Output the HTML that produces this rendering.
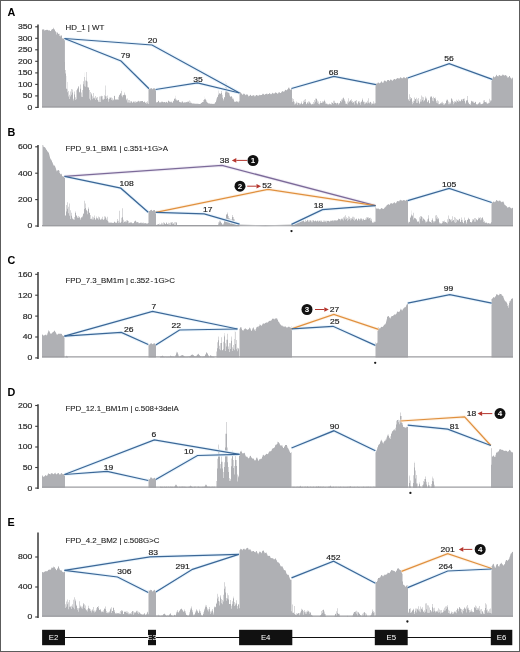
<!DOCTYPE html>
<html><head><meta charset="utf-8"><style>
html,body{margin:0;padding:0;background:#fff;}
body{width:520px;height:652px;overflow:hidden;position:relative;}
svg{position:absolute;left:0;top:0;display:block;filter:blur(0.3px);}
text{font-family:"Liberation Sans",sans-serif;}
.frame{position:absolute;left:0;top:0;width:518px;height:650px;border:1px solid #5c5c5c;}
</style></head><body>
<svg width="520" height="652" viewBox="0 0 520 652">
<path d="M42.00,107.40 L42.00,29.93 L42.50,29.93 L42.50,29.07 L43.00,29.07 L43.00,29.19 L43.50,29.19 L43.50,29.45 L44.00,29.45 L44.00,29.73 L44.50,29.73 L44.50,30.65 L45.00,30.65 L45.00,30.35 L45.50,30.35 L45.50,30.10 L46.00,30.10 L46.00,29.80 L46.50,29.80 L46.50,30.08 L47.00,30.08 L47.00,29.88 L47.50,29.88 L47.50,29.78 L48.00,29.78 L48.00,30.53 L48.50,30.53 L48.50,30.23 L49.00,30.23 L49.00,30.43 L49.50,30.43 L49.50,30.17 L50.00,30.17 L50.00,31.09 L50.50,31.09 L50.50,31.01 L51.00,31.01 L51.00,30.35 L51.50,30.35 L51.50,29.41 L52.00,29.41 L52.00,28.97 L52.50,28.97 L52.50,29.19 L53.00,29.19 L53.00,28.75 L53.50,28.75 L53.50,27.78 L54.00,27.78 L54.00,29.02 L54.50,29.02 L54.50,29.89 L55.00,29.89 L55.00,31.19 L55.50,31.19 L55.50,31.59 L56.00,31.59 L56.00,32.25 L56.50,32.25 L56.50,34.43 L57.00,34.43 L57.00,33.11 L57.50,33.11 L57.50,32.31 L58.00,32.31 L58.00,33.78 L58.50,33.78 L58.50,34.02 L59.00,34.02 L59.00,33.77 L59.50,33.77 L59.50,35.94 L60.00,35.94 L60.00,36.49 L60.50,36.49 L60.50,35.60 L61.00,35.60 L61.00,34.98 L61.50,34.98 L61.50,35.99 L62.00,35.99 L62.00,38.08 L62.50,38.08 L62.50,38.75 L63.00,38.75 L63.00,38.56 L63.50,38.56 L63.50,38.47 L64.00,38.47 L64.00,38.84 L64.50,38.84 L64.50,38.97 L64.90,38.97 L64.90,62.00 L65.00,62.00 L65.00,73.49 L65.50,73.49 L65.50,70.00 L66.00,70.00 L66.00,88.34 L66.30,88.34 L66.30,76.00 L66.50,76.00 L66.50,89.07 L67.00,89.07 L67.00,89.21 L67.20,89.21 L67.20,82.00 L67.50,82.00 L67.50,92.34 L68.00,92.34 L68.00,90.98 L68.50,90.98 L68.50,96.45 L69.00,96.45 L69.00,99.06 L69.50,99.06 L69.50,94.80 L70.00,94.80 L70.00,96.48 L70.50,96.48 L70.50,91.58 L71.00,91.58 L71.00,94.71 L71.50,94.71 L71.50,89.01 L72.00,89.01 L72.00,89.60 L72.50,89.60 L72.50,92.41 L73.00,92.41 L73.00,98.76 L73.50,98.76 L73.50,100.60 L74.00,100.60 L74.00,91.60 L74.50,91.60 L74.50,94.38 L75.00,94.38 L75.00,97.15 L75.50,97.15 L75.50,99.98 L76.00,99.98 L76.00,99.36 L76.50,99.36 L76.50,90.14 L77.00,90.14 L77.00,89.18 L77.50,89.18 L77.50,88.30 L78.00,88.30 L78.00,87.27 L78.50,87.27 L78.50,85.99 L79.00,85.99 L79.00,92.41 L79.50,92.41 L79.50,91.73 L80.00,91.73 L80.00,84.43 L80.50,84.43 L80.50,88.77 L81.00,88.77 L81.00,92.61 L81.50,92.61 L81.50,96.80 L82.00,96.80 L82.00,97.06 L82.50,97.06 L82.50,90.01 L83.00,90.01 L83.00,84.35 L83.50,84.35 L83.50,81.25 L84.00,81.25 L84.00,86.37 L84.40,86.37 L84.40,72.50 L84.50,72.50 L84.50,77.04 L85.00,77.04 L85.00,86.74 L85.50,86.74 L85.50,80.50 L86.00,80.50 L86.00,80.77 L86.50,80.77 L86.50,77.49 L86.60,77.49 L86.60,72.00 L87.00,72.00 L87.00,81.57 L87.50,81.57 L87.50,87.33 L88.00,87.33 L88.00,88.12 L88.50,88.12 L88.50,86.95 L89.00,86.95 L89.00,89.89 L89.50,89.89 L89.50,98.64 L90.00,98.64 L90.00,100.15 L90.50,100.15 L90.50,92.06 L91.00,92.06 L91.00,94.47 L91.50,94.47 L91.50,93.27 L92.00,93.27 L92.00,99.22 L92.50,99.22 L92.50,96.37 L93.00,96.37 L93.00,98.32 L93.50,98.32 L93.50,93.01 L94.00,93.01 L94.00,98.62 L94.50,98.62 L94.50,97.39 L95.00,97.39 L95.00,96.10 L95.50,96.10 L95.50,100.10 L96.00,100.10 L96.00,98.54 L96.50,98.54 L96.50,97.61 L97.00,97.61 L97.00,96.98 L97.50,96.98 L97.50,100.06 L98.00,100.06 L98.00,100.45 L98.50,100.45 L98.50,102.05 L99.00,102.05 L99.00,96.44 L99.50,96.44 L99.50,102.11 L100.00,102.11 L100.00,102.01 L100.50,102.01 L100.50,96.26 L101.00,96.26 L101.00,96.41 L101.50,96.41 L101.50,95.75 L102.00,95.75 L102.00,99.41 L102.50,99.41 L102.50,96.10 L103.00,96.10 L103.00,100.12 L103.50,100.12 L103.50,98.75 L104.00,98.75 L104.00,95.28 L104.50,95.28 L104.50,99.07 L105.00,99.07 L105.00,96.25 L105.50,96.25 L105.50,89.63 L105.60,89.63 L105.60,85.40 L106.00,85.40 L106.00,96.20 L106.50,96.20 L106.50,98.93 L107.00,98.93 L107.00,97.91 L107.50,97.91 L107.50,95.47 L108.00,95.47 L108.00,99.34 L108.50,99.34 L108.50,101.73 L109.00,101.73 L109.00,97.60 L109.50,97.60 L109.50,99.01 L110.00,99.01 L110.00,97.65 L110.50,97.65 L110.50,97.44 L111.00,97.44 L111.00,97.48 L111.50,97.48 L111.50,99.88 L112.00,99.88 L112.00,98.24 L112.50,98.24 L112.50,100.53 L113.00,100.53 L113.00,100.35 L113.50,100.35 L113.50,99.53 L114.00,99.53 L114.00,95.93 L114.50,95.93 L114.50,95.84 L115.00,95.84 L115.00,99.70 L115.50,99.70 L115.50,99.29 L116.00,99.29 L116.00,99.43 L116.50,99.43 L116.50,99.60 L117.00,99.60 L117.00,99.66 L117.50,99.66 L117.50,99.22 L118.00,99.22 L118.00,99.78 L118.50,99.78 L118.50,96.76 L119.00,96.76 L119.00,94.65 L119.50,94.65 L119.50,95.13 L120.00,95.13 L120.00,93.04 L120.50,93.04 L120.50,93.81 L121.00,93.81 L121.00,95.85 L121.40,95.85 L121.40,89.60 L121.50,89.60 L121.50,90.98 L122.00,90.98 L122.00,95.44 L122.50,95.44 L122.50,97.33 L123.00,97.33 L123.00,95.25 L123.50,95.25 L123.50,94.98 L124.00,94.98 L124.00,94.73 L124.50,94.73 L124.50,92.53 L125.00,92.53 L125.00,94.81 L125.50,94.81 L125.50,95.52 L126.00,95.52 L126.00,100.13 L126.50,100.13 L126.50,98.85 L127.00,98.85 L127.00,98.49 L127.50,98.49 L127.50,102.49 L128.00,102.49 L128.00,102.59 L128.50,102.59 L128.50,100.03 L129.00,100.03 L129.00,99.90 L129.50,99.90 L129.50,102.83 L130.00,102.83 L130.00,101.35 L130.50,101.35 L130.50,102.77 L131.00,102.77 L131.00,101.14 L131.50,101.14 L131.50,101.40 L132.00,101.40 L132.00,102.55 L132.50,102.55 L132.50,102.67 L133.00,102.67 L133.00,101.26 L133.50,101.26 L133.50,101.96 L134.00,101.96 L134.00,101.52 L134.50,101.52 L134.50,102.52 L135.00,102.52 L135.00,102.76 L135.50,102.76 L135.50,101.28 L136.00,101.28 L136.00,101.80 L136.50,101.80 L136.50,102.15 L137.00,102.15 L137.00,101.97 L137.50,101.97 L137.50,101.36 L138.00,101.36 L138.00,101.32 L138.50,101.32 L138.50,100.69 L139.00,100.69 L139.00,102.32 L139.50,102.32 L139.50,101.00 L140.00,101.00 L140.00,101.45 L140.50,101.45 L140.50,100.88 L141.00,100.88 L141.00,101.08 L141.50,101.08 L141.50,101.13 L142.00,101.13 L142.00,101.10 L142.50,101.10 L142.50,101.04 L143.00,101.04 L143.00,101.97 L143.50,101.97 L143.50,102.33 L144.00,102.33 L144.00,101.74 L144.50,101.74 L144.50,101.51 L145.00,101.51 L145.00,102.77 L145.50,102.77 L145.50,102.82 L146.00,102.82 L146.00,103.78 L146.50,103.78 L146.50,101.89 L147.00,101.89 L147.00,101.18 L147.50,101.18 L147.50,103.18 L148.00,103.18 L148.00,103.91 L148.50,103.91 L148.50,88.58 L149.00,88.58 L149.00,89.09 L149.50,89.09 L149.50,88.95 L150.00,88.95 L150.00,89.00 L150.50,89.00 L150.50,88.10 L151.00,88.10 L151.00,88.14 L151.50,88.14 L151.50,88.28 L152.00,88.28 L152.00,88.86 L152.50,88.86 L152.50,89.19 L153.00,89.19 L153.00,88.52 L153.50,88.52 L153.50,88.14 L154.00,88.14 L154.00,88.06 L154.50,88.06 L154.50,88.66 L155.00,88.66 L155.00,89.39 L155.50,89.39 L155.50,89.39 L156.00,89.39 L156.00,102.50 L156.50,102.50 L156.50,102.24 L157.00,102.24 L157.00,102.14 L157.50,102.14 L157.50,102.07 L158.00,102.07 L158.00,100.67 L158.50,100.67 L158.50,100.94 L159.00,100.94 L159.00,102.18 L159.50,102.18 L159.50,102.41 L160.00,102.41 L160.00,102.33 L160.50,102.33 L160.50,102.55 L161.00,102.55 L161.00,101.55 L161.50,101.55 L161.50,102.29 L162.00,102.29 L162.00,101.88 L162.50,101.88 L162.50,101.47 L163.00,101.47 L163.00,102.08 L163.50,102.08 L163.50,102.51 L164.00,102.51 L164.00,101.90 L164.50,101.90 L164.50,102.07 L165.00,102.07 L165.00,102.65 L165.50,102.65 L165.50,102.33 L166.00,102.33 L166.00,101.69 L166.50,101.69 L166.50,102.10 L167.00,102.10 L167.00,102.45 L167.50,102.45 L167.50,102.81 L168.00,102.81 L168.00,100.77 L168.50,100.77 L168.50,100.77 L169.00,100.77 L169.00,101.70 L169.50,101.70 L169.50,101.48 L170.00,101.48 L170.00,101.69 L170.50,101.69 L170.50,102.32 L171.00,102.32 L171.00,101.45 L171.50,101.45 L171.50,102.14 L172.00,102.14 L172.00,102.72 L172.50,102.72 L172.50,102.51 L173.00,102.51 L173.00,101.15 L173.50,101.15 L173.50,100.65 L174.00,100.65 L174.00,99.02 L174.50,99.02 L174.50,98.48 L175.00,98.48 L175.00,98.08 L175.30,98.08 L175.30,95.80 L175.50,95.80 L175.50,99.45 L176.00,99.45 L176.00,99.57 L176.50,99.57 L176.50,100.41 L177.00,100.41 L177.00,100.31 L177.50,100.31 L177.50,100.71 L178.00,100.71 L178.00,100.31 L178.50,100.31 L178.50,100.00 L179.00,100.00 L179.00,101.90 L179.50,101.90 L179.50,101.83 L180.00,101.83 L180.00,102.50 L180.50,102.50 L180.50,102.02 L181.00,102.02 L181.00,102.70 L181.50,102.70 L181.50,101.75 L182.00,101.75 L182.00,101.61 L182.50,101.61 L182.50,101.52 L183.00,101.52 L183.00,102.64 L183.50,102.64 L183.50,102.39 L184.00,102.39 L184.00,101.93 L184.50,101.93 L184.50,102.76 L185.00,102.76 L185.00,102.35 L185.50,102.35 L185.50,102.43 L186.00,102.43 L186.00,102.10 L186.50,102.10 L186.50,102.17 L187.00,102.17 L187.00,101.49 L187.50,101.49 L187.50,102.30 L188.00,102.30 L188.00,101.15 L188.50,101.15 L188.50,101.89 L189.00,101.89 L189.00,100.44 L189.50,100.44 L189.50,102.90 L190.00,102.90 L190.00,101.43 L190.50,101.43 L190.50,102.89 L191.00,102.89 L191.00,102.76 L191.50,102.76 L191.50,103.15 L192.00,103.15 L192.00,103.46 L192.50,103.46 L192.50,103.52 L193.00,103.52 L193.00,103.54 L193.50,103.54 L193.50,103.57 L194.00,103.57 L194.00,103.59 L194.50,103.59 L194.50,103.64 L195.00,103.64 L195.00,103.67 L195.50,103.67 L195.50,103.71 L196.00,103.71 L196.00,103.74 L196.50,103.74 L196.50,103.77 L197.00,103.77 L197.00,103.80 L197.50,103.80 L197.50,103.84 L198.00,103.84 L198.00,103.87 L198.50,103.87 L198.50,103.90 L199.00,103.90 L199.00,103.94 L199.50,103.94 L199.50,103.97 L200.00,103.97 L200.00,104.00 L200.50,104.00 L200.50,103.60 L201.00,103.60 L201.00,103.10 L201.50,103.10 L201.50,102.86 L202.00,102.86 L202.00,102.31 L202.50,102.31 L202.50,101.96 L203.00,101.96 L203.00,101.98 L203.50,101.98 L203.50,99.96 L204.00,99.96 L204.00,99.14 L204.50,99.14 L204.50,99.40 L204.90,99.40 L204.90,96.60 L205.00,96.60 L205.00,98.68 L205.50,98.68 L205.50,99.72 L206.00,99.72 L206.00,100.54 L206.50,100.54 L206.50,101.99 L207.00,101.99 L207.00,102.38 L207.50,102.38 L207.50,102.82 L208.00,102.82 L208.00,103.55 L208.50,103.55 L208.50,103.21 L209.00,103.21 L209.00,103.23 L209.50,103.23 L209.50,103.69 L210.00,103.69 L210.00,103.48 L210.50,103.48 L210.50,103.88 L211.00,103.88 L211.00,103.74 L211.50,103.74 L211.50,103.85 L212.00,103.85 L212.00,103.75 L212.50,103.75 L212.50,103.93 L213.00,103.93 L213.00,103.83 L213.50,103.83 L213.50,103.92 L214.00,103.92 L214.00,104.00 L214.50,104.00 L214.50,103.29 L215.00,103.29 L215.00,102.58 L215.50,102.58 L215.50,101.96 L216.00,101.96 L216.00,100.45 L216.50,100.45 L216.50,98.57 L217.00,98.57 L217.00,97.24 L217.50,97.24 L217.50,96.71 L218.00,96.71 L218.00,95.03 L218.50,95.03 L218.50,93.89 L218.70,93.89 L218.70,90.60 L219.00,90.60 L219.00,92.94 L219.50,92.94 L219.50,93.87 L220.00,93.87 L220.00,94.00 L220.50,94.00 L220.50,93.57 L221.00,93.57 L221.00,92.97 L221.50,92.97 L221.50,91.00 L222.00,91.00 L222.00,94.75 L222.50,94.75 L222.50,97.74 L223.00,97.74 L223.00,100.43 L223.50,100.43 L223.50,99.00 L224.00,99.00 L224.00,97.55 L224.50,97.55 L224.50,96.94 L225.00,96.94 L225.00,92.52 L225.50,92.52 L225.50,87.06 L225.90,87.06 L225.90,81.00 L226.00,81.00 L226.00,83.39 L226.50,83.39 L226.50,86.76 L227.00,86.76 L227.00,89.46 L227.50,89.46 L227.50,92.61 L228.00,92.61 L228.00,92.21 L228.50,92.21 L228.50,93.04 L229.00,93.04 L229.00,93.16 L229.50,93.16 L229.50,95.45 L230.00,95.45 L230.00,96.53 L230.50,96.53 L230.50,96.70 L231.00,96.70 L231.00,96.54 L231.50,96.54 L231.50,96.31 L232.00,96.31 L232.00,97.38 L232.50,97.38 L232.50,99.09 L233.00,99.09 L233.00,98.55 L233.50,98.55 L233.50,99.70 L234.00,99.70 L234.00,101.40 L234.50,101.40 L234.50,101.64 L235.00,101.64 L235.00,101.53 L235.50,101.53 L235.50,102.04 L236.00,102.04 L236.00,101.41 L236.50,101.41 L236.50,101.19 L237.00,101.19 L237.00,101.79 L237.50,101.79 L237.50,101.58 L238.00,101.58 L238.00,101.45 L238.50,101.45 L238.50,102.44 L239.00,102.44 L239.00,101.23 L239.50,101.23 L239.50,93.14 L240.00,93.14 L240.00,92.43 L240.50,92.43 L240.50,92.15 L241.00,92.15 L241.00,93.04 L241.50,93.04 L241.50,94.02 L242.00,94.02 L242.00,94.88 L242.50,94.88 L242.50,94.25 L243.00,94.25 L243.00,94.19 L243.50,94.19 L243.50,93.44 L244.00,93.44 L244.00,93.85 L244.50,93.85 L244.50,94.20 L245.00,94.20 L245.00,95.26 L245.50,95.26 L245.50,94.74 L246.00,94.74 L246.00,94.83 L246.50,94.83 L246.50,94.23 L247.00,94.23 L247.00,94.31 L247.50,94.31 L247.50,95.06 L248.00,95.06 L248.00,95.63 L248.50,95.63 L248.50,96.51 L249.00,96.51 L249.00,96.03 L249.50,96.03 L249.50,95.39 L250.00,95.39 L250.00,94.73 L250.50,94.73 L250.50,94.93 L251.00,94.93 L251.00,95.83 L251.50,95.83 L251.50,95.99 L252.00,95.99 L252.00,96.12 L252.50,96.12 L252.50,95.32 L253.00,95.32 L253.00,95.10 L253.50,95.10 L253.50,95.43 L254.00,95.43 L254.00,95.60 L254.50,95.60 L254.50,96.38 L255.00,96.38 L255.00,96.20 L255.50,96.20 L255.50,95.55 L256.00,95.55 L256.00,95.02 L256.50,95.02 L256.50,95.08 L257.00,95.08 L257.00,95.40 L257.50,95.40 L257.50,95.58 L258.00,95.58 L258.00,95.71 L258.50,95.71 L258.50,95.55 L259.00,95.55 L259.00,95.22 L259.50,95.22 L259.50,94.63 L260.00,94.63 L260.00,94.88 L260.50,94.88 L260.50,95.25 L261.00,95.25 L261.00,95.02 L261.50,95.02 L261.50,94.89 L262.00,94.89 L262.00,94.48 L262.50,94.48 L262.50,93.72 L263.00,93.72 L263.00,93.71 L263.50,93.71 L263.50,94.29 L264.00,94.29 L264.00,94.52 L264.50,94.52 L264.50,95.00 L265.00,95.00 L265.00,94.36 L265.50,94.36 L265.50,94.05 L266.00,94.05 L266.00,93.42 L266.50,93.42 L266.50,93.91 L267.00,93.91 L267.00,93.86 L267.50,93.86 L267.50,94.55 L268.00,94.55 L268.00,93.90 L268.50,93.90 L268.50,93.90 L269.00,93.90 L269.00,93.20 L269.50,93.20 L269.50,93.20 L270.00,93.20 L270.00,93.63 L270.50,93.63 L270.50,94.20 L271.00,94.20 L271.00,94.29 L271.50,94.29 L271.50,93.82 L272.00,93.82 L272.00,93.31 L272.50,93.31 L272.50,92.80 L273.00,92.80 L273.00,93.38 L273.50,93.38 L273.50,93.57 L274.00,93.57 L274.00,93.86 L274.50,93.86 L274.50,93.10 L275.00,93.10 L275.00,92.63 L275.50,92.63 L275.50,92.22 L276.00,92.22 L276.00,92.77 L276.50,92.77 L276.50,93.10 L277.00,93.10 L277.00,93.66 L277.50,93.66 L277.50,93.48 L278.00,93.48 L278.00,93.18 L278.50,93.18 L278.50,92.26 L279.00,92.26 L279.00,91.89 L279.50,91.89 L279.50,92.64 L280.00,92.64 L280.00,93.09 L280.50,93.09 L280.50,93.09 L281.00,93.09 L281.00,92.38 L281.50,92.38 L281.50,91.84 L282.00,91.84 L282.00,90.93 L282.50,90.93 L282.50,91.44 L283.00,91.44 L283.00,91.45 L283.50,91.45 L283.50,91.81 L284.00,91.81 L284.00,91.48 L284.50,91.48 L284.50,90.78 L285.00,90.78 L285.00,89.98 L285.50,89.98 L285.50,89.65 L286.00,89.65 L286.00,90.32 L286.50,90.32 L286.50,90.29 L287.00,90.29 L287.00,89.82 L287.50,89.82 L287.50,89.04 L288.00,89.04 L288.00,88.27 L288.50,88.27 L288.50,87.58 L289.00,87.58 L289.00,87.84 L289.50,87.84 L289.50,89.10 L290.00,89.10 L290.00,89.89 L290.50,89.89 L290.50,89.19 L291.00,89.19 L291.00,88.78 L291.50,88.78 L291.50,87.99 L292.00,87.99 L292.00,98.22 L292.50,98.22 L292.50,101.98 L293.00,101.98 L293.00,98.99 L293.50,98.99 L293.50,101.19 L294.00,101.19 L294.00,101.66 L294.50,101.66 L294.50,104.56 L295.00,104.56 L295.00,103.26 L295.50,103.26 L295.50,104.36 L296.00,104.36 L296.00,103.29 L296.50,103.29 L296.50,101.47 L297.00,101.47 L297.00,104.95 L297.50,104.95 L297.50,102.46 L298.00,102.46 L298.00,102.67 L298.50,102.67 L298.50,103.11 L299.00,103.11 L299.00,104.51 L299.50,104.51 L299.50,102.92 L300.00,102.92 L300.00,103.38 L300.50,103.38 L300.50,104.16 L301.00,104.16 L301.00,103.30 L301.50,103.30 L301.50,101.47 L302.00,101.47 L302.00,103.97 L302.50,103.97 L302.50,104.30 L303.00,104.30 L303.00,100.65 L303.50,100.65 L303.50,103.18 L304.00,103.18 L304.00,102.02 L304.50,102.02 L304.50,99.85 L305.00,99.85 L305.00,98.89 L305.50,98.89 L305.50,102.02 L306.00,102.02 L306.00,103.78 L306.50,103.78 L306.50,104.22 L307.00,104.22 L307.00,102.86 L307.50,102.86 L307.50,102.31 L308.00,102.31 L308.00,103.69 L308.50,103.69 L308.50,101.29 L309.00,101.29 L309.00,102.45 L309.50,102.45 L309.50,101.57 L310.00,101.57 L310.00,103.65 L310.50,103.65 L310.50,102.80 L311.00,102.80 L311.00,104.13 L311.50,104.13 L311.50,104.51 L312.00,104.51 L312.00,103.70 L312.50,103.70 L312.50,104.21 L313.00,104.21 L313.00,102.02 L313.50,102.02 L313.50,104.28 L314.00,104.28 L314.00,103.59 L314.50,103.59 L314.50,100.08 L315.00,100.08 L315.00,101.77 L315.50,101.77 L315.50,98.40 L316.00,98.40 L316.00,98.41 L316.50,98.41 L316.50,99.03 L317.00,99.03 L317.00,102.76 L317.50,102.76 L317.50,100.57 L318.00,100.57 L318.00,101.59 L318.50,101.59 L318.50,104.03 L319.00,104.03 L319.00,104.46 L319.50,104.46 L319.50,103.62 L320.00,103.62 L320.00,102.88 L320.50,102.88 L320.50,101.01 L321.00,101.01 L321.00,102.93 L321.50,102.93 L321.50,102.82 L322.00,102.82 L322.00,102.69 L322.50,102.69 L322.50,101.15 L323.00,101.15 L323.00,101.25 L323.50,101.25 L323.50,102.37 L324.00,102.37 L324.00,100.94 L324.50,100.94 L324.50,99.76 L325.00,99.76 L325.00,101.74 L325.50,101.74 L325.50,103.63 L326.00,103.63 L326.00,103.96 L326.50,103.96 L326.50,103.23 L327.00,103.23 L327.00,103.76 L327.50,103.76 L327.50,104.40 L328.00,104.40 L328.00,103.94 L328.50,103.94 L328.50,104.65 L329.00,104.65 L329.00,103.46 L329.50,103.46 L329.50,104.15 L330.00,104.15 L330.00,104.16 L330.50,104.16 L330.50,104.27 L331.00,104.27 L331.00,104.64 L331.50,104.64 L331.50,102.36 L332.00,102.36 L332.00,102.71 L332.50,102.71 L332.50,102.91 L333.00,102.91 L333.00,100.86 L333.50,100.86 L333.50,103.92 L334.00,103.92 L334.00,102.73 L334.50,102.73 L334.50,100.80 L335.00,100.80 L335.00,102.79 L335.50,102.79 L335.50,103.10 L336.00,103.10 L336.00,102.89 L336.50,102.89 L336.50,104.28 L337.00,104.28 L337.00,103.06 L337.50,103.06 L337.50,102.84 L338.00,102.84 L338.00,104.70 L338.50,104.70 L338.50,103.52 L339.00,103.52 L339.00,102.97 L339.50,102.97 L339.50,103.61 L340.00,103.61 L340.00,101.03 L340.50,101.03 L340.50,101.14 L341.00,101.14 L341.00,102.30 L341.50,102.30 L341.50,99.38 L342.00,99.38 L342.00,98.53 L342.50,98.53 L342.50,100.20 L343.00,100.20 L343.00,98.21 L343.50,98.21 L343.50,97.58 L344.00,97.58 L344.00,99.31 L344.50,99.31 L344.50,100.87 L345.00,100.87 L345.00,101.41 L345.50,101.41 L345.50,103.64 L346.00,103.64 L346.00,103.91 L346.50,103.91 L346.50,103.51 L347.00,103.51 L347.00,104.49 L347.50,104.49 L347.50,101.61 L348.00,101.61 L348.00,102.81 L348.50,102.81 L348.50,98.34 L349.00,98.34 L349.00,101.80 L349.50,101.80 L349.50,101.17 L350.00,101.17 L350.00,100.80 L350.50,100.80 L350.50,100.00 L351.00,100.00 L351.00,99.23 L351.50,99.23 L351.50,101.84 L352.00,101.84 L352.00,100.92 L352.50,100.92 L352.50,102.97 L353.00,102.97 L353.00,102.28 L353.50,102.28 L353.50,102.24 L354.00,102.24 L354.00,104.38 L354.50,104.38 L354.50,101.33 L355.00,101.33 L355.00,100.79 L355.50,100.79 L355.50,101.21 L356.00,101.21 L356.00,99.99 L356.50,99.99 L356.50,103.14 L357.00,103.14 L357.00,103.40 L357.50,103.40 L357.50,104.58 L358.00,104.58 L358.00,101.57 L358.50,101.57 L358.50,101.53 L359.00,101.53 L359.00,101.18 L359.50,101.18 L359.50,102.97 L360.00,102.97 L360.00,102.54 L360.50,102.54 L360.50,104.77 L361.00,104.77 L361.00,102.07 L361.50,102.07 L361.50,101.34 L362.00,101.34 L362.00,100.03 L362.50,100.03 L362.50,98.40 L363.00,98.40 L363.00,101.61 L363.50,101.61 L363.50,102.33 L364.00,102.33 L364.00,101.77 L364.50,101.77 L364.50,104.32 L365.00,104.32 L365.00,103.70 L365.50,103.70 L365.50,102.44 L366.00,102.44 L366.00,102.13 L366.50,102.13 L366.50,102.73 L367.00,102.73 L367.00,100.71 L367.50,100.71 L367.50,103.42 L368.00,103.42 L368.00,98.24 L368.50,98.24 L368.50,102.70 L369.00,102.70 L369.00,102.52 L369.50,102.52 L369.50,103.46 L370.00,103.46 L370.00,101.78 L370.50,101.78 L370.50,102.03 L371.00,102.03 L371.00,102.71 L371.50,102.71 L371.50,104.53 L372.00,104.53 L372.00,103.61 L372.50,103.61 L372.50,103.78 L373.00,103.78 L373.00,103.76 L373.50,103.76 L373.50,101.14 L374.00,101.14 L374.00,104.30 L374.50,104.30 L374.50,102.80 L375.00,102.80 L375.00,103.21 L375.50,103.21 L375.50,83.49 L376.00,83.49 L376.00,83.33 L376.50,83.33 L376.50,83.71 L377.00,83.71 L377.00,83.48 L377.50,83.48 L377.50,82.65 L378.00,82.65 L378.00,82.36 L378.50,82.36 L378.50,83.08 L379.00,83.08 L379.00,82.97 L379.50,82.97 L379.50,83.45 L380.00,83.45 L380.00,82.93 L380.50,82.93 L380.50,82.31 L381.00,82.31 L381.00,81.40 L381.50,81.40 L381.50,81.38 L382.00,81.38 L382.00,82.42 L382.50,82.42 L382.50,82.75 L383.00,82.75 L383.00,82.70 L383.50,82.70 L383.50,81.60 L384.00,81.60 L384.00,80.82 L384.50,80.82 L384.50,80.45 L385.00,80.45 L385.00,80.69 L385.50,80.69 L385.50,81.30 L386.00,81.30 L386.00,82.06 L386.50,82.06 L386.50,81.01 L387.00,81.01 L387.00,80.29 L387.50,80.29 L387.50,79.97 L388.00,79.97 L388.00,79.96 L388.50,79.96 L388.50,80.05 L389.00,80.05 L389.00,80.70 L389.50,80.70 L389.50,80.72 L390.00,80.72 L390.00,79.87 L390.50,79.87 L390.50,79.54 L391.00,79.54 L391.00,79.63 L391.50,79.63 L391.50,80.18 L392.00,80.18 L392.00,80.46 L392.50,80.46 L392.50,80.86 L393.00,80.86 L393.00,79.98 L393.50,79.98 L393.50,79.32 L394.00,79.32 L394.00,78.96 L394.50,78.96 L394.50,78.95 L395.00,78.95 L395.00,79.46 L395.50,79.46 L395.50,79.38 L396.00,79.38 L396.00,79.09 L396.50,79.09 L396.50,78.46 L397.00,78.46 L397.00,78.14 L397.50,78.14 L397.50,77.89 L398.00,77.89 L398.00,78.22 L398.50,78.22 L398.50,78.54 L399.00,78.54 L399.00,78.64 L399.50,78.64 L399.50,77.93 L400.00,77.93 L400.00,77.40 L400.50,77.40 L400.50,77.37 L401.00,77.37 L401.00,77.68 L401.50,77.68 L401.50,78.30 L402.00,78.30 L402.00,78.41 L402.50,78.41 L402.50,78.04 L403.00,78.04 L403.00,77.38 L403.50,77.38 L403.50,77.28 L404.00,77.28 L404.00,77.35 L404.50,77.35 L404.50,77.79 L405.00,77.79 L405.00,78.13 L405.50,78.13 L405.50,78.08 L406.00,78.08 L406.00,77.55 L406.50,77.55 L406.50,77.06 L407.00,77.06 L407.00,77.25 L407.50,77.25 L407.50,77.68 L408.00,77.68 L408.00,100.18 L408.50,100.18 L408.50,98.89 L409.00,98.89 L409.00,100.90 L409.50,100.90 L409.50,94.20 L410.00,94.20 L410.00,99.19 L410.50,99.19 L410.50,97.07 L411.00,97.07 L411.00,98.15 L411.50,98.15 L411.50,98.27 L412.00,98.27 L412.00,104.29 L412.50,104.29 L412.50,101.71 L413.00,101.71 L413.00,100.87 L413.50,100.87 L413.50,103.00 L414.00,103.00 L414.00,97.62 L414.50,97.62 L414.50,100.99 L415.00,100.99 L415.00,98.95 L415.50,98.95 L415.50,99.37 L416.00,99.37 L416.00,102.94 L416.50,102.94 L416.50,97.65 L417.00,97.65 L417.00,99.28 L417.50,99.28 L417.50,102.97 L418.00,102.97 L418.00,101.14 L418.50,101.14 L418.50,98.12 L419.00,98.12 L419.00,103.99 L419.50,103.99 L419.50,102.72 L420.00,102.72 L420.00,101.85 L420.50,101.85 L420.50,99.36 L421.00,99.36 L421.00,101.42 L421.50,101.42 L421.50,95.57 L422.00,95.57 L422.00,99.90 L422.50,99.90 L422.50,96.65 L423.00,96.65 L423.00,97.19 L423.50,97.19 L423.50,101.55 L424.00,101.55 L424.00,100.80 L424.50,100.80 L424.50,99.93 L425.00,99.93 L425.00,96.39 L425.50,96.39 L425.50,98.59 L426.00,98.59 L426.00,99.35 L426.50,99.35 L426.50,97.84 L427.00,97.84 L427.00,102.36 L427.50,102.36 L427.50,101.67 L428.00,101.67 L428.00,100.17 L428.50,100.17 L428.50,100.40 L429.00,100.40 L429.00,103.05 L429.50,103.05 L429.50,103.55 L430.00,103.55 L430.00,96.49 L430.50,96.49 L430.50,97.43 L431.00,97.43 L431.00,96.56 L431.50,96.56 L431.50,96.48 L432.00,96.48 L432.00,100.68 L432.50,100.68 L432.50,98.10 L433.00,98.10 L433.00,96.63 L433.50,96.63 L433.50,101.23 L434.00,101.23 L434.00,97.95 L434.50,97.95 L434.50,98.18 L435.00,98.18 L435.00,97.56 L435.50,97.56 L435.50,99.17 L436.00,99.17 L436.00,102.76 L436.50,102.76 L436.50,101.01 L437.00,101.01 L437.00,103.33 L437.50,103.33 L437.50,100.34 L438.00,100.34 L438.00,101.14 L438.50,101.14 L438.50,104.13 L439.00,104.13 L439.00,103.99 L439.50,103.99 L439.50,104.27 L440.00,104.27 L440.00,103.41 L440.50,103.41 L440.50,103.36 L441.00,103.36 L441.00,103.56 L441.50,103.56 L441.50,102.32 L442.00,102.32 L442.00,101.77 L442.50,101.77 L442.50,103.49 L443.00,103.49 L443.00,103.07 L443.50,103.07 L443.50,104.65 L444.00,104.65 L444.00,104.77 L444.50,104.77 L444.50,103.85 L445.00,103.85 L445.00,102.94 L445.50,102.94 L445.50,103.45 L446.00,103.45 L446.00,101.00 L446.50,101.00 L446.50,99.75 L447.00,99.75 L447.00,100.13 L447.50,100.13 L447.50,99.51 L448.00,99.51 L448.00,104.17 L448.50,104.17 L448.50,101.56 L449.00,101.56 L449.00,102.49 L449.50,102.49 L449.50,104.35 L450.00,104.35 L450.00,102.61 L450.50,102.61 L450.50,103.70 L451.00,103.70 L451.00,98.97 L451.50,98.97 L451.50,98.09 L452.00,98.09 L452.00,99.54 L452.50,99.54 L452.50,101.06 L453.00,101.06 L453.00,102.08 L453.50,102.08 L453.50,104.36 L454.00,104.36 L454.00,102.80 L454.50,102.80 L454.50,101.12 L455.00,101.12 L455.00,101.18 L455.50,101.18 L455.50,101.98 L456.00,101.98 L456.00,99.76 L456.50,99.76 L456.50,102.53 L457.00,102.53 L457.00,101.11 L457.50,101.11 L457.50,100.64 L458.00,100.64 L458.00,99.58 L458.50,99.58 L458.50,101.90 L459.00,101.90 L459.00,101.26 L459.50,101.26 L459.50,100.57 L460.00,100.57 L460.00,101.46 L460.50,101.46 L460.50,101.05 L461.00,101.05 L461.00,99.53 L461.50,99.53 L461.50,99.41 L462.00,99.41 L462.00,99.33 L462.50,99.33 L462.50,101.06 L463.00,101.06 L463.00,98.87 L463.50,98.87 L463.50,99.01 L464.00,99.01 L464.00,101.11 L464.50,101.11 L464.50,98.57 L465.00,98.57 L465.00,103.85 L465.50,103.85 L465.50,102.62 L466.00,102.62 L466.00,99.97 L466.50,99.97 L466.50,100.92 L467.00,100.92 L467.00,100.17 L467.50,100.17 L467.50,95.96 L468.00,95.96 L468.00,102.33 L468.50,102.33 L468.50,103.18 L469.00,103.18 L469.00,104.36 L469.50,104.36 L469.50,103.91 L470.00,103.91 L470.00,103.55 L470.50,103.55 L470.50,104.89 L471.00,104.89 L471.00,100.67 L471.50,100.67 L471.50,101.15 L472.00,101.15 L472.00,101.91 L472.50,101.91 L472.50,100.91 L473.00,100.91 L473.00,101.44 L473.50,101.44 L473.50,102.85 L474.00,102.85 L474.00,102.95 L474.50,102.95 L474.50,102.74 L475.00,102.74 L475.00,101.80 L475.50,101.80 L475.50,101.99 L476.00,101.99 L476.00,103.92 L476.50,103.92 L476.50,104.50 L477.00,104.50 L477.00,104.32 L477.50,104.32 L477.50,104.38 L478.00,104.38 L478.00,103.66 L478.50,103.66 L478.50,103.28 L479.00,103.28 L479.00,102.85 L479.50,102.85 L479.50,101.88 L480.00,101.88 L480.00,102.40 L480.50,102.40 L480.50,104.25 L481.00,104.25 L481.00,104.06 L481.50,104.06 L481.50,104.22 L482.00,104.22 L482.00,103.83 L482.50,103.83 L482.50,103.81 L483.00,103.81 L483.00,103.30 L483.50,103.30 L483.50,100.47 L484.00,100.47 L484.00,99.88 L484.50,99.88 L484.50,101.67 L485.00,101.67 L485.00,102.07 L485.50,102.07 L485.50,102.18 L486.00,102.18 L486.00,103.17 L486.50,103.17 L486.50,101.81 L487.00,101.81 L487.00,103.57 L487.50,103.57 L487.50,103.86 L488.00,103.86 L488.00,103.51 L488.50,103.51 L488.50,102.77 L489.00,102.77 L489.00,98.71 L489.50,98.71 L489.50,103.05 L490.00,103.05 L490.00,101.57 L490.50,101.57 L490.50,100.17 L491.00,100.17 L491.00,100.48 L491.50,100.48 L491.50,79.19 L492.00,79.19 L492.00,78.78 L492.50,78.78 L492.50,77.85 L493.00,77.85 L493.00,76.43 L493.50,76.43 L493.50,76.55 L494.00,76.55 L494.00,76.99 L494.50,76.99 L494.50,77.46 L495.00,77.46 L495.00,76.90 L495.50,76.90 L495.50,76.12 L496.00,76.12 L496.00,74.87 L496.50,74.87 L496.50,75.25 L497.00,75.25 L497.00,76.08 L497.50,76.08 L497.50,76.14 L498.00,76.14 L498.00,76.45 L498.50,76.45 L498.50,75.56 L499.00,75.56 L499.00,75.37 L499.50,75.37 L499.50,75.03 L500.00,75.03 L500.00,75.59 L500.50,75.59 L500.50,75.91 L501.00,75.91 L501.00,76.01 L501.50,76.01 L501.50,75.55 L502.00,75.55 L502.00,75.23 L502.50,75.23 L502.50,74.52 L503.00,74.52 L503.00,74.83 L503.50,74.83 L503.50,75.37 L504.00,75.37 L504.00,75.47 L504.50,75.47 L504.50,75.61 L505.00,75.61 L505.00,74.91 L505.50,74.91 L505.50,75.23 L506.00,75.23 L506.00,75.42 L506.50,75.42 L506.50,76.33 L507.00,76.33 L507.00,76.58 L507.50,76.58 L507.50,77.67 L508.00,77.67 L508.00,77.50 L508.50,77.50 L508.50,76.88 L509.00,76.88 L509.00,76.00 L509.50,76.00 L509.50,76.09 L510.00,76.09 L510.00,77.33 L510.50,77.33 L510.50,77.98 L511.00,77.98 L511.00,79.26 L511.50,79.26 L511.50,78.21 L512.00,78.21 L512.00,77.47 L512.50,77.47 L512.50,78.33 L513.00,78.33 L513.00,79.97 L513.00,79.97 L513.00,107.40 Z" fill="#afb0b4"/>
<path d="M42.00,226.20 L42.00,226.20 L42.50,226.20 L42.50,145.02 L43.00,145.02 L43.00,145.57 L43.50,145.57 L43.50,147.09 L44.00,147.09 L44.00,147.16 L44.50,147.16 L44.50,147.11 L45.00,147.11 L45.00,147.66 L45.50,147.66 L45.50,148.41 L46.00,148.41 L46.00,149.49 L46.50,149.49 L46.50,150.05 L47.00,150.05 L47.00,150.89 L47.50,150.89 L47.50,151.66 L48.00,151.66 L48.00,152.05 L48.50,152.05 L48.50,153.02 L49.00,153.02 L49.00,154.59 L49.50,154.59 L49.50,156.45 L50.00,156.45 L50.00,158.33 L50.50,158.33 L50.50,159.23 L51.00,159.23 L51.00,159.70 L51.50,159.70 L51.50,160.73 L52.00,160.73 L52.00,162.05 L52.50,162.05 L52.50,163.18 L53.00,163.18 L53.00,164.38 L53.50,164.38 L53.50,165.45 L54.00,165.45 L54.00,165.61 L54.50,165.61 L54.50,165.77 L55.00,165.77 L55.00,166.67 L55.50,166.67 L55.50,168.18 L56.00,168.18 L56.00,169.69 L56.50,169.69 L56.50,171.24 L57.00,171.24 L57.00,170.69 L57.50,170.69 L57.50,170.16 L58.00,170.16 L58.00,169.90 L58.50,169.90 L58.50,170.18 L59.00,170.18 L59.00,170.75 L59.50,170.75 L59.50,172.95 L60.00,172.95 L60.00,173.71 L60.50,173.71 L60.50,174.17 L61.00,174.17 L61.00,173.73 L61.50,173.73 L61.50,174.55 L62.00,174.55 L62.00,175.98 L62.50,175.98 L62.50,176.51 L63.00,176.51 L63.00,176.87 L63.50,176.87 L63.50,176.36 L64.00,176.36 L64.00,176.09 L64.50,176.09 L64.50,176.59 L65.00,176.59 L65.00,215.94 L65.50,215.94 L65.50,215.10 L66.00,215.10 L66.00,211.56 L66.50,211.56 L66.50,205.12 L67.00,205.12 L67.00,208.79 L67.50,208.79 L67.50,202.30 L68.00,202.30 L68.00,206.72 L68.50,206.72 L68.50,213.17 L69.00,213.17 L69.00,203.46 L69.50,203.46 L69.50,215.78 L70.00,215.78 L70.00,219.05 L70.50,219.05 L70.50,210.37 L71.00,210.37 L71.00,212.69 L71.50,212.69 L71.50,215.76 L72.00,215.76 L72.00,217.69 L72.50,217.69 L72.50,219.03 L73.00,219.03 L73.00,218.96 L73.50,218.96 L73.50,219.71 L74.00,219.71 L74.00,219.66 L74.50,219.66 L74.50,217.09 L75.00,217.09 L75.00,213.04 L75.50,213.04 L75.50,211.54 L76.00,211.54 L76.00,215.77 L76.50,215.77 L76.50,215.23 L77.00,215.23 L77.00,218.08 L77.50,218.08 L77.50,216.68 L78.00,216.68 L78.00,217.89 L78.50,217.89 L78.50,216.08 L79.00,216.08 L79.00,216.68 L79.50,216.68 L79.50,217.56 L80.00,217.56 L80.00,218.27 L80.50,218.27 L80.50,219.66 L81.00,219.66 L81.00,217.73 L81.50,217.73 L81.50,216.91 L82.00,216.91 L82.00,217.14 L82.50,217.14 L82.50,215.82 L83.00,215.82 L83.00,213.20 L83.50,213.20 L83.50,213.97 L84.00,213.97 L84.00,208.98 L84.50,208.98 L84.50,200.80 L85.00,200.80 L85.00,203.44 L85.50,203.44 L85.50,208.00 L86.00,208.00 L86.00,209.71 L86.50,209.71 L86.50,210.49 L87.00,210.49 L87.00,211.18 L87.50,211.18 L87.50,214.29 L88.00,214.29 L88.00,207.48 L88.50,207.48 L88.50,208.89 L89.00,208.89 L89.00,212.87 L89.50,212.87 L89.50,212.68 L90.00,212.68 L90.00,218.94 L90.50,218.94 L90.50,215.05 L91.00,215.05 L91.00,219.14 L91.50,219.14 L91.50,218.44 L92.00,218.44 L92.00,216.44 L92.50,216.44 L92.50,219.45 L93.00,219.45 L93.00,219.45 L93.50,219.45 L93.50,217.16 L94.00,217.16 L94.00,218.11 L94.50,218.11 L94.50,215.39 L95.00,215.39 L95.00,219.56 L95.50,219.56 L95.50,219.82 L96.00,219.82 L96.00,216.51 L96.50,216.51 L96.50,218.18 L97.00,218.18 L97.00,218.04 L97.50,218.04 L97.50,218.67 L98.00,218.67 L98.00,219.73 L98.50,219.73 L98.50,216.62 L99.00,216.62 L99.00,218.49 L99.50,218.49 L99.50,216.99 L100.00,216.99 L100.00,219.75 L100.50,219.75 L100.50,219.43 L101.00,219.43 L101.00,218.49 L101.50,218.49 L101.50,219.42 L102.00,219.42 L102.00,216.83 L102.50,216.83 L102.50,219.33 L103.00,219.33 L103.00,219.86 L103.50,219.86 L103.50,219.64 L104.00,219.64 L104.00,219.29 L104.50,219.29 L104.50,216.28 L105.00,216.28 L105.00,216.54 L105.50,216.54 L105.50,217.51 L106.00,217.51 L106.00,218.59 L106.50,218.59 L106.50,219.94 L107.00,219.94 L107.00,216.78 L107.50,216.78 L107.50,220.66 L108.00,220.66 L108.00,221.60 L108.50,221.60 L108.50,222.71 L109.00,222.71 L109.00,222.24 L109.50,222.24 L109.50,222.90 L110.00,222.90 L110.00,222.99 L110.50,222.99 L110.50,222.13 L111.00,222.13 L111.00,223.03 L111.50,223.03 L111.50,222.37 L112.00,222.37 L112.00,222.97 L112.50,222.97 L112.50,222.86 L113.00,222.86 L113.00,222.93 L113.50,222.93 L113.50,222.64 L114.00,222.64 L114.00,221.71 L114.50,221.71 L114.50,221.81 L115.00,221.81 L115.00,222.36 L115.50,222.36 L115.50,223.01 L116.00,223.01 L116.00,222.88 L116.50,222.88 L116.50,222.61 L117.00,222.61 L117.00,221.13 L117.50,221.13 L117.50,218.97 L118.00,218.97 L118.00,223.06 L118.50,223.06 L118.50,220.75 L119.00,220.75 L119.00,210.80 L119.50,210.80 L119.50,222.41 L120.00,222.41 L120.00,222.92 L120.50,222.92 L120.50,222.40 L121.00,222.40 L121.00,217.78 L121.50,217.78 L121.50,221.68 L122.00,221.68 L122.00,217.23 L122.50,217.23 L122.50,208.20 L123.00,208.20 L123.00,219.84 L123.50,219.84 L123.50,222.77 L124.00,222.77 L124.00,221.96 L124.50,221.96 L124.50,221.48 L125.00,221.48 L125.00,220.95 L125.50,220.95 L125.50,222.26 L126.00,222.26 L126.00,220.35 L126.50,220.35 L126.50,222.28 L127.00,222.28 L127.00,220.28 L127.50,220.28 L127.50,220.78 L128.00,220.78 L128.00,221.01 L128.50,221.01 L128.50,223.16 L129.00,223.16 L129.00,223.05 L129.50,223.05 L129.50,222.46 L130.00,222.46 L130.00,222.05 L130.50,222.05 L130.50,223.01 L131.00,223.01 L131.00,222.16 L131.50,222.16 L131.50,222.69 L132.00,222.69 L132.00,223.30 L132.50,223.30 L132.50,223.24 L133.00,223.24 L133.00,223.31 L133.50,223.31 L133.50,223.03 L134.00,223.03 L134.00,221.22 L134.50,221.22 L134.50,221.70 L135.00,221.70 L135.00,220.77 L135.50,220.77 L135.50,220.67 L136.00,220.67 L136.00,222.50 L136.50,222.50 L136.50,221.64 L137.00,221.64 L137.00,222.02 L137.50,222.02 L137.50,222.15 L138.00,222.15 L138.00,223.30 L138.50,223.30 L138.50,222.20 L139.00,222.20 L139.00,223.28 L139.50,223.28 L139.50,223.06 L140.00,223.06 L140.00,222.82 L140.50,222.82 L140.50,222.70 L141.00,222.70 L141.00,222.52 L141.50,222.52 L141.50,223.17 L142.00,223.17 L142.00,223.19 L142.50,223.19 L142.50,222.70 L143.00,222.70 L143.00,223.42 L143.50,223.42 L143.50,222.58 L144.00,222.58 L144.00,223.23 L144.50,223.23 L144.50,223.17 L145.00,223.17 L145.00,223.26 L145.50,223.26 L145.50,222.89 L146.00,222.89 L146.00,223.38 L146.50,223.38 L146.50,223.41 L147.00,223.41 L147.00,223.46 L147.50,223.46 L147.50,223.42 L148.00,223.42 L148.00,222.88 L148.50,222.88 L148.50,211.02 L149.00,211.02 L149.00,210.92 L149.50,210.92 L149.50,211.07 L150.00,211.07 L150.00,210.45 L150.50,210.45 L150.50,209.88 L151.00,209.88 L151.00,209.77 L151.50,209.77 L151.50,210.12 L152.00,210.12 L152.00,210.80 L152.50,210.80 L152.50,211.00 L153.00,211.00 L153.00,210.40 L153.50,210.40 L153.50,209.97 L154.00,209.97 L154.00,209.96 L154.50,209.96 L154.50,210.35 L155.00,210.35 L155.00,211.03 L155.50,211.03 L155.50,211.44 L156.00,211.44 L156.00,224.76 L156.50,224.76 L156.50,225.22 L157.00,225.22 L157.00,225.40 L157.50,225.40 L157.50,224.00 L158.00,224.00 L158.00,224.18 L158.50,224.18 L158.50,223.98 L159.00,223.98 L159.00,225.04 L159.50,225.04 L159.50,223.60 L160.00,223.60 L160.00,223.92 L160.50,223.92 L160.50,225.12 L161.00,225.12 L161.00,224.57 L161.50,224.57 L161.50,222.74 L162.00,222.74 L162.00,223.20 L162.50,223.20 L162.50,224.85 L163.00,224.85 L163.00,224.84 L163.50,224.84 L163.50,222.25 L164.00,222.25 L164.00,223.29 L164.50,223.29 L164.50,222.70 L165.00,222.70 L165.00,224.16 L165.50,224.16 L165.50,223.95 L166.00,223.95 L166.00,222.62 L166.50,222.62 L166.50,222.87 L167.00,222.87 L167.00,223.94 L167.50,223.94 L167.50,224.14 L168.00,224.14 L168.00,222.85 L168.50,222.85 L168.50,224.44 L169.00,224.44 L169.00,224.87 L169.50,224.87 L169.50,222.95 L170.00,222.95 L170.00,225.03 L170.50,225.03 L170.50,222.38 L171.00,222.38 L171.00,222.38 L171.50,222.38 L171.50,222.60 L172.00,222.60 L172.00,222.09 L172.50,222.09 L172.50,224.37 L173.00,224.37 L173.00,223.39 L173.50,223.39 L173.50,223.41 L174.00,223.41 L174.00,224.92 L174.50,224.92 L174.50,222.31 L175.00,222.31 L175.00,225.20 L175.50,225.20 L175.50,222.12 L176.00,222.12 L176.00,222.81 L176.50,222.81 L176.50,222.19 L177.00,222.19 L177.00,225.77 L177.50,225.77 L177.50,225.09 L178.00,225.09 L178.00,225.06 L178.50,225.06 L178.50,225.16 L179.00,225.16 L179.00,225.28 L179.50,225.28 L179.50,225.24 L180.00,225.24 L180.00,225.35 L180.50,225.35 L180.50,225.14 L181.00,225.14 L181.00,225.29 L181.50,225.29 L181.50,225.31 L182.00,225.31 L182.00,225.41 L182.50,225.41 L182.50,225.26 L183.00,225.26 L183.00,225.28 L183.50,225.28 L183.50,225.09 L184.00,225.09 L184.00,225.17 L184.50,225.17 L184.50,225.45 L185.00,225.45 L185.00,225.17 L185.50,225.17 L185.50,225.52 L186.00,225.52 L186.00,225.31 L186.50,225.31 L186.50,225.29 L187.00,225.29 L187.00,225.18 L187.50,225.18 L187.50,225.75 L188.00,225.75 L188.00,225.64 L188.50,225.64 L188.50,225.60 L189.00,225.60 L189.00,225.26 L189.50,225.26 L189.50,225.61 L190.00,225.61 L190.00,225.29 L190.50,225.29 L190.50,225.11 L191.00,225.11 L191.00,225.38 L191.50,225.38 L191.50,225.55 L192.00,225.55 L192.00,225.27 L192.50,225.27 L192.50,225.40 L193.00,225.40 L193.00,225.39 L193.50,225.39 L193.50,225.61 L194.00,225.61 L194.00,225.24 L194.50,225.24 L194.50,225.46 L195.00,225.46 L195.00,225.08 L195.50,225.08 L195.50,225.34 L196.00,225.34 L196.00,225.23 L196.50,225.23 L196.50,225.10 L197.00,225.10 L197.00,225.08 L197.50,225.08 L197.50,225.87 L198.00,225.87 L198.00,225.11 L198.50,225.11 L198.50,225.70 L199.00,225.70 L199.00,225.10 L199.50,225.10 L199.50,225.17 L200.00,225.17 L200.00,225.53 L200.50,225.53 L200.50,225.21 L201.00,225.21 L201.00,225.30 L201.50,225.30 L201.50,225.37 L202.00,225.37 L202.00,225.26 L202.50,225.26 L202.50,225.37 L203.00,225.37 L203.00,225.24 L203.50,225.24 L203.50,225.22 L204.00,225.22 L204.00,225.93 L204.50,225.93 L204.50,225.23 L205.00,225.23 L205.00,225.18 L205.50,225.18 L205.50,225.08 L206.00,225.08 L206.00,225.28 L206.50,225.28 L206.50,225.29 L207.00,225.29 L207.00,225.64 L207.50,225.64 L207.50,225.59 L208.00,225.59 L208.00,225.12 L208.50,225.12 L208.50,225.77 L209.00,225.77 L209.00,225.12 L209.50,225.12 L209.50,225.67 L210.00,225.67 L210.00,225.42 L210.50,225.42 L210.50,225.25 L211.00,225.25 L211.00,225.84 L211.50,225.84 L211.50,225.36 L212.00,225.36 L212.00,225.14 L212.50,225.14 L212.50,225.41 L213.00,225.41 L213.00,225.60 L213.50,225.60 L213.50,225.77 L214.00,225.77 L214.00,225.08 L214.50,225.08 L214.50,225.69 L215.00,225.69 L215.00,225.23 L215.50,225.23 L215.50,225.24 L216.00,225.24 L216.00,225.50 L216.50,225.50 L216.50,225.29 L217.00,225.29 L217.00,225.21 L217.50,225.21 L217.50,225.12 L218.00,225.12 L218.00,224.58 L218.50,224.58 L218.50,222.37 L219.00,222.37 L219.00,222.62 L219.50,222.62 L219.50,220.98 L219.80,220.98 L219.80,220.10 L220.00,220.10 L220.00,220.68 L220.50,220.68 L220.50,221.88 L221.00,221.88 L221.00,222.70 L221.50,222.70 L221.50,223.34 L222.00,223.34 L222.00,223.88 L222.50,223.88 L222.50,225.28 L223.00,225.28 L223.00,224.59 L223.50,224.59 L223.50,223.18 L224.00,223.18 L224.00,220.19 L224.50,220.19 L224.50,220.38 L225.00,220.38 L225.00,220.95 L225.50,220.95 L225.50,218.24 L226.00,218.24 L226.00,214.78 L226.50,214.78 L226.50,214.13 L227.00,214.13 L227.00,212.40 L227.50,212.40 L227.50,214.13 L228.00,214.13 L228.00,216.04 L228.50,216.04 L228.50,218.24 L229.00,218.24 L229.00,218.06 L229.50,218.06 L229.50,222.56 L230.00,222.56 L230.00,219.23 L230.50,219.23 L230.50,223.73 L231.00,223.73 L231.00,222.38 L231.50,222.38 L231.50,219.31 L232.00,219.31 L232.00,216.99 L232.50,216.99 L232.50,215.00 L233.00,215.00 L233.00,216.99 L233.50,216.99 L233.50,219.31 L234.00,219.31 L234.00,219.35 L234.50,219.35 L234.50,221.14 L235.00,221.14 L235.00,223.32 L235.50,223.32 L235.50,223.54 L236.00,223.54 L236.00,224.70 L236.50,224.70 L236.50,225.37 L237.00,225.37 L237.00,225.91 L237.50,225.91 L237.50,225.09 L238.00,225.09 L238.00,225.12 L238.50,225.12 L238.50,225.37 L239.00,225.37 L239.00,225.25 L239.50,225.25 L239.50,226.20 L240.00,226.20 L240.00,226.20 L240.50,226.20 L240.50,226.20 L241.00,226.20 L241.00,226.20 L241.50,226.20 L241.50,226.20 L242.00,226.20 L242.00,226.20 L242.50,226.20 L242.50,226.20 L243.00,226.20 L243.00,226.20 L243.50,226.20 L243.50,226.20 L244.00,226.20 L244.00,226.20 L244.50,226.20 L244.50,226.20 L245.00,226.20 L245.00,226.20 L245.50,226.20 L245.50,226.20 L246.00,226.20 L246.00,226.20 L246.50,226.20 L246.50,226.20 L247.00,226.20 L247.00,226.20 L247.50,226.20 L247.50,226.20 L248.00,226.20 L248.00,226.20 L248.50,226.20 L248.50,226.20 L249.00,226.20 L249.00,226.20 L249.50,226.20 L249.50,226.20 L250.00,226.20 L250.00,226.20 L250.50,226.20 L250.50,226.20 L251.00,226.20 L251.00,226.20 L251.50,226.20 L251.50,226.20 L252.00,226.20 L252.00,226.20 L252.50,226.20 L252.50,226.20 L253.00,226.20 L253.00,226.20 L253.50,226.20 L253.50,226.20 L254.00,226.20 L254.00,226.20 L254.50,226.20 L254.50,226.20 L255.00,226.20 L255.00,226.20 L255.50,226.20 L255.50,226.20 L256.00,226.20 L256.00,226.20 L256.50,226.20 L256.50,226.20 L257.00,226.20 L257.00,226.20 L257.50,226.20 L257.50,226.20 L258.00,226.20 L258.00,226.20 L258.50,226.20 L258.50,226.20 L259.00,226.20 L259.00,226.20 L259.50,226.20 L259.50,226.20 L260.00,226.20 L260.00,226.20 L260.50,226.20 L260.50,226.20 L261.00,226.20 L261.00,226.20 L261.50,226.20 L261.50,226.20 L262.00,226.20 L262.00,226.20 L262.50,226.20 L262.50,226.20 L263.00,226.20 L263.00,226.20 L263.50,226.20 L263.50,226.20 L264.00,226.20 L264.00,226.20 L264.50,226.20 L264.50,226.20 L265.00,226.20 L265.00,226.20 L265.50,226.20 L265.50,226.20 L266.00,226.20 L266.00,226.20 L266.50,226.20 L266.50,226.20 L267.00,226.20 L267.00,226.20 L267.50,226.20 L267.50,226.20 L268.00,226.20 L268.00,226.20 L268.50,226.20 L268.50,226.20 L269.00,226.20 L269.00,226.20 L269.50,226.20 L269.50,226.20 L270.00,226.20 L270.00,226.20 L270.50,226.20 L270.50,226.20 L271.00,226.20 L271.00,226.20 L271.50,226.20 L271.50,226.20 L272.00,226.20 L272.00,226.20 L272.50,226.20 L272.50,226.20 L273.00,226.20 L273.00,226.20 L273.50,226.20 L273.50,226.20 L274.00,226.20 L274.00,226.20 L274.50,226.20 L274.50,226.20 L275.00,226.20 L275.00,226.20 L275.50,226.20 L275.50,226.20 L276.00,226.20 L276.00,226.20 L276.50,226.20 L276.50,226.20 L277.00,226.20 L277.00,226.20 L277.50,226.20 L277.50,226.20 L278.00,226.20 L278.00,226.20 L278.50,226.20 L278.50,226.20 L279.00,226.20 L279.00,226.20 L279.50,226.20 L279.50,226.20 L280.00,226.20 L280.00,226.20 L280.50,226.20 L280.50,226.20 L281.00,226.20 L281.00,226.20 L281.50,226.20 L281.50,226.20 L282.00,226.20 L282.00,226.20 L282.50,226.20 L282.50,226.20 L283.00,226.20 L283.00,226.20 L283.50,226.20 L283.50,226.20 L284.00,226.20 L284.00,226.20 L284.50,226.20 L284.50,226.20 L285.00,226.20 L285.00,226.20 L285.50,226.20 L285.50,226.20 L286.00,226.20 L286.00,226.20 L286.50,226.20 L286.50,226.20 L287.00,226.20 L287.00,226.20 L287.50,226.20 L287.50,226.20 L288.00,226.20 L288.00,226.20 L288.50,226.20 L288.50,226.20 L289.00,226.20 L289.00,226.20 L289.50,226.20 L289.50,226.20 L290.00,226.20 L290.00,226.20 L290.50,226.20 L290.50,226.20 L291.00,226.20 L291.00,226.20 L291.50,226.20 L291.50,224.20 L292.00,224.20 L292.00,224.40 L292.50,224.40 L292.50,223.64 L293.00,223.64 L293.00,223.52 L293.50,223.52 L293.50,223.28 L294.00,223.28 L294.00,222.65 L294.50,222.65 L294.50,222.18 L295.00,222.18 L295.00,221.39 L295.50,221.39 L295.50,221.68 L296.00,221.68 L296.00,222.55 L296.50,222.55 L296.50,221.23 L297.00,221.23 L297.00,221.99 L297.50,221.99 L297.50,221.55 L298.00,221.55 L298.00,221.07 L298.50,221.07 L298.50,220.71 L299.00,220.71 L299.00,222.62 L299.50,222.62 L299.50,221.59 L300.00,221.59 L300.00,221.85 L300.50,221.85 L300.50,220.53 L301.00,220.53 L301.00,221.44 L301.50,221.44 L301.50,220.10 L302.00,220.10 L302.00,220.35 L302.50,220.35 L302.50,221.27 L303.00,221.27 L303.00,220.43 L303.50,220.43 L303.50,220.62 L304.00,220.62 L304.00,222.24 L304.50,222.24 L304.50,221.45 L305.00,221.45 L305.00,222.04 L305.50,222.04 L305.50,219.76 L306.00,219.76 L306.00,221.04 L306.50,221.04 L306.50,221.41 L307.00,221.41 L307.00,220.33 L307.50,220.33 L307.50,219.86 L308.00,219.86 L308.00,222.08 L308.50,222.08 L308.50,220.48 L309.00,220.48 L309.00,221.73 L309.50,221.73 L309.50,220.25 L310.00,220.25 L310.00,220.38 L310.50,220.38 L310.50,220.35 L311.00,220.35 L311.00,220.78 L311.50,220.78 L311.50,222.13 L312.00,222.13 L312.00,220.22 L312.50,220.22 L312.50,222.15 L313.00,222.15 L313.00,220.74 L313.50,220.74 L313.50,219.93 L314.00,219.93 L314.00,221.54 L314.50,221.54 L314.50,220.97 L315.00,220.97 L315.00,220.55 L315.50,220.55 L315.50,220.63 L316.00,220.63 L316.00,221.44 L316.50,221.44 L316.50,221.27 L317.00,221.27 L317.00,220.44 L317.50,220.44 L317.50,220.82 L318.00,220.82 L318.00,221.96 L318.50,221.96 L318.50,220.85 L319.00,220.85 L319.00,220.56 L319.50,220.56 L319.50,220.97 L320.00,220.97 L320.00,220.48 L320.50,220.48 L320.50,221.65 L321.00,221.65 L321.00,221.56 L321.50,221.56 L321.50,220.45 L322.00,220.45 L322.00,221.63 L322.50,221.63 L322.50,222.00 L323.00,222.00 L323.00,221.93 L323.50,221.93 L323.50,220.52 L324.00,220.52 L324.00,220.59 L324.50,220.59 L324.50,221.76 L325.00,221.76 L325.00,220.68 L325.50,220.68 L325.50,221.73 L326.00,221.73 L326.00,220.85 L326.50,220.85 L326.50,222.44 L327.00,222.44 L327.00,220.93 L327.50,220.93 L327.50,220.65 L328.00,220.65 L328.00,221.04 L328.50,221.04 L328.50,220.82 L329.00,220.82 L329.00,221.90 L329.50,221.90 L329.50,221.09 L330.00,221.09 L330.00,220.58 L330.50,220.58 L330.50,221.29 L331.00,221.29 L331.00,220.71 L331.50,220.71 L331.50,220.86 L332.00,220.86 L332.00,220.45 L332.50,220.45 L332.50,220.46 L333.00,220.46 L333.00,221.22 L333.50,221.22 L333.50,220.13 L334.00,220.13 L334.00,220.07 L334.50,220.07 L334.50,220.77 L335.00,220.77 L335.00,220.12 L335.50,220.12 L335.50,220.72 L336.00,220.72 L336.00,220.16 L336.50,220.16 L336.50,220.65 L337.00,220.65 L337.00,220.07 L337.50,220.07 L337.50,220.40 L338.00,220.40 L338.00,218.57 L338.50,218.57 L338.50,219.18 L339.00,219.18 L339.00,219.04 L339.50,219.04 L339.50,219.20 L340.00,219.20 L340.00,219.34 L340.50,219.34 L340.50,220.60 L341.00,220.60 L341.00,218.53 L341.50,218.53 L341.50,219.22 L342.00,219.22 L342.00,219.46 L342.50,219.46 L342.50,218.45 L343.00,218.45 L343.00,220.44 L343.50,220.44 L343.50,217.27 L344.00,217.27 L344.00,216.51 L344.50,216.51 L344.50,218.47 L345.00,218.47 L345.00,219.84 L345.50,219.84 L345.50,215.37 L346.00,215.37 L346.00,217.16 L346.50,217.16 L346.50,218.93 L347.00,218.93 L347.00,220.68 L347.50,220.68 L347.50,217.94 L348.00,217.94 L348.00,219.67 L348.50,219.67 L348.50,216.20 L349.00,216.20 L349.00,216.75 L349.50,216.75 L349.50,218.95 L350.00,218.95 L350.00,218.22 L350.50,218.22 L350.50,220.59 L351.00,220.59 L351.00,219.57 L351.50,219.57 L351.50,217.95 L352.00,217.95 L352.00,216.80 L352.50,216.80 L352.50,218.72 L353.00,218.72 L353.00,216.81 L353.50,216.81 L353.50,219.70 L354.00,219.70 L354.00,220.68 L354.50,220.68 L354.50,217.57 L355.00,217.57 L355.00,219.30 L355.50,219.30 L355.50,219.76 L356.00,219.76 L356.00,219.07 L356.50,219.07 L356.50,218.48 L357.00,218.48 L357.00,220.05 L357.50,220.05 L357.50,220.70 L358.00,220.70 L358.00,218.65 L358.50,218.65 L358.50,218.56 L359.00,218.56 L359.00,218.96 L359.50,218.96 L359.50,220.53 L360.00,220.53 L360.00,218.29 L360.50,218.29 L360.50,219.52 L361.00,219.52 L361.00,219.21 L361.50,219.21 L361.50,218.36 L362.00,218.36 L362.00,220.70 L362.50,220.70 L362.50,219.31 L363.00,219.31 L363.00,219.45 L363.50,219.45 L363.50,218.71 L364.00,218.71 L364.00,220.05 L364.50,220.05 L364.50,219.91 L365.00,219.91 L365.00,219.90 L365.50,219.90 L365.50,218.48 L366.00,218.48 L366.00,219.44 L366.50,219.44 L366.50,217.19 L367.00,217.19 L367.00,217.29 L367.50,217.29 L367.50,217.68 L368.00,217.68 L368.00,218.79 L368.50,218.79 L368.50,217.19 L369.00,217.19 L369.00,218.34 L369.50,218.34 L369.50,218.02 L370.00,218.02 L370.00,217.79 L370.50,217.79 L370.50,220.57 L371.00,220.57 L371.00,218.75 L371.50,218.75 L371.50,220.78 L372.00,220.78 L372.00,222.57 L372.50,222.57 L372.50,222.45 L373.00,222.45 L373.00,221.75 L373.50,221.75 L373.50,223.06 L374.00,223.06 L374.00,222.17 L374.50,222.17 L374.50,221.58 L375.00,221.58 L375.00,221.70 L375.50,221.70 L375.50,206.79 L376.00,206.79 L376.00,207.91 L376.50,207.91 L376.50,208.90 L377.00,208.90 L377.00,209.00 L377.50,209.00 L377.50,208.30 L378.00,208.30 L378.00,208.44 L378.50,208.44 L378.50,208.74 L379.00,208.74 L379.00,209.03 L379.50,209.03 L379.50,209.42 L380.00,209.42 L380.00,209.14 L380.50,209.14 L380.50,208.66 L381.00,208.66 L381.00,208.32 L381.50,208.32 L381.50,207.92 L382.00,207.92 L382.00,208.84 L382.50,208.84 L382.50,208.58 L383.00,208.58 L383.00,208.91 L383.50,208.91 L383.50,208.67 L384.00,208.67 L384.00,208.31 L384.50,208.31 L384.50,207.52 L385.00,207.52 L385.00,207.14 L385.50,207.14 L385.50,206.53 L386.00,206.53 L386.00,206.25 L386.50,206.25 L386.50,205.29 L387.00,205.29 L387.00,204.89 L387.50,204.89 L387.50,204.49 L388.00,204.49 L388.00,204.37 L388.50,204.37 L388.50,204.26 L389.00,204.26 L389.00,204.67 L389.50,204.67 L389.50,204.63 L390.00,204.63 L390.00,203.75 L390.50,203.75 L390.50,203.36 L391.00,203.36 L391.00,202.93 L391.50,202.93 L391.50,203.53 L392.00,203.53 L392.00,203.50 L392.50,203.50 L392.50,203.77 L393.00,203.77 L393.00,203.18 L393.50,203.18 L393.50,202.82 L394.00,202.82 L394.00,202.09 L394.50,202.09 L394.50,202.77 L395.00,202.77 L395.00,203.17 L395.50,203.17 L395.50,203.35 L396.00,203.35 L396.00,202.85 L396.50,202.85 L396.50,201.83 L397.00,201.83 L397.00,201.12 L397.50,201.12 L397.50,201.24 L398.00,201.24 L398.00,201.31 L398.50,201.31 L398.50,201.28 L399.00,201.28 L399.00,201.14 L399.50,201.14 L399.50,200.34 L400.00,200.34 L400.00,200.21 L400.50,200.21 L400.50,199.75 L401.00,199.75 L401.00,200.30 L401.50,200.30 L401.50,200.39 L402.00,200.39 L402.00,200.89 L402.50,200.89 L402.50,200.32 L403.00,200.32 L403.00,200.13 L403.50,200.13 L403.50,200.10 L404.00,200.10 L404.00,200.18 L404.50,200.18 L404.50,200.24 L405.00,200.24 L405.00,201.07 L405.50,201.07 L405.50,200.34 L406.00,200.34 L406.00,200.09 L406.50,200.09 L406.50,199.80 L407.00,199.80 L407.00,199.63 L407.50,199.63 L407.50,200.16 L408.00,200.16 L408.00,221.85 L408.50,221.85 L408.50,223.26 L409.00,223.26 L409.00,221.88 L409.50,221.88 L409.50,221.63 L410.00,221.63 L410.00,217.89 L410.50,217.89 L410.50,216.66 L411.00,216.66 L411.00,214.22 L411.30,214.22 L411.30,210.40 L411.50,210.40 L411.50,215.43 L412.00,215.43 L412.00,216.26 L412.50,216.26 L412.50,215.14 L413.00,215.14 L413.00,219.51 L413.50,219.51 L413.50,212.85 L414.00,212.85 L414.00,217.79 L414.50,217.79 L414.50,218.20 L415.00,218.20 L415.00,217.92 L415.50,217.92 L415.50,218.85 L416.00,218.85 L416.00,218.94 L416.50,218.94 L416.50,220.32 L417.00,220.32 L417.00,221.33 L417.50,221.33 L417.50,222.05 L418.00,222.05 L418.00,221.89 L418.50,221.89 L418.50,221.09 L419.00,221.09 L419.00,223.47 L419.50,223.47 L419.50,217.28 L420.00,217.28 L420.00,216.01 L420.50,216.01 L420.50,218.65 L421.00,218.65 L421.00,216.03 L421.50,216.03 L421.50,217.11 L422.00,217.11 L422.00,217.16 L422.50,217.16 L422.50,220.70 L423.00,220.70 L423.00,218.66 L423.50,218.66 L423.50,218.48 L424.00,218.48 L424.00,219.32 L424.50,219.32 L424.50,220.09 L425.00,220.09 L425.00,222.52 L425.50,222.52 L425.50,220.67 L426.00,220.67 L426.00,222.28 L426.50,222.28 L426.50,221.50 L427.00,221.50 L427.00,221.42 L427.50,221.42 L427.50,219.15 L428.00,219.15 L428.00,218.54 L428.50,218.54 L428.50,215.32 L429.00,215.32 L429.00,221.97 L429.50,221.97 L429.50,221.08 L430.00,221.08 L430.00,221.88 L430.50,221.88 L430.50,221.98 L431.00,221.98 L431.00,223.09 L431.50,223.09 L431.50,220.18 L432.00,220.18 L432.00,218.28 L432.50,218.28 L432.50,219.87 L433.00,219.87 L433.00,222.61 L433.50,222.61 L433.50,221.11 L434.00,221.11 L434.00,220.88 L434.50,220.88 L434.50,222.22 L435.00,222.22 L435.00,215.55 L435.50,215.55 L435.50,221.14 L436.00,221.14 L436.00,215.09 L436.50,215.09 L436.50,218.50 L437.00,218.50 L437.00,216.85 L437.50,216.85 L437.50,219.28 L438.00,219.28 L438.00,217.98 L438.50,217.98 L438.50,219.21 L439.00,219.21 L439.00,222.14 L439.50,222.14 L439.50,223.52 L440.00,223.52 L440.00,223.15 L440.50,223.15 L440.50,223.39 L441.00,223.39 L441.00,223.64 L441.50,223.64 L441.50,223.32 L442.00,223.32 L442.00,221.35 L442.50,221.35 L442.50,223.03 L443.00,223.03 L443.00,221.70 L443.50,221.70 L443.50,220.95 L444.00,220.95 L444.00,222.31 L444.50,222.31 L444.50,220.52 L445.00,220.52 L445.00,222.05 L445.50,222.05 L445.50,222.00 L446.00,222.00 L446.00,222.57 L446.50,222.57 L446.50,222.86 L447.00,222.86 L447.00,223.52 L447.50,223.52 L447.50,219.16 L448.00,219.16 L448.00,221.73 L448.50,221.73 L448.50,215.49 L449.00,215.49 L449.00,218.74 L449.50,218.74 L449.50,218.96 L450.00,218.96 L450.00,220.23 L450.50,220.23 L450.50,219.54 L451.00,219.54 L451.00,219.37 L451.50,219.37 L451.50,221.81 L452.00,221.81 L452.00,221.06 L452.50,221.06 L452.50,216.22 L453.00,216.22 L453.00,220.23 L453.50,220.23 L453.50,219.93 L454.00,219.93 L454.00,222.23 L454.50,222.23 L454.50,217.04 L455.00,217.04 L455.00,217.68 L455.50,217.68 L455.50,223.01 L456.00,223.01 L456.00,218.90 L456.50,218.90 L456.50,222.32 L457.00,222.32 L457.00,220.27 L457.50,220.27 L457.50,219.78 L458.00,219.78 L458.00,220.67 L458.50,220.67 L458.50,219.64 L459.00,219.64 L459.00,218.90 L459.50,218.90 L459.50,218.80 L460.00,218.80 L460.00,221.95 L460.50,221.95 L460.50,221.86 L461.00,221.86 L461.00,217.55 L461.50,217.55 L461.50,220.01 L462.00,220.01 L462.00,221.92 L462.50,221.92 L462.50,219.85 L463.00,219.85 L463.00,222.65 L463.50,222.65 L463.50,223.24 L464.00,223.24 L464.00,220.95 L464.50,220.95 L464.50,217.61 L465.00,217.61 L465.00,220.06 L465.50,220.06 L465.50,220.42 L466.00,220.42 L466.00,223.72 L466.50,223.72 L466.50,222.24 L467.00,222.24 L467.00,219.66 L467.50,219.66 L467.50,219.90 L468.00,219.90 L468.00,217.67 L468.50,217.67 L468.50,218.82 L469.00,218.82 L469.00,219.47 L469.50,219.47 L469.50,219.07 L470.00,219.07 L470.00,222.07 L470.50,222.07 L470.50,221.88 L471.00,221.88 L471.00,221.94 L471.50,221.94 L471.50,222.76 L472.00,222.76 L472.00,221.21 L472.50,221.21 L472.50,219.25 L473.00,219.25 L473.00,219.05 L473.50,219.05 L473.50,220.11 L474.00,220.11 L474.00,217.94 L474.50,217.94 L474.50,221.76 L475.00,221.76 L475.00,221.83 L475.50,221.83 L475.50,217.91 L476.00,217.91 L476.00,218.94 L476.50,218.94 L476.50,219.84 L477.00,219.84 L477.00,219.93 L477.50,219.93 L477.50,220.40 L478.00,220.40 L478.00,217.45 L478.50,217.45 L478.50,218.90 L479.00,218.90 L479.00,217.69 L479.50,217.69 L479.50,218.36 L480.00,218.36 L480.00,220.21 L480.50,220.21 L480.50,217.26 L481.00,217.26 L481.00,219.43 L481.50,219.43 L481.50,217.90 L482.00,217.90 L482.00,217.39 L482.50,217.39 L482.50,217.62 L483.00,217.62 L483.00,219.60 L483.50,219.60 L483.50,222.03 L484.00,222.03 L484.00,222.59 L484.50,222.59 L484.50,220.98 L485.00,220.98 L485.00,222.38 L485.50,222.38 L485.50,223.01 L486.00,223.01 L486.00,222.26 L486.50,222.26 L486.50,222.95 L487.00,222.95 L487.00,223.11 L487.50,223.11 L487.50,223.66 L488.00,223.66 L488.00,223.31 L488.50,223.31 L488.50,222.90 L489.00,222.90 L489.00,223.61 L489.50,223.61 L489.50,223.55 L490.00,223.55 L490.00,223.70 L490.50,223.70 L490.50,223.29 L491.00,223.29 L491.00,222.23 L491.50,222.23 L491.50,202.84 L492.00,202.84 L492.00,202.64 L492.50,202.64 L492.50,201.91 L493.00,201.91 L493.00,201.72 L493.50,201.72 L493.50,201.53 L494.00,201.53 L494.00,201.76 L494.50,201.76 L494.50,202.18 L495.00,202.18 L495.00,201.91 L495.50,201.91 L495.50,201.08 L496.00,201.08 L496.00,200.31 L496.50,200.31 L496.50,199.96 L497.00,199.96 L497.00,200.49 L497.50,200.49 L497.50,201.01 L498.00,201.01 L498.00,201.41 L498.50,201.41 L498.50,200.72 L499.00,200.72 L499.00,200.52 L499.50,200.52 L499.50,200.73 L500.00,200.73 L500.00,200.82 L500.50,200.82 L500.50,201.39 L501.00,201.39 L501.00,201.74 L501.50,201.74 L501.50,202.26 L502.00,202.26 L502.00,202.08 L502.50,202.08 L502.50,201.57 L503.00,201.57 L503.00,201.62 L503.50,201.62 L503.50,202.61 L504.00,202.61 L504.00,203.86 L504.50,203.86 L504.50,204.98 L505.00,204.98 L505.00,205.33 L505.50,205.33 L505.50,205.46 L506.00,205.46 L506.00,205.91 L506.50,205.91 L506.50,206.41 L507.00,206.41 L507.00,207.18 L507.50,207.18 L507.50,207.67 L508.00,207.67 L508.00,207.49 L508.50,207.49 L508.50,207.02 L509.00,207.02 L509.00,206.69 L509.50,206.69 L509.50,207.20 L510.00,207.20 L510.00,207.59 L510.50,207.59 L510.50,208.09 L511.00,208.09 L511.00,208.40 L511.50,208.40 L511.50,208.35 L512.00,208.35 L512.00,207.92 L512.50,207.92 L512.50,207.73 L513.00,207.73 L513.00,226.20 L513.00,226.20 L513.00,226.20 Z" fill="#afb0b4"/>
<path d="M42.00,357.50 L42.00,334.30 L42.50,334.30 L42.50,334.91 L43.00,334.91 L43.00,335.49 L43.50,335.49 L43.50,335.62 L44.00,335.62 L44.00,335.30 L44.50,335.30 L44.50,335.18 L45.00,335.18 L45.00,334.66 L45.50,334.66 L45.50,334.78 L46.00,334.78 L46.00,335.44 L46.50,335.44 L46.50,334.81 L47.00,334.81 L47.00,334.42 L47.50,334.42 L47.50,332.87 L48.00,332.87 L48.00,331.49 L48.50,331.49 L48.50,330.22 L49.00,330.22 L49.00,331.03 L49.50,331.03 L49.50,332.28 L50.00,332.28 L50.00,333.33 L50.50,333.33 L50.50,333.72 L51.00,333.72 L51.00,333.53 L51.50,333.53 L51.50,333.42 L52.00,333.42 L52.00,332.54 L52.50,332.54 L52.50,332.55 L53.00,332.55 L53.00,331.93 L53.50,331.93 L53.50,331.56 L54.00,331.56 L54.00,330.84 L54.50,330.84 L54.50,330.83 L55.00,330.83 L55.00,331.83 L55.50,331.83 L55.50,332.52 L56.00,332.52 L56.00,333.61 L56.50,333.61 L56.50,334.40 L57.00,334.40 L57.00,335.00 L57.50,335.00 L57.50,334.09 L58.00,334.09 L58.00,333.74 L58.50,333.74 L58.50,333.66 L59.00,333.66 L59.00,333.56 L59.50,333.56 L59.50,334.01 L60.00,334.01 L60.00,333.82 L60.50,333.82 L60.50,333.83 L61.00,333.83 L61.00,333.79 L61.50,333.79 L61.50,333.92 L62.00,333.92 L62.00,335.16 L62.50,335.16 L62.50,335.39 L63.00,335.39 L63.00,335.77 L63.50,335.77 L63.50,336.06 L64.00,336.06 L64.00,335.95 L64.50,335.95 L64.50,357.50 L65.00,357.50 L65.00,357.50 L65.50,357.50 L65.50,356.93 L66.00,356.93 L66.00,356.37 L66.50,356.37 L66.50,355.80 L67.00,355.80 L67.00,356.37 L67.50,356.37 L67.50,356.93 L68.00,356.93 L68.00,357.50 L68.50,357.50 L68.50,357.50 L69.00,357.50 L69.00,357.50 L69.50,357.50 L69.50,357.50 L70.00,357.50 L70.00,357.50 L70.50,357.50 L70.50,357.50 L71.00,357.50 L71.00,357.50 L71.50,357.50 L71.50,357.50 L72.00,357.50 L72.00,357.50 L72.50,357.50 L72.50,357.50 L73.00,357.50 L73.00,357.50 L73.50,357.50 L73.50,357.50 L74.00,357.50 L74.00,357.50 L74.50,357.50 L74.50,357.50 L75.00,357.50 L75.00,357.50 L75.50,357.50 L75.50,357.50 L76.00,357.50 L76.00,357.50 L76.50,357.50 L76.50,357.50 L77.00,357.50 L77.00,357.50 L77.50,357.50 L77.50,357.50 L78.00,357.50 L78.00,357.50 L78.50,357.50 L78.50,357.50 L79.00,357.50 L79.00,357.50 L79.50,357.50 L79.50,357.50 L80.00,357.50 L80.00,357.50 L80.50,357.50 L80.50,357.50 L81.00,357.50 L81.00,357.50 L81.50,357.50 L81.50,357.50 L82.00,357.50 L82.00,357.50 L82.50,357.50 L82.50,357.50 L83.00,357.50 L83.00,357.50 L83.50,357.50 L83.50,357.50 L84.00,357.50 L84.00,357.50 L84.50,357.50 L84.50,357.50 L85.00,357.50 L85.00,357.50 L85.50,357.50 L85.50,357.50 L86.00,357.50 L86.00,357.50 L86.50,357.50 L86.50,357.50 L87.00,357.50 L87.00,357.50 L87.50,357.50 L87.50,357.50 L88.00,357.50 L88.00,357.50 L88.50,357.50 L88.50,357.50 L89.00,357.50 L89.00,357.50 L89.50,357.50 L89.50,357.50 L90.00,357.50 L90.00,357.50 L90.50,357.50 L90.50,357.50 L91.00,357.50 L91.00,357.50 L91.50,357.50 L91.50,357.50 L92.00,357.50 L92.00,357.50 L92.50,357.50 L92.50,357.50 L93.00,357.50 L93.00,357.50 L93.50,357.50 L93.50,357.50 L94.00,357.50 L94.00,357.50 L94.50,357.50 L94.50,357.50 L95.00,357.50 L95.00,357.50 L95.50,357.50 L95.50,357.50 L96.00,357.50 L96.00,357.50 L96.50,357.50 L96.50,357.50 L97.00,357.50 L97.00,357.50 L97.50,357.50 L97.50,357.50 L98.00,357.50 L98.00,357.50 L98.50,357.50 L98.50,357.50 L99.00,357.50 L99.00,357.50 L99.50,357.50 L99.50,357.50 L100.00,357.50 L100.00,357.50 L100.50,357.50 L100.50,357.50 L101.00,357.50 L101.00,357.50 L101.50,357.50 L101.50,357.50 L102.00,357.50 L102.00,357.50 L102.50,357.50 L102.50,357.50 L103.00,357.50 L103.00,357.50 L103.50,357.50 L103.50,357.50 L104.00,357.50 L104.00,357.50 L104.50,357.50 L104.50,357.50 L105.00,357.50 L105.00,357.50 L105.50,357.50 L105.50,357.50 L106.00,357.50 L106.00,357.50 L106.50,357.50 L106.50,357.50 L107.00,357.50 L107.00,357.50 L107.50,357.50 L107.50,357.50 L108.00,357.50 L108.00,357.50 L108.50,357.50 L108.50,357.50 L109.00,357.50 L109.00,357.50 L109.50,357.50 L109.50,357.50 L110.00,357.50 L110.00,357.50 L110.50,357.50 L110.50,357.50 L111.00,357.50 L111.00,357.50 L111.50,357.50 L111.50,357.50 L112.00,357.50 L112.00,357.50 L112.50,357.50 L112.50,357.50 L113.00,357.50 L113.00,357.50 L113.50,357.50 L113.50,357.50 L114.00,357.50 L114.00,357.50 L114.50,357.50 L114.50,357.50 L115.00,357.50 L115.00,357.50 L115.50,357.50 L115.50,357.50 L116.00,357.50 L116.00,357.50 L116.50,357.50 L116.50,357.50 L117.00,357.50 L117.00,357.50 L117.50,357.50 L117.50,357.50 L118.00,357.50 L118.00,357.50 L118.50,357.50 L118.50,357.50 L119.00,357.50 L119.00,357.50 L119.50,357.50 L119.50,357.50 L120.00,357.50 L120.00,357.50 L120.50,357.50 L120.50,357.50 L121.00,357.50 L121.00,357.50 L121.50,357.50 L121.50,357.50 L122.00,357.50 L122.00,357.50 L122.50,357.50 L122.50,357.50 L123.00,357.50 L123.00,357.50 L123.50,357.50 L123.50,357.50 L124.00,357.50 L124.00,357.50 L124.50,357.50 L124.50,357.50 L125.00,357.50 L125.00,357.50 L125.50,357.50 L125.50,357.50 L126.00,357.50 L126.00,357.50 L126.50,357.50 L126.50,357.50 L127.00,357.50 L127.00,357.50 L127.50,357.50 L127.50,357.50 L128.00,357.50 L128.00,357.50 L128.50,357.50 L128.50,357.50 L129.00,357.50 L129.00,357.50 L129.50,357.50 L129.50,357.50 L130.00,357.50 L130.00,357.50 L130.50,357.50 L130.50,357.50 L131.00,357.50 L131.00,357.50 L131.50,357.50 L131.50,357.50 L132.00,357.50 L132.00,357.50 L132.50,357.50 L132.50,357.50 L133.00,357.50 L133.00,357.50 L133.50,357.50 L133.50,357.50 L134.00,357.50 L134.00,357.50 L134.50,357.50 L134.50,357.50 L135.00,357.50 L135.00,357.50 L135.50,357.50 L135.50,357.50 L136.00,357.50 L136.00,357.50 L136.50,357.50 L136.50,357.50 L137.00,357.50 L137.00,357.50 L137.50,357.50 L137.50,357.50 L138.00,357.50 L138.00,357.50 L138.50,357.50 L138.50,357.50 L139.00,357.50 L139.00,357.50 L139.50,357.50 L139.50,357.50 L140.00,357.50 L140.00,357.50 L140.50,357.50 L140.50,357.50 L141.00,357.50 L141.00,357.50 L141.50,357.50 L141.50,357.50 L142.00,357.50 L142.00,357.50 L142.50,357.50 L142.50,357.50 L143.00,357.50 L143.00,357.50 L143.50,357.50 L143.50,357.50 L144.00,357.50 L144.00,357.50 L144.50,357.50 L144.50,357.50 L145.00,357.50 L145.00,357.50 L145.50,357.50 L145.50,357.50 L146.00,357.50 L146.00,357.50 L146.50,357.50 L146.50,357.50 L147.00,357.50 L147.00,357.50 L147.50,357.50 L147.50,357.50 L148.00,357.50 L148.00,357.50 L148.50,357.50 L148.50,344.17 L149.00,344.17 L149.00,344.63 L149.50,344.63 L149.50,344.34 L150.00,344.34 L150.00,343.75 L150.50,343.75 L150.50,343.55 L151.00,343.55 L151.00,343.21 L151.50,343.21 L151.50,343.48 L152.00,343.48 L152.00,344.25 L152.50,344.25 L152.50,343.91 L153.00,343.91 L153.00,343.74 L153.50,343.74 L153.50,343.60 L154.00,343.60 L154.00,343.23 L154.50,343.23 L154.50,343.41 L155.00,343.41 L155.00,344.36 L155.50,344.36 L155.50,344.82 L156.00,344.82 L156.00,357.50 L156.50,357.50 L156.50,357.50 L157.00,357.50 L157.00,357.50 L157.50,357.50 L157.50,357.50 L158.00,357.50 L158.00,357.50 L158.50,357.50 L158.50,357.50 L159.00,357.50 L159.00,357.50 L159.50,357.50 L159.50,357.50 L160.00,357.50 L160.00,356.71 L160.50,356.71 L160.50,356.40 L161.00,356.40 L161.00,356.41 L161.50,356.41 L161.50,355.99 L162.00,355.99 L162.00,355.60 L162.50,355.60 L162.50,355.99 L163.00,355.99 L163.00,356.41 L163.50,356.41 L163.50,356.54 L164.00,356.54 L164.00,356.74 L164.50,356.74 L164.50,356.93 L165.00,356.93 L165.00,357.19 L165.50,357.19 L165.50,356.49 L166.00,356.49 L166.00,356.93 L166.50,356.93 L166.50,356.86 L167.00,356.86 L167.00,357.00 L167.50,357.00 L167.50,356.77 L168.00,356.77 L168.00,356.92 L168.50,356.92 L168.50,356.50 L169.00,356.50 L169.00,356.71 L169.50,356.71 L169.50,356.73 L170.00,356.73 L170.00,356.35 L170.50,356.35 L170.50,355.50 L171.00,355.50 L171.00,356.35 L171.50,356.35 L171.50,356.60 L172.00,356.60 L172.00,356.66 L172.50,356.66 L172.50,356.62 L173.00,356.62 L173.00,356.46 L173.50,356.46 L173.50,356.76 L174.00,356.76 L174.00,356.75 L174.50,356.75 L174.50,357.08 L175.00,357.08 L175.00,356.55 L175.50,356.55 L175.50,354.91 L176.00,354.91 L176.00,353.51 L176.50,353.51 L176.50,352.23 L176.80,352.23 L176.80,351.50 L177.00,351.50 L177.00,351.99 L177.50,351.99 L177.50,353.25 L178.00,353.25 L178.00,354.62 L178.50,354.62 L178.50,356.18 L179.00,356.18 L179.00,357.10 L179.50,357.10 L179.50,356.59 L180.00,356.59 L180.00,356.21 L180.50,356.21 L180.50,355.85 L181.00,355.85 L181.00,355.54 L181.50,355.54 L181.50,355.26 L182.00,355.26 L182.00,355.00 L182.50,355.00 L182.50,355.26 L183.00,355.26 L183.00,355.54 L183.50,355.54 L183.50,355.85 L184.00,355.85 L184.00,356.21 L184.50,356.21 L184.50,356.65 L185.00,356.65 L185.00,356.88 L185.50,356.88 L185.50,356.64 L186.00,356.64 L186.00,356.74 L186.50,356.74 L186.50,356.91 L187.00,356.91 L187.00,356.45 L187.50,356.45 L187.50,357.12 L188.00,357.12 L188.00,356.30 L188.50,356.30 L188.50,357.15 L189.00,357.15 L189.00,356.29 L189.50,356.29 L189.50,356.44 L190.00,356.44 L190.00,355.90 L190.50,355.90 L190.50,355.45 L191.00,355.45 L191.00,355.07 L191.50,355.07 L191.50,354.72 L192.00,354.72 L192.00,354.40 L192.50,354.40 L192.50,354.72 L193.00,354.72 L193.00,355.07 L193.50,355.07 L193.50,355.45 L194.00,355.45 L194.00,355.90 L194.50,355.90 L194.50,356.44 L195.00,356.44 L195.00,356.44 L195.50,356.44 L195.50,356.50 L196.00,356.50 L196.00,356.30 L196.50,356.30 L196.50,355.55 L197.00,355.55 L197.00,354.91 L197.50,354.91 L197.50,354.34 L198.00,354.34 L198.00,353.80 L198.50,353.80 L198.50,354.34 L199.00,354.34 L199.00,354.91 L199.50,354.91 L199.50,355.55 L200.00,355.55 L200.00,356.30 L200.50,356.30 L200.50,356.61 L201.00,356.61 L201.00,357.19 L201.50,357.19 L201.50,356.81 L202.00,356.81 L202.00,357.03 L202.50,357.03 L202.50,356.73 L203.00,356.73 L203.00,356.49 L203.50,356.49 L203.50,356.74 L204.00,356.74 L204.00,356.87 L204.50,356.87 L204.50,356.01 L205.00,356.01 L205.00,354.91 L205.50,354.91 L205.50,353.91 L206.00,353.91 L206.00,352.98 L206.50,352.98 L206.50,352.10 L207.00,352.10 L207.00,352.98 L207.50,352.98 L207.50,353.91 L208.00,353.91 L208.00,354.91 L208.50,354.91 L208.50,356.01 L209.00,356.01 L209.00,357.17 L209.50,357.17 L209.50,356.46 L210.00,356.46 L210.00,355.69 L210.50,355.69 L210.50,355.00 L211.00,355.00 L211.00,355.69 L211.50,355.69 L211.50,356.46 L212.00,356.46 L212.00,356.21 L212.50,356.21 L212.50,357.11 L213.00,357.11 L213.00,356.70 L213.50,356.70 L213.50,356.72 L214.00,356.72 L214.00,357.11 L214.50,357.11 L214.50,357.50 L215.00,357.50 L215.00,357.50 L215.50,357.50 L215.50,357.50 L216.00,357.50 L216.00,357.50 L216.50,357.50 L216.50,351.44 L217.00,351.44 L217.00,348.15 L217.50,348.15 L217.50,342.32 L218.00,342.32 L218.00,337.33 L218.10,337.33 L218.10,336.40 L218.50,336.40 L218.50,340.25 L219.00,340.25 L219.00,345.67 L219.50,345.67 L219.50,349.37 L220.00,349.37 L220.00,350.13 L220.50,350.13 L220.50,343.12 L221.00,343.12 L221.00,337.30 L221.50,337.30 L221.50,343.12 L222.00,343.12 L222.00,350.26 L222.50,350.26 L222.50,350.34 L223.00,350.34 L223.00,349.26 L223.50,349.26 L223.50,341.72 L224.00,341.72 L224.00,335.34 L224.20,335.34 L224.20,333.00 L224.50,333.00 L224.50,336.54 L225.00,336.54 L225.00,343.13 L225.50,343.13 L225.50,350.94 L226.00,350.94 L226.00,346.52 L226.50,346.52 L226.50,339.66 L227.00,339.66 L227.00,333.80 L227.50,333.80 L227.50,339.66 L228.00,339.66 L228.00,346.52 L228.50,346.52 L228.50,349.02 L229.00,349.02 L229.00,343.00 L229.50,343.00 L229.50,352.00 L230.00,352.00 L230.00,349.09 L230.50,349.09 L230.50,343.24 L231.00,343.24 L231.00,337.47 L231.10,337.47 L231.10,336.40 L231.50,336.40 L231.50,340.83 L232.00,340.83 L232.00,347.24 L232.50,347.24 L232.50,351.00 L233.00,351.00 L233.00,345.00 L233.50,345.00 L233.50,348.73 L234.00,348.73 L234.00,350.32 L234.50,350.32 L234.50,338.89 L234.90,338.89 L234.90,329.50 L235.00,329.50 L235.00,331.76 L235.50,331.76 L235.50,344.05 L236.00,344.05 L236.00,349.25 L236.50,349.25 L236.50,340.00 L237.00,340.00 L237.00,347.72 L237.50,347.72 L237.50,351.16 L238.00,351.16 L238.00,349.35 L238.50,349.35 L238.50,348.01 L239.00,348.01 L239.00,357.50 L239.50,357.50 L239.50,328.67 L240.00,328.67 L240.00,327.86 L240.50,327.86 L240.50,326.97 L241.00,326.97 L241.00,327.27 L241.50,327.27 L241.50,328.83 L242.00,328.83 L242.00,329.89 L242.50,329.89 L242.50,330.57 L243.00,330.57 L243.00,330.79 L243.50,330.79 L243.50,329.86 L244.00,329.86 L244.00,329.13 L244.50,329.13 L244.50,328.67 L245.00,328.67 L245.00,328.16 L245.50,328.16 L245.50,328.65 L246.00,328.65 L246.00,329.25 L246.50,329.25 L246.50,329.16 L247.00,329.16 L247.00,330.10 L247.50,330.10 L247.50,329.44 L248.00,329.44 L248.00,329.38 L248.50,329.38 L248.50,328.91 L249.00,328.91 L249.00,327.46 L249.50,327.46 L249.50,328.14 L250.00,328.14 L250.00,328.27 L250.50,328.27 L250.50,329.41 L251.00,329.41 L251.00,330.67 L251.50,330.67 L251.50,330.64 L252.00,330.64 L252.00,329.55 L252.50,329.55 L252.50,328.20 L253.00,328.20 L253.00,327.21 L253.50,327.21 L253.50,328.33 L254.00,328.33 L254.00,329.13 L254.50,329.13 L254.50,330.34 L255.00,330.34 L255.00,330.89 L255.50,330.89 L255.50,329.35 L256.00,329.35 L256.00,328.34 L256.50,328.34 L256.50,326.90 L257.00,326.90 L257.00,326.43 L257.50,326.43 L257.50,326.98 L258.00,326.98 L258.00,327.27 L258.50,327.27 L258.50,326.10 L259.00,326.10 L259.00,325.90 L259.50,325.90 L259.50,324.58 L260.00,324.58 L260.00,324.79 L260.50,324.79 L260.50,325.23 L261.00,325.23 L261.00,325.85 L261.50,325.85 L261.50,325.50 L262.00,325.50 L262.00,324.75 L262.50,324.75 L262.50,323.85 L263.00,323.85 L263.00,323.74 L263.50,323.74 L263.50,323.35 L264.00,323.35 L264.00,323.93 L264.50,323.93 L264.50,323.35 L265.00,323.35 L265.00,322.95 L265.50,322.95 L265.50,322.84 L266.00,322.84 L266.00,322.38 L266.50,322.38 L266.50,322.42 L267.00,322.42 L267.00,322.26 L267.50,322.26 L267.50,322.72 L268.00,322.72 L268.00,322.06 L268.50,322.06 L268.50,321.30 L269.00,321.30 L269.00,320.66 L269.50,320.66 L269.50,321.11 L270.00,321.11 L270.00,320.81 L270.50,320.81 L270.50,320.87 L271.00,320.87 L271.00,320.53 L271.50,320.53 L271.50,319.86 L272.00,319.86 L272.00,318.98 L272.50,318.98 L272.50,318.56 L273.00,318.56 L273.00,318.74 L273.50,318.74 L273.50,318.68 L274.00,318.68 L274.00,319.43 L274.50,319.43 L274.50,318.70 L275.00,318.70 L275.00,318.75 L275.50,318.75 L275.50,318.36 L276.00,318.36 L276.00,318.03 L276.50,318.03 L276.50,318.78 L277.00,318.78 L277.00,318.85 L277.50,318.85 L277.50,319.93 L278.00,319.93 L278.00,321.29 L278.50,321.29 L278.50,321.94 L279.00,321.94 L279.00,322.57 L279.50,322.57 L279.50,323.51 L280.00,323.51 L280.00,323.99 L280.50,323.99 L280.50,324.88 L281.00,324.88 L281.00,325.26 L281.50,325.26 L281.50,325.63 L282.00,325.63 L282.00,325.43 L282.50,325.43 L282.50,326.34 L283.00,326.34 L283.00,326.32 L283.50,326.32 L283.50,326.84 L284.00,326.84 L284.00,326.79 L284.50,326.79 L284.50,326.44 L285.00,326.44 L285.00,326.13 L285.50,326.13 L285.50,326.73 L286.00,326.73 L286.00,327.18 L286.50,327.18 L286.50,327.51 L287.00,327.51 L287.00,327.78 L287.50,327.78 L287.50,327.03 L288.00,327.03 L288.00,326.85 L288.50,326.85 L288.50,326.70 L289.00,326.70 L289.00,326.84 L289.50,326.84 L289.50,327.25 L290.00,327.25 L290.00,327.68 L290.50,327.68 L290.50,327.29 L291.00,327.29 L291.00,326.94 L291.50,326.94 L291.50,326.43 L292.00,326.43 L292.00,357.50 L292.50,357.50 L292.50,357.50 L293.00,357.50 L293.00,357.50 L293.50,357.50 L293.50,357.50 L294.00,357.50 L294.00,357.50 L294.50,357.50 L294.50,357.50 L295.00,357.50 L295.00,357.50 L295.50,357.50 L295.50,357.50 L296.00,357.50 L296.00,357.50 L296.50,357.50 L296.50,357.50 L297.00,357.50 L297.00,357.50 L297.50,357.50 L297.50,357.50 L298.00,357.50 L298.00,357.50 L298.50,357.50 L298.50,357.50 L299.00,357.50 L299.00,357.50 L299.50,357.50 L299.50,357.50 L300.00,357.50 L300.00,357.50 L300.50,357.50 L300.50,357.50 L301.00,357.50 L301.00,357.50 L301.50,357.50 L301.50,357.50 L302.00,357.50 L302.00,357.50 L302.50,357.50 L302.50,357.50 L303.00,357.50 L303.00,357.50 L303.50,357.50 L303.50,357.50 L304.00,357.50 L304.00,357.50 L304.50,357.50 L304.50,357.50 L305.00,357.50 L305.00,357.50 L305.50,357.50 L305.50,357.50 L306.00,357.50 L306.00,357.50 L306.50,357.50 L306.50,357.50 L307.00,357.50 L307.00,357.50 L307.50,357.50 L307.50,357.50 L308.00,357.50 L308.00,357.50 L308.50,357.50 L308.50,357.50 L309.00,357.50 L309.00,357.50 L309.50,357.50 L309.50,357.50 L310.00,357.50 L310.00,357.50 L310.50,357.50 L310.50,357.50 L311.00,357.50 L311.00,357.50 L311.50,357.50 L311.50,357.50 L312.00,357.50 L312.00,357.50 L312.50,357.50 L312.50,357.50 L313.00,357.50 L313.00,357.50 L313.50,357.50 L313.50,357.50 L314.00,357.50 L314.00,357.50 L314.50,357.50 L314.50,357.50 L315.00,357.50 L315.00,357.50 L315.50,357.50 L315.50,357.50 L316.00,357.50 L316.00,357.50 L316.50,357.50 L316.50,357.50 L317.00,357.50 L317.00,357.50 L317.50,357.50 L317.50,357.50 L318.00,357.50 L318.00,357.50 L318.50,357.50 L318.50,357.50 L319.00,357.50 L319.00,357.50 L319.50,357.50 L319.50,357.50 L320.00,357.50 L320.00,357.50 L320.50,357.50 L320.50,357.50 L321.00,357.50 L321.00,357.50 L321.50,357.50 L321.50,357.50 L322.00,357.50 L322.00,357.50 L322.50,357.50 L322.50,357.50 L323.00,357.50 L323.00,357.50 L323.50,357.50 L323.50,357.50 L324.00,357.50 L324.00,357.50 L324.50,357.50 L324.50,357.50 L325.00,357.50 L325.00,357.50 L325.50,357.50 L325.50,357.50 L326.00,357.50 L326.00,357.50 L326.50,357.50 L326.50,357.50 L327.00,357.50 L327.00,357.50 L327.50,357.50 L327.50,357.50 L328.00,357.50 L328.00,357.50 L328.50,357.50 L328.50,357.50 L329.00,357.50 L329.00,357.50 L329.50,357.50 L329.50,357.50 L330.00,357.50 L330.00,357.50 L330.50,357.50 L330.50,357.50 L331.00,357.50 L331.00,357.50 L331.50,357.50 L331.50,357.50 L332.00,357.50 L332.00,357.50 L332.50,357.50 L332.50,357.50 L333.00,357.50 L333.00,357.50 L333.50,357.50 L333.50,357.50 L334.00,357.50 L334.00,357.50 L334.50,357.50 L334.50,357.50 L335.00,357.50 L335.00,357.50 L335.50,357.50 L335.50,357.50 L336.00,357.50 L336.00,357.50 L336.50,357.50 L336.50,357.50 L337.00,357.50 L337.00,357.50 L337.50,357.50 L337.50,357.50 L338.00,357.50 L338.00,357.50 L338.50,357.50 L338.50,357.50 L339.00,357.50 L339.00,357.50 L339.50,357.50 L339.50,357.50 L340.00,357.50 L340.00,357.50 L340.50,357.50 L340.50,357.50 L341.00,357.50 L341.00,357.50 L341.50,357.50 L341.50,357.50 L342.00,357.50 L342.00,357.50 L342.50,357.50 L342.50,357.50 L343.00,357.50 L343.00,357.50 L343.50,357.50 L343.50,357.50 L344.00,357.50 L344.00,357.50 L344.50,357.50 L344.50,357.50 L345.00,357.50 L345.00,357.50 L345.50,357.50 L345.50,357.50 L346.00,357.50 L346.00,357.50 L346.50,357.50 L346.50,357.50 L347.00,357.50 L347.00,357.50 L347.50,357.50 L347.50,357.50 L348.00,357.50 L348.00,357.50 L348.50,357.50 L348.50,357.50 L349.00,357.50 L349.00,357.50 L349.50,357.50 L349.50,357.50 L350.00,357.50 L350.00,357.50 L350.50,357.50 L350.50,357.50 L351.00,357.50 L351.00,357.50 L351.50,357.50 L351.50,357.50 L352.00,357.50 L352.00,357.50 L352.50,357.50 L352.50,357.50 L353.00,357.50 L353.00,357.50 L353.50,357.50 L353.50,357.50 L354.00,357.50 L354.00,357.50 L354.50,357.50 L354.50,357.50 L355.00,357.50 L355.00,357.50 L355.50,357.50 L355.50,357.50 L356.00,357.50 L356.00,357.50 L356.50,357.50 L356.50,357.50 L357.00,357.50 L357.00,357.50 L357.50,357.50 L357.50,357.50 L358.00,357.50 L358.00,357.50 L358.50,357.50 L358.50,357.50 L359.00,357.50 L359.00,357.50 L359.50,357.50 L359.50,357.50 L360.00,357.50 L360.00,357.50 L360.50,357.50 L360.50,357.50 L361.00,357.50 L361.00,357.50 L361.50,357.50 L361.50,357.50 L362.00,357.50 L362.00,357.50 L362.50,357.50 L362.50,357.50 L363.00,357.50 L363.00,357.50 L363.50,357.50 L363.50,357.50 L364.00,357.50 L364.00,357.50 L364.50,357.50 L364.50,357.50 L365.00,357.50 L365.00,357.50 L365.50,357.50 L365.50,357.50 L366.00,357.50 L366.00,357.50 L366.50,357.50 L366.50,357.50 L367.00,357.50 L367.00,357.50 L367.50,357.50 L367.50,357.50 L368.00,357.50 L368.00,357.50 L368.50,357.50 L368.50,357.50 L369.00,357.50 L369.00,357.50 L369.50,357.50 L369.50,357.50 L370.00,357.50 L370.00,357.50 L370.50,357.50 L370.50,357.50 L371.00,357.50 L371.00,357.50 L371.50,357.50 L371.50,357.50 L372.00,357.50 L372.00,357.50 L372.50,357.50 L372.50,357.50 L373.00,357.50 L373.00,357.50 L373.50,357.50 L373.50,357.50 L374.00,357.50 L374.00,357.50 L374.50,357.50 L374.50,357.50 L375.00,357.50 L375.00,357.50 L375.50,357.50 L375.50,342.57 L376.00,342.57 L376.00,343.37 L376.50,343.37 L376.50,343.57 L377.00,343.57 L377.00,342.72 L377.50,342.72 L377.50,327.77 L378.00,327.77 L378.00,327.51 L378.50,327.51 L378.50,327.61 L379.00,327.61 L379.00,328.29 L379.50,328.29 L379.50,328.56 L380.00,328.56 L380.00,328.34 L380.50,328.34 L380.50,327.56 L381.00,327.56 L381.00,327.07 L381.50,327.07 L381.50,326.72 L382.00,326.72 L382.00,326.78 L382.50,326.78 L382.50,327.04 L383.00,327.04 L383.00,326.21 L383.50,326.21 L383.50,325.39 L384.00,325.39 L384.00,324.92 L384.50,324.92 L384.50,324.26 L385.00,324.26 L385.00,324.36 L385.50,324.36 L385.50,323.16 L386.00,323.16 L386.00,321.48 L386.50,321.48 L386.50,319.52 L387.00,319.52 L387.00,316.82 L387.50,316.82 L387.50,316.46 L388.00,316.46 L388.00,316.07 L388.50,316.07 L388.50,316.18 L389.00,316.18 L389.00,317.32 L389.50,317.32 L389.50,317.81 L390.00,317.81 L390.00,318.42 L390.50,318.42 L390.50,317.49 L391.00,317.49 L391.00,316.49 L391.50,316.49 L391.50,316.26 L392.00,316.26 L392.00,316.00 L392.50,316.00 L392.50,315.99 L393.00,315.99 L393.00,315.43 L393.50,315.43 L393.50,315.15 L394.00,315.15 L394.00,314.61 L394.50,314.61 L394.50,314.38 L395.00,314.38 L395.00,314.46 L395.50,314.46 L395.50,314.61 L396.00,314.61 L396.00,314.08 L396.50,314.08 L396.50,312.76 L397.00,312.76 L397.00,311.76 L397.50,311.76 L397.50,311.62 L398.00,311.62 L398.00,311.74 L398.50,311.74 L398.50,312.04 L399.00,312.04 L399.00,311.93 L399.50,311.93 L399.50,311.04 L400.00,311.04 L400.00,310.07 L400.50,310.07 L400.50,308.70 L401.00,308.70 L401.00,309.34 L401.50,309.34 L401.50,310.13 L402.00,310.13 L402.00,310.41 L402.50,310.41 L402.50,309.53 L403.00,309.53 L403.00,308.90 L403.50,308.90 L403.50,307.91 L404.00,307.91 L404.00,307.51 L404.50,307.51 L404.50,307.47 L405.00,307.47 L405.00,307.15 L405.50,307.15 L405.50,306.64 L406.00,306.64 L406.00,305.57 L406.50,305.57 L406.50,304.59 L407.00,304.59 L407.00,303.83 L407.50,303.83 L407.50,304.16 L408.00,304.16 L408.00,357.50 L408.50,357.50 L408.50,357.50 L409.00,357.50 L409.00,357.50 L409.50,357.50 L409.50,357.50 L410.00,357.50 L410.00,357.50 L410.50,357.50 L410.50,357.50 L411.00,357.50 L411.00,357.50 L411.50,357.50 L411.50,357.50 L412.00,357.50 L412.00,357.50 L412.50,357.50 L412.50,357.50 L413.00,357.50 L413.00,357.50 L413.50,357.50 L413.50,357.50 L414.00,357.50 L414.00,357.50 L414.50,357.50 L414.50,357.50 L415.00,357.50 L415.00,357.50 L415.50,357.50 L415.50,357.50 L416.00,357.50 L416.00,357.50 L416.50,357.50 L416.50,357.50 L417.00,357.50 L417.00,357.50 L417.50,357.50 L417.50,357.50 L418.00,357.50 L418.00,357.50 L418.50,357.50 L418.50,357.50 L419.00,357.50 L419.00,357.50 L419.50,357.50 L419.50,357.50 L420.00,357.50 L420.00,357.50 L420.50,357.50 L420.50,357.50 L421.00,357.50 L421.00,357.50 L421.50,357.50 L421.50,357.50 L422.00,357.50 L422.00,357.50 L422.50,357.50 L422.50,357.50 L423.00,357.50 L423.00,357.50 L423.50,357.50 L423.50,357.50 L424.00,357.50 L424.00,357.50 L424.50,357.50 L424.50,357.50 L425.00,357.50 L425.00,357.50 L425.50,357.50 L425.50,357.50 L426.00,357.50 L426.00,357.50 L426.50,357.50 L426.50,357.50 L427.00,357.50 L427.00,357.50 L427.50,357.50 L427.50,357.50 L428.00,357.50 L428.00,357.50 L428.50,357.50 L428.50,357.50 L429.00,357.50 L429.00,357.50 L429.50,357.50 L429.50,357.50 L430.00,357.50 L430.00,357.50 L430.50,357.50 L430.50,357.50 L431.00,357.50 L431.00,357.50 L431.50,357.50 L431.50,357.50 L432.00,357.50 L432.00,357.50 L432.50,357.50 L432.50,357.50 L433.00,357.50 L433.00,357.50 L433.50,357.50 L433.50,357.50 L434.00,357.50 L434.00,357.50 L434.50,357.50 L434.50,357.50 L435.00,357.50 L435.00,357.50 L435.50,357.50 L435.50,357.50 L436.00,357.50 L436.00,357.50 L436.50,357.50 L436.50,357.50 L437.00,357.50 L437.00,357.50 L437.50,357.50 L437.50,357.50 L438.00,357.50 L438.00,357.50 L438.50,357.50 L438.50,357.50 L439.00,357.50 L439.00,357.50 L439.50,357.50 L439.50,357.50 L440.00,357.50 L440.00,357.50 L440.50,357.50 L440.50,357.50 L441.00,357.50 L441.00,357.50 L441.50,357.50 L441.50,357.50 L442.00,357.50 L442.00,357.50 L442.50,357.50 L442.50,357.50 L443.00,357.50 L443.00,357.50 L443.50,357.50 L443.50,357.50 L444.00,357.50 L444.00,357.50 L444.50,357.50 L444.50,357.50 L445.00,357.50 L445.00,357.50 L445.50,357.50 L445.50,357.50 L446.00,357.50 L446.00,357.50 L446.50,357.50 L446.50,357.50 L447.00,357.50 L447.00,357.50 L447.50,357.50 L447.50,357.50 L448.00,357.50 L448.00,357.50 L448.50,357.50 L448.50,357.50 L449.00,357.50 L449.00,357.50 L449.50,357.50 L449.50,357.50 L450.00,357.50 L450.00,357.50 L450.50,357.50 L450.50,357.50 L451.00,357.50 L451.00,357.50 L451.50,357.50 L451.50,357.50 L452.00,357.50 L452.00,357.50 L452.50,357.50 L452.50,357.50 L453.00,357.50 L453.00,357.50 L453.50,357.50 L453.50,357.50 L454.00,357.50 L454.00,357.50 L454.50,357.50 L454.50,357.50 L455.00,357.50 L455.00,357.50 L455.50,357.50 L455.50,357.50 L456.00,357.50 L456.00,357.50 L456.50,357.50 L456.50,357.50 L457.00,357.50 L457.00,357.50 L457.50,357.50 L457.50,357.50 L458.00,357.50 L458.00,357.50 L458.50,357.50 L458.50,357.50 L459.00,357.50 L459.00,357.50 L459.50,357.50 L459.50,357.50 L460.00,357.50 L460.00,357.50 L460.50,357.50 L460.50,357.50 L461.00,357.50 L461.00,357.50 L461.50,357.50 L461.50,357.50 L462.00,357.50 L462.00,357.50 L462.50,357.50 L462.50,357.50 L463.00,357.50 L463.00,357.50 L463.50,357.50 L463.50,357.50 L464.00,357.50 L464.00,357.50 L464.50,357.50 L464.50,357.50 L465.00,357.50 L465.00,357.50 L465.50,357.50 L465.50,357.50 L466.00,357.50 L466.00,357.50 L466.50,357.50 L466.50,357.50 L467.00,357.50 L467.00,357.50 L467.50,357.50 L467.50,357.50 L468.00,357.50 L468.00,357.50 L468.50,357.50 L468.50,357.50 L469.00,357.50 L469.00,357.50 L469.50,357.50 L469.50,357.50 L470.00,357.50 L470.00,357.50 L470.50,357.50 L470.50,357.50 L471.00,357.50 L471.00,357.50 L471.50,357.50 L471.50,357.50 L472.00,357.50 L472.00,357.50 L472.50,357.50 L472.50,357.50 L473.00,357.50 L473.00,357.50 L473.50,357.50 L473.50,357.50 L474.00,357.50 L474.00,357.50 L474.50,357.50 L474.50,357.50 L475.00,357.50 L475.00,357.50 L475.50,357.50 L475.50,357.50 L476.00,357.50 L476.00,357.50 L476.50,357.50 L476.50,357.50 L477.00,357.50 L477.00,357.50 L477.50,357.50 L477.50,357.50 L478.00,357.50 L478.00,357.50 L478.50,357.50 L478.50,357.50 L479.00,357.50 L479.00,357.50 L479.50,357.50 L479.50,357.50 L480.00,357.50 L480.00,357.50 L480.50,357.50 L480.50,357.50 L481.00,357.50 L481.00,357.50 L481.50,357.50 L481.50,357.50 L482.00,357.50 L482.00,357.50 L482.50,357.50 L482.50,357.50 L483.00,357.50 L483.00,357.50 L483.50,357.50 L483.50,357.50 L484.00,357.50 L484.00,357.50 L484.50,357.50 L484.50,357.50 L485.00,357.50 L485.00,357.50 L485.50,357.50 L485.50,357.50 L486.00,357.50 L486.00,357.50 L486.50,357.50 L486.50,357.50 L487.00,357.50 L487.00,357.50 L487.50,357.50 L487.50,357.50 L488.00,357.50 L488.00,357.50 L488.50,357.50 L488.50,357.50 L489.00,357.50 L489.00,357.50 L489.50,357.50 L489.50,357.50 L490.00,357.50 L490.00,357.50 L490.50,357.50 L490.50,357.50 L491.00,357.50 L491.00,357.50 L491.50,357.50 L491.50,299.02 L492.00,299.02 L492.00,298.80 L492.50,298.80 L492.50,298.02 L493.00,298.02 L493.00,297.25 L493.50,297.25 L493.50,297.34 L494.00,297.34 L494.00,297.58 L494.50,297.58 L494.50,297.53 L495.00,297.53 L495.00,296.73 L495.50,296.73 L495.50,295.88 L496.00,295.88 L496.00,294.84 L496.50,294.84 L496.50,294.09 L497.00,294.09 L497.00,294.42 L497.50,294.42 L497.50,294.66 L498.00,294.66 L498.00,295.13 L498.50,295.13 L498.50,295.14 L499.00,295.14 L499.00,294.71 L499.50,294.71 L499.50,293.74 L500.00,293.74 L500.00,294.05 L500.50,294.05 L500.50,294.02 L501.00,294.02 L501.00,293.99 L501.50,293.99 L501.50,295.24 L502.00,295.24 L502.00,295.42 L502.50,295.42 L502.50,295.93 L503.00,295.93 L503.00,296.61 L503.50,296.61 L503.50,298.17 L504.00,298.17 L504.00,299.42 L504.50,299.42 L504.50,300.46 L505.00,300.46 L505.00,301.14 L505.50,301.14 L505.50,301.59 L506.00,301.59 L506.00,301.84 L506.50,301.84 L506.50,302.64 L507.00,302.64 L507.00,303.75 L507.50,303.75 L507.50,305.99 L508.00,305.99 L508.00,307.64 L508.50,307.64 L508.50,305.30 L509.00,305.30 L509.00,303.00 L509.50,303.00 L509.50,301.25 L510.00,301.25 L510.00,301.13 L510.50,301.13 L510.50,300.33 L511.00,300.33 L511.00,299.08 L511.50,299.08 L511.50,298.71 L512.00,298.71 L512.00,298.40 L512.50,298.40 L512.50,298.34 L513.00,298.34 L513.00,357.50 L513.00,357.50 L513.00,357.50 Z" fill="#afb0b4"/>
<path d="M42.00,487.80 L42.00,475.33 L42.50,475.33 L42.50,476.28 L43.00,476.28 L43.00,476.48 L43.50,476.48 L43.50,477.08 L44.00,477.08 L44.00,476.57 L44.50,476.57 L44.50,476.08 L45.00,476.08 L45.00,475.36 L45.50,475.36 L45.50,475.30 L46.00,475.30 L46.00,475.43 L46.50,475.43 L46.50,476.06 L47.00,476.06 L47.00,475.58 L47.50,475.58 L47.50,474.60 L48.00,474.60 L48.00,474.04 L48.50,474.04 L48.50,473.11 L49.00,473.11 L49.00,474.03 L49.50,474.03 L49.50,474.00 L50.00,474.00 L50.00,474.41 L50.50,474.41 L50.50,473.86 L51.00,473.86 L51.00,473.40 L51.50,473.40 L51.50,473.06 L52.00,473.06 L52.00,473.42 L52.50,473.42 L52.50,473.44 L53.00,473.44 L53.00,474.14 L53.50,474.14 L53.50,473.94 L54.00,473.94 L54.00,473.81 L54.50,473.81 L54.50,472.93 L55.00,472.93 L55.00,472.84 L55.50,472.84 L55.50,473.74 L56.00,473.74 L56.00,474.01 L56.50,474.01 L56.50,474.38 L57.00,474.38 L57.00,473.84 L57.50,473.84 L57.50,473.20 L58.00,473.20 L58.00,472.93 L58.50,472.93 L58.50,473.29 L59.00,473.29 L59.00,474.03 L59.50,474.03 L59.50,474.68 L60.00,474.68 L60.00,474.40 L60.50,474.40 L60.50,473.75 L61.00,473.75 L61.00,472.95 L61.50,472.95 L61.50,473.28 L62.00,473.28 L62.00,473.78 L62.50,473.78 L62.50,474.28 L63.00,474.28 L63.00,474.33 L63.50,474.33 L63.50,473.88 L64.00,473.88 L64.00,473.52 L64.50,473.52 L64.50,473.66 L65.00,473.66 L65.00,487.80 L65.50,487.80 L65.50,487.80 L66.00,487.80 L66.00,487.80 L66.50,487.80 L66.50,487.80 L67.00,487.80 L67.00,487.80 L67.50,487.80 L67.50,487.80 L68.00,487.80 L68.00,487.80 L68.50,487.80 L68.50,487.80 L69.00,487.80 L69.00,487.80 L69.50,487.80 L69.50,487.80 L70.00,487.80 L70.00,487.80 L70.50,487.80 L70.50,487.80 L71.00,487.80 L71.00,487.80 L71.50,487.80 L71.50,487.80 L72.00,487.80 L72.00,487.80 L72.50,487.80 L72.50,487.80 L73.00,487.80 L73.00,487.80 L73.50,487.80 L73.50,487.80 L74.00,487.80 L74.00,487.80 L74.50,487.80 L74.50,487.80 L75.00,487.80 L75.00,487.80 L75.50,487.80 L75.50,487.80 L76.00,487.80 L76.00,487.80 L76.50,487.80 L76.50,487.80 L77.00,487.80 L77.00,487.80 L77.50,487.80 L77.50,487.80 L78.00,487.80 L78.00,487.80 L78.50,487.80 L78.50,487.80 L79.00,487.80 L79.00,487.80 L79.50,487.80 L79.50,487.80 L80.00,487.80 L80.00,487.80 L80.50,487.80 L80.50,487.80 L81.00,487.80 L81.00,487.80 L81.50,487.80 L81.50,487.80 L82.00,487.80 L82.00,487.80 L82.50,487.80 L82.50,487.80 L83.00,487.80 L83.00,487.80 L83.50,487.80 L83.50,487.80 L84.00,487.80 L84.00,487.80 L84.50,487.80 L84.50,487.80 L85.00,487.80 L85.00,487.80 L85.50,487.80 L85.50,487.80 L86.00,487.80 L86.00,487.80 L86.50,487.80 L86.50,487.80 L87.00,487.80 L87.00,487.80 L87.50,487.80 L87.50,487.80 L88.00,487.80 L88.00,487.80 L88.50,487.80 L88.50,487.80 L89.00,487.80 L89.00,487.80 L89.50,487.80 L89.50,487.80 L90.00,487.80 L90.00,487.80 L90.50,487.80 L90.50,487.80 L91.00,487.80 L91.00,487.80 L91.50,487.80 L91.50,487.80 L92.00,487.80 L92.00,487.80 L92.50,487.80 L92.50,487.80 L93.00,487.80 L93.00,487.80 L93.50,487.80 L93.50,487.80 L94.00,487.80 L94.00,487.80 L94.50,487.80 L94.50,487.80 L95.00,487.80 L95.00,487.80 L95.50,487.80 L95.50,487.80 L96.00,487.80 L96.00,487.80 L96.50,487.80 L96.50,487.80 L97.00,487.80 L97.00,487.80 L97.50,487.80 L97.50,487.80 L98.00,487.80 L98.00,487.80 L98.50,487.80 L98.50,487.80 L99.00,487.80 L99.00,487.80 L99.50,487.80 L99.50,487.80 L100.00,487.80 L100.00,487.80 L100.50,487.80 L100.50,487.80 L101.00,487.80 L101.00,487.80 L101.50,487.80 L101.50,487.80 L102.00,487.80 L102.00,487.80 L102.50,487.80 L102.50,487.80 L103.00,487.80 L103.00,487.80 L103.50,487.80 L103.50,487.80 L104.00,487.80 L104.00,487.80 L104.50,487.80 L104.50,487.80 L105.00,487.80 L105.00,487.80 L105.50,487.80 L105.50,487.80 L106.00,487.80 L106.00,487.80 L106.50,487.80 L106.50,487.80 L107.00,487.80 L107.00,487.80 L107.50,487.80 L107.50,487.80 L108.00,487.80 L108.00,487.80 L108.50,487.80 L108.50,487.80 L109.00,487.80 L109.00,487.80 L109.50,487.80 L109.50,487.80 L110.00,487.80 L110.00,487.80 L110.50,487.80 L110.50,487.80 L111.00,487.80 L111.00,487.80 L111.50,487.80 L111.50,487.80 L112.00,487.80 L112.00,487.80 L112.50,487.80 L112.50,487.80 L113.00,487.80 L113.00,487.80 L113.50,487.80 L113.50,487.80 L114.00,487.80 L114.00,487.80 L114.50,487.80 L114.50,487.80 L115.00,487.80 L115.00,487.80 L115.50,487.80 L115.50,487.80 L116.00,487.80 L116.00,487.80 L116.50,487.80 L116.50,487.80 L117.00,487.80 L117.00,487.80 L117.50,487.80 L117.50,487.80 L118.00,487.80 L118.00,487.80 L118.50,487.80 L118.50,487.80 L119.00,487.80 L119.00,487.80 L119.50,487.80 L119.50,487.80 L120.00,487.80 L120.00,487.80 L120.50,487.80 L120.50,487.80 L121.00,487.80 L121.00,487.80 L121.50,487.80 L121.50,487.80 L122.00,487.80 L122.00,487.80 L122.50,487.80 L122.50,487.80 L123.00,487.80 L123.00,487.80 L123.50,487.80 L123.50,487.80 L124.00,487.80 L124.00,487.80 L124.50,487.80 L124.50,487.80 L125.00,487.80 L125.00,487.80 L125.50,487.80 L125.50,487.80 L126.00,487.80 L126.00,487.80 L126.50,487.80 L126.50,487.80 L127.00,487.80 L127.00,487.80 L127.50,487.80 L127.50,487.80 L128.00,487.80 L128.00,487.80 L128.50,487.80 L128.50,487.80 L129.00,487.80 L129.00,487.80 L129.50,487.80 L129.50,487.80 L130.00,487.80 L130.00,487.80 L130.50,487.80 L130.50,487.80 L131.00,487.80 L131.00,487.80 L131.50,487.80 L131.50,487.80 L132.00,487.80 L132.00,487.80 L132.50,487.80 L132.50,487.80 L133.00,487.80 L133.00,487.80 L133.50,487.80 L133.50,487.80 L134.00,487.80 L134.00,487.80 L134.50,487.80 L134.50,487.80 L135.00,487.80 L135.00,487.80 L135.50,487.80 L135.50,487.80 L136.00,487.80 L136.00,487.80 L136.50,487.80 L136.50,487.80 L137.00,487.80 L137.00,487.80 L137.50,487.80 L137.50,487.80 L138.00,487.80 L138.00,487.80 L138.50,487.80 L138.50,487.80 L139.00,487.80 L139.00,487.80 L139.50,487.80 L139.50,487.80 L140.00,487.80 L140.00,487.80 L140.50,487.80 L140.50,487.80 L141.00,487.80 L141.00,487.80 L141.50,487.80 L141.50,487.80 L142.00,487.80 L142.00,487.80 L142.50,487.80 L142.50,487.80 L143.00,487.80 L143.00,487.80 L143.50,487.80 L143.50,487.80 L144.00,487.80 L144.00,487.80 L144.50,487.80 L144.50,487.80 L145.00,487.80 L145.00,487.80 L145.50,487.80 L145.50,487.80 L146.00,487.80 L146.00,487.80 L146.50,487.80 L146.50,487.80 L147.00,487.80 L147.00,487.80 L147.50,487.80 L147.50,487.80 L148.00,487.80 L148.00,487.80 L148.50,487.80 L148.50,478.69 L149.00,478.69 L149.00,479.40 L149.50,479.40 L149.50,478.96 L150.00,478.96 L150.00,478.23 L150.50,478.23 L150.50,477.31 L151.00,477.31 L151.00,477.50 L151.50,477.50 L151.50,477.71 L152.00,477.71 L152.00,478.31 L152.50,478.31 L152.50,478.77 L153.00,478.77 L153.00,478.50 L153.50,478.50 L153.50,478.23 L154.00,478.23 L154.00,477.72 L154.50,477.72 L154.50,477.93 L155.00,477.93 L155.00,478.81 L155.50,478.81 L155.50,478.75 L156.00,478.75 L156.00,487.80 L156.50,487.80 L156.50,487.80 L157.00,487.80 L157.00,487.80 L157.50,487.80 L157.50,487.80 L158.00,487.80 L158.00,487.80 L158.50,487.80 L158.50,487.80 L159.00,487.80 L159.00,487.80 L159.50,487.80 L159.50,487.80 L160.00,487.80 L160.00,487.13 L160.50,487.13 L160.50,486.54 L161.00,486.54 L161.00,486.69 L161.50,486.69 L161.50,487.01 L162.00,487.01 L162.00,486.76 L162.50,486.76 L162.50,487.34 L163.00,487.34 L163.00,487.39 L163.50,487.39 L163.50,487.24 L164.00,487.24 L164.00,486.47 L164.50,486.47 L164.50,487.39 L165.00,487.39 L165.00,487.21 L165.50,487.21 L165.50,487.02 L166.00,487.02 L166.00,487.30 L166.50,487.30 L166.50,486.59 L167.00,486.59 L167.00,487.37 L167.50,487.37 L167.50,487.38 L168.00,487.38 L168.00,486.55 L168.50,486.55 L168.50,487.40 L169.00,487.40 L169.00,487.30 L169.50,487.30 L169.50,487.16 L170.00,487.16 L170.00,486.60 L170.50,486.60 L170.50,487.22 L171.00,487.22 L171.00,487.01 L171.50,487.01 L171.50,486.77 L172.00,486.77 L172.00,486.99 L172.50,486.99 L172.50,486.74 L173.00,486.74 L173.00,487.40 L173.50,487.40 L173.50,487.03 L174.00,487.03 L174.00,487.26 L174.50,487.26 L174.50,486.33 L175.00,486.33 L175.00,485.54 L175.50,485.54 L175.50,484.81 L175.80,484.81 L175.80,484.40 L176.00,484.40 L176.00,484.67 L176.50,484.67 L176.50,485.39 L177.00,485.39 L177.00,486.17 L177.50,486.17 L177.50,487.05 L178.00,487.05 L178.00,487.24 L178.50,487.24 L178.50,487.39 L179.00,487.39 L179.00,486.83 L179.50,486.83 L179.50,486.69 L180.00,486.69 L180.00,486.76 L180.50,486.76 L180.50,487.23 L181.00,487.23 L181.00,487.29 L181.50,487.29 L181.50,486.60 L182.00,486.60 L182.00,486.80 L182.50,486.80 L182.50,486.57 L183.00,486.57 L183.00,487.15 L183.50,487.15 L183.50,486.58 L184.00,486.58 L184.00,486.81 L184.50,486.81 L184.50,486.68 L185.00,486.68 L185.00,487.03 L185.50,487.03 L185.50,486.71 L186.00,486.71 L186.00,487.06 L186.50,487.06 L186.50,487.26 L187.00,487.26 L187.00,487.07 L187.50,487.07 L187.50,487.39 L188.00,487.39 L188.00,486.82 L188.50,486.82 L188.50,487.21 L189.00,487.21 L189.00,487.04 L189.50,487.04 L189.50,486.35 L190.00,486.35 L190.00,485.50 L190.50,485.50 L190.50,486.35 L191.00,486.35 L191.00,486.60 L191.50,486.60 L191.50,486.53 L192.00,486.53 L192.00,487.12 L192.50,487.12 L192.50,487.01 L193.00,487.01 L193.00,487.40 L193.50,487.40 L193.50,487.22 L194.00,487.22 L194.00,486.61 L194.50,486.61 L194.50,487.09 L195.00,487.09 L195.00,486.53 L195.50,486.53 L195.50,487.40 L196.00,487.40 L196.00,487.40 L196.50,487.40 L196.50,487.39 L197.00,487.39 L197.00,487.38 L197.50,487.38 L197.50,486.83 L198.00,486.83 L198.00,486.57 L198.50,486.57 L198.50,486.80 L199.00,486.80 L199.00,486.95 L199.50,486.95 L199.50,487.16 L200.00,487.16 L200.00,487.15 L200.50,487.15 L200.50,487.35 L201.00,487.35 L201.00,487.17 L201.50,487.17 L201.50,487.36 L202.00,487.36 L202.00,486.81 L202.50,486.81 L202.50,487.07 L203.00,487.07 L203.00,487.20 L203.50,487.20 L203.50,486.70 L204.00,486.70 L204.00,487.05 L204.50,487.05 L204.50,486.17 L205.00,486.17 L205.00,485.39 L205.50,485.39 L205.50,484.67 L205.70,484.67 L205.70,484.40 L206.00,484.40 L206.00,484.81 L206.50,484.81 L206.50,485.54 L207.00,485.54 L207.00,486.33 L207.50,486.33 L207.50,487.02 L208.00,487.02 L208.00,486.56 L208.50,486.56 L208.50,487.29 L209.00,487.29 L209.00,486.65 L209.50,486.65 L209.50,486.72 L210.00,486.72 L210.00,487.00 L210.50,487.00 L210.50,487.37 L211.00,487.37 L211.00,486.66 L211.50,486.66 L211.50,487.18 L212.00,487.18 L212.00,487.21 L212.50,487.21 L212.50,486.46 L213.00,486.46 L213.00,487.37 L213.50,487.37 L213.50,486.85 L214.00,486.85 L214.00,487.28 L214.50,487.28 L214.50,486.56 L215.00,486.56 L215.00,487.30 L215.50,487.30 L215.50,487.80 L216.00,487.80 L216.00,487.80 L216.50,487.80 L216.50,481.11 L217.00,481.11 L217.00,468.44 L217.50,468.44 L217.50,458.75 L218.00,458.75 L218.00,451.57 L218.50,451.57 L218.50,445.60 L218.60,445.60 L218.60,444.50 L219.00,444.50 L219.00,449.07 L219.50,449.07 L219.50,455.69 L220.00,455.69 L220.00,464.08 L220.50,464.08 L220.50,468.51 L221.00,468.51 L221.00,461.68 L221.50,461.68 L221.50,456.30 L222.00,456.30 L222.00,461.68 L222.50,461.68 L222.50,468.51 L223.00,468.51 L223.00,478.12 L223.50,478.12 L223.50,472.07 L224.00,472.07 L224.00,466.91 L224.50,466.91 L224.50,462.25 L225.00,462.25 L225.00,447.41 L225.50,447.41 L225.50,433.75 L226.00,433.75 L226.00,422.10 L226.50,422.10 L226.50,433.75 L227.00,433.75 L227.00,447.41 L227.50,447.41 L227.50,462.25 L228.00,462.25 L228.00,466.91 L228.50,466.91 L228.50,472.07 L229.00,472.07 L229.00,478.12 L229.50,478.12 L229.50,481.00 L230.00,481.00 L230.00,480.84 L230.50,480.84 L230.50,478.98 L231.00,478.98 L231.00,466.21 L231.50,466.21 L231.50,458.56 L232.00,458.56 L232.00,452.54 L232.20,452.54 L232.20,450.40 L232.50,450.40 L232.50,453.66 L233.00,453.66 L233.00,459.92 L233.50,459.92 L233.50,468.09 L234.00,468.09 L234.00,474.45 L234.50,474.45 L234.50,466.00 L235.00,466.00 L235.00,460.01 L235.50,460.01 L235.50,455.10 L236.00,455.10 L236.00,460.01 L236.50,460.01 L236.50,466.00 L237.00,466.00 L237.00,474.45 L237.50,474.45 L237.50,481.57 L238.00,481.57 L238.00,477.35 L238.50,477.35 L238.50,475.69 L239.00,475.69 L239.00,454.57 L239.50,454.57 L239.50,453.43 L240.00,453.43 L240.00,451.84 L240.50,451.84 L240.50,451.16 L241.00,451.16 L241.00,450.63 L241.50,450.63 L241.50,451.99 L242.00,451.99 L242.00,452.99 L242.50,452.99 L242.50,453.44 L243.00,453.44 L243.00,453.53 L243.50,453.53 L243.50,453.06 L244.00,453.06 L244.00,452.80 L244.50,452.80 L244.50,453.25 L245.00,453.25 L245.00,454.82 L245.50,454.82 L245.50,456.35 L246.00,456.35 L246.00,456.75 L246.50,456.75 L246.50,456.54 L247.00,456.54 L247.00,456.65 L247.50,456.65 L247.50,457.61 L248.00,457.61 L248.00,458.36 L248.50,458.36 L248.50,458.13 L249.00,458.13 L249.00,457.74 L249.50,457.74 L249.50,456.41 L250.00,456.41 L250.00,455.89 L250.50,455.89 L250.50,455.83 L251.00,455.83 L251.00,456.91 L251.50,456.91 L251.50,458.06 L252.00,458.06 L252.00,458.75 L252.50,458.75 L252.50,458.25 L253.00,458.25 L253.00,458.38 L253.50,458.38 L253.50,458.68 L254.00,458.68 L254.00,459.68 L254.50,459.68 L254.50,460.52 L255.00,460.52 L255.00,460.44 L255.50,460.44 L255.50,459.86 L256.00,459.86 L256.00,458.34 L256.50,458.34 L256.50,457.50 L257.00,457.50 L257.00,457.65 L257.50,457.65 L257.50,459.20 L258.00,459.20 L258.00,460.39 L258.50,460.39 L258.50,460.76 L259.00,460.76 L259.00,459.65 L259.50,459.65 L259.50,458.98 L260.00,458.98 L260.00,458.76 L260.50,458.76 L260.50,459.17 L261.00,459.17 L261.00,458.97 L261.50,458.97 L261.50,458.24 L262.00,458.24 L262.00,456.95 L262.50,456.95 L262.50,455.61 L263.00,455.61 L263.00,454.82 L263.50,454.82 L263.50,455.14 L264.00,455.14 L264.00,455.69 L264.50,455.69 L264.50,455.46 L265.00,455.46 L265.00,455.09 L265.50,455.09 L265.50,454.48 L266.00,454.48 L266.00,453.82 L266.50,453.82 L266.50,453.91 L267.00,453.91 L267.00,453.93 L267.50,453.93 L267.50,454.13 L268.00,454.13 L268.00,453.46 L268.50,453.46 L268.50,452.53 L269.00,452.53 L269.00,451.71 L269.50,451.71 L269.50,451.28 L270.00,451.28 L270.00,451.23 L270.50,451.23 L270.50,451.22 L271.00,451.22 L271.00,451.07 L271.50,451.07 L271.50,449.68 L272.00,449.68 L272.00,448.90 L272.50,448.90 L272.50,448.24 L273.00,448.24 L273.00,448.27 L273.50,448.27 L273.50,447.89 L274.00,447.89 L274.00,447.78 L274.50,447.78 L274.50,446.95 L275.00,446.95 L275.00,445.49 L275.50,445.49 L275.50,444.83 L276.00,444.83 L276.00,444.57 L276.50,444.57 L276.50,444.53 L277.00,444.53 L277.00,443.79 L277.50,443.79 L277.50,441.70 L278.00,441.70 L278.00,442.36 L278.50,442.36 L278.50,442.31 L279.00,442.31 L279.00,443.03 L279.50,443.03 L279.50,444.13 L280.00,444.13 L280.00,445.09 L280.50,445.09 L280.50,445.85 L281.00,445.85 L281.00,445.34 L281.50,445.34 L281.50,445.66 L282.00,445.66 L282.00,445.38 L282.50,445.38 L282.50,446.91 L283.00,446.91 L283.00,447.95 L283.50,447.95 L283.50,448.09 L284.00,448.09 L284.00,446.94 L284.50,446.94 L284.50,446.02 L285.00,446.02 L285.00,445.08 L285.50,445.08 L285.50,445.02 L286.00,445.02 L286.00,444.90 L286.50,444.90 L286.50,445.08 L287.00,445.08 L287.00,446.49 L287.50,446.49 L287.50,447.97 L288.00,447.97 L288.00,448.58 L288.50,448.58 L288.50,449.55 L289.00,449.55 L289.00,450.56 L289.50,450.56 L289.50,451.71 L290.00,451.71 L290.00,452.68 L290.50,452.68 L290.50,452.97 L291.00,452.97 L291.00,452.35 L291.50,452.35 L291.50,487.80 L292.00,487.80 L292.00,486.79 L292.50,486.79 L292.50,487.39 L293.00,487.39 L293.00,487.08 L293.50,487.08 L293.50,486.78 L294.00,486.78 L294.00,487.27 L294.50,487.27 L294.50,486.86 L295.00,486.86 L295.00,487.40 L295.50,487.40 L295.50,487.12 L296.00,487.12 L296.00,486.80 L296.50,486.80 L296.50,487.21 L297.00,487.21 L297.00,487.39 L297.50,487.39 L297.50,486.50 L298.00,486.50 L298.00,486.80 L298.50,486.80 L298.50,487.33 L299.00,487.33 L299.00,486.92 L299.50,486.92 L299.50,486.54 L300.00,486.54 L300.00,485.80 L300.50,485.80 L300.50,486.54 L301.00,486.54 L301.00,487.05 L301.50,487.05 L301.50,487.21 L302.00,487.21 L302.00,486.69 L302.50,486.69 L302.50,487.23 L303.00,487.23 L303.00,487.40 L303.50,487.40 L303.50,487.38 L304.00,487.38 L304.00,487.38 L304.50,487.38 L304.50,486.80 L305.00,486.80 L305.00,487.40 L305.50,487.40 L305.50,486.42 L306.00,486.42 L306.00,487.04 L306.50,487.04 L306.50,487.39 L307.00,487.39 L307.00,486.47 L307.50,486.47 L307.50,486.40 L308.00,486.40 L308.00,487.35 L308.50,487.35 L308.50,487.08 L309.00,487.08 L309.00,487.34 L309.50,487.34 L309.50,487.38 L310.00,487.38 L310.00,487.39 L310.50,487.39 L310.50,486.60 L311.00,486.60 L311.00,487.35 L311.50,487.35 L311.50,487.36 L312.00,487.36 L312.00,487.37 L312.50,487.37 L312.50,487.33 L313.00,487.33 L313.00,486.55 L313.50,486.55 L313.50,487.36 L314.00,487.36 L314.00,487.36 L314.50,487.36 L314.50,487.40 L315.00,487.40 L315.00,486.89 L315.50,486.89 L315.50,487.39 L316.00,487.39 L316.00,486.76 L316.50,486.76 L316.50,486.55 L317.00,486.55 L317.00,487.21 L317.50,487.21 L317.50,486.66 L318.00,486.66 L318.00,486.00 L318.50,486.00 L318.50,486.66 L319.00,486.66 L319.00,487.21 L319.50,487.21 L319.50,486.64 L320.00,486.64 L320.00,486.53 L320.50,486.53 L320.50,487.35 L321.00,487.35 L321.00,486.79 L321.50,486.79 L321.50,487.40 L322.00,487.40 L322.00,486.82 L322.50,486.82 L322.50,487.30 L323.00,487.30 L323.00,486.56 L323.50,486.56 L323.50,487.40 L324.00,487.40 L324.00,487.36 L324.50,487.36 L324.50,487.26 L325.00,487.26 L325.00,487.18 L325.50,487.18 L325.50,486.90 L326.00,486.90 L326.00,487.39 L326.50,487.39 L326.50,487.40 L327.00,487.40 L327.00,487.34 L327.50,487.34 L327.50,487.39 L328.00,487.39 L328.00,486.43 L328.50,486.43 L328.50,487.13 L329.00,487.13 L329.00,487.04 L329.50,487.04 L329.50,486.35 L330.00,486.35 L330.00,485.50 L330.50,485.50 L330.50,486.35 L331.00,486.35 L331.00,487.04 L331.50,487.04 L331.50,487.07 L332.00,487.07 L332.00,487.36 L332.50,487.36 L332.50,486.98 L333.00,486.98 L333.00,486.64 L333.50,486.64 L333.50,486.86 L334.00,486.86 L334.00,487.39 L334.50,487.39 L334.50,487.18 L335.00,487.18 L335.00,486.79 L335.50,486.79 L335.50,487.40 L336.00,487.40 L336.00,486.66 L336.50,486.66 L336.50,487.39 L337.00,487.39 L337.00,487.39 L337.50,487.39 L337.50,487.40 L338.00,487.40 L338.00,486.78 L338.50,486.78 L338.50,487.40 L339.00,487.40 L339.00,487.21 L339.50,487.21 L339.50,487.10 L340.00,487.10 L340.00,487.20 L340.50,487.20 L340.50,486.56 L341.00,486.56 L341.00,487.10 L341.50,487.10 L341.50,487.40 L342.00,487.40 L342.00,487.27 L342.50,487.27 L342.50,487.38 L343.00,487.38 L343.00,486.76 L343.50,486.76 L343.50,487.36 L344.00,487.36 L344.00,487.06 L344.50,487.06 L344.50,487.24 L345.00,487.24 L345.00,487.23 L345.50,487.23 L345.50,487.12 L346.00,487.12 L346.00,487.33 L346.50,487.33 L346.50,486.98 L347.00,486.98 L347.00,487.04 L347.50,487.04 L347.50,486.75 L348.00,486.75 L348.00,486.74 L348.50,486.74 L348.50,487.39 L349.00,487.39 L349.00,486.78 L349.50,486.78 L349.50,486.66 L350.00,486.66 L350.00,486.00 L350.50,486.00 L350.50,486.66 L351.00,486.66 L351.00,487.21 L351.50,487.21 L351.50,487.13 L352.00,487.13 L352.00,487.08 L352.50,487.08 L352.50,487.13 L353.00,487.13 L353.00,487.25 L353.50,487.25 L353.50,487.06 L354.00,487.06 L354.00,487.12 L354.50,487.12 L354.50,486.81 L355.00,486.81 L355.00,487.29 L355.50,487.29 L355.50,487.22 L356.00,487.22 L356.00,487.40 L356.50,487.40 L356.50,486.90 L357.00,486.90 L357.00,487.40 L357.50,487.40 L357.50,486.62 L358.00,486.62 L358.00,487.11 L358.50,487.11 L358.50,487.07 L359.00,487.07 L359.00,487.25 L359.50,487.25 L359.50,487.12 L360.00,487.12 L360.00,487.39 L360.50,487.39 L360.50,487.38 L361.00,487.38 L361.00,487.13 L361.50,487.13 L361.50,487.31 L362.00,487.31 L362.00,487.14 L362.50,487.14 L362.50,487.15 L363.00,487.15 L363.00,486.41 L363.50,486.41 L363.50,486.96 L364.00,486.96 L364.00,487.40 L364.50,487.40 L364.50,486.97 L365.00,486.97 L365.00,487.31 L365.50,487.31 L365.50,487.37 L366.00,487.37 L366.00,487.30 L366.50,487.30 L366.50,486.73 L367.00,486.73 L367.00,486.83 L367.50,486.83 L367.50,487.19 L368.00,487.19 L368.00,486.62 L368.50,486.62 L368.50,487.13 L369.00,487.13 L369.00,487.38 L369.50,487.38 L369.50,486.93 L370.00,486.93 L370.00,486.72 L370.50,486.72 L370.50,486.98 L371.00,486.98 L371.00,487.32 L371.50,487.32 L371.50,487.19 L372.00,487.19 L372.00,487.38 L372.50,487.38 L372.50,487.34 L373.00,487.34 L373.00,487.40 L373.50,487.40 L373.50,486.43 L374.00,486.43 L374.00,486.84 L374.50,486.84 L374.50,487.16 L375.00,487.16 L375.00,486.93 L375.50,486.93 L375.50,452.16 L376.00,452.16 L376.00,451.24 L376.50,451.24 L376.50,450.12 L377.00,450.12 L377.00,448.49 L377.50,448.49 L377.50,447.03 L378.00,447.03 L378.00,445.44 L378.50,445.44 L378.50,444.66 L379.00,444.66 L379.00,444.18 L379.50,444.18 L379.50,443.73 L380.00,443.73 L380.00,442.28 L380.50,442.28 L380.50,440.83 L381.00,440.83 L381.00,439.83 L381.50,439.83 L381.50,440.65 L382.00,440.65 L382.00,441.56 L382.50,441.56 L382.50,442.68 L383.00,442.68 L383.00,443.42 L383.50,443.42 L383.50,442.30 L384.00,442.30 L384.00,441.50 L384.50,441.50 L384.50,440.65 L385.00,440.65 L385.00,440.71 L385.50,440.71 L385.50,439.60 L386.00,439.60 L386.00,439.55 L386.50,439.55 L386.50,437.54 L387.00,437.54 L387.00,436.16 L387.50,436.16 L387.50,434.83 L388.00,434.83 L388.00,434.38 L388.50,434.38 L388.50,435.94 L389.00,435.94 L389.00,437.46 L389.50,437.46 L389.50,438.32 L390.00,438.32 L390.00,438.88 L390.50,438.88 L390.50,436.14 L391.00,436.14 L391.00,433.93 L391.50,433.93 L391.50,432.85 L392.00,432.85 L392.00,431.21 L392.50,431.21 L392.50,431.22 L393.00,431.22 L393.00,430.51 L393.50,430.51 L393.50,429.74 L394.00,429.74 L394.00,429.03 L394.50,429.03 L394.50,430.25 L395.00,430.25 L395.00,430.58 L395.50,430.58 L395.50,427.85 L396.00,427.85 L396.00,424.49 L396.50,424.49 L396.50,420.71 L397.00,420.71 L397.00,419.93 L397.50,419.93 L397.50,420.04 L398.00,420.04 L398.00,419.67 L398.50,419.67 L398.50,422.29 L399.00,422.29 L399.00,424.29 L399.50,424.29 L399.50,420.30 L400.00,420.30 L400.00,415.96 L400.50,415.96 L400.50,412.46 L401.00,412.46 L401.00,415.92 L401.50,415.92 L401.50,419.71 L402.00,419.71 L402.00,423.00 L402.50,423.00 L402.50,424.84 L403.00,424.84 L403.00,427.00 L403.50,427.00 L403.50,426.84 L404.00,426.84 L404.00,427.09 L404.50,427.09 L404.50,427.40 L405.00,427.40 L405.00,427.83 L405.50,427.83 L405.50,427.57 L406.00,427.57 L406.00,427.48 L406.50,427.48 L406.50,426.65 L407.00,426.65 L407.00,426.64 L407.50,426.64 L407.50,426.93 L408.00,426.93 L408.00,487.80 L408.50,487.80 L408.50,487.80 L409.00,487.80 L409.00,482.92 L409.50,482.92 L409.50,476.82 L409.60,476.82 L409.60,475.60 L410.00,475.60 L410.00,480.48 L410.50,480.48 L410.50,486.58 L411.00,486.58 L411.00,487.80 L411.50,487.80 L411.50,487.80 L412.00,487.80 L412.00,487.80 L412.50,487.80 L412.50,487.80 L413.00,487.80 L413.00,483.11 L413.50,483.11 L413.50,475.28 L414.00,475.28 L414.00,467.46 L414.40,467.46 L414.40,461.20 L414.50,461.20 L414.50,462.76 L415.00,462.76 L415.00,470.59 L415.50,470.59 L415.50,478.41 L416.00,478.41 L416.00,483.58 L416.50,483.58 L416.50,475.00 L417.00,475.00 L417.00,483.58 L417.50,483.58 L417.50,487.80 L418.00,487.80 L418.00,487.71 L418.50,487.71 L418.50,486.20 L419.00,486.20 L419.00,483.59 L419.20,483.59 L419.20,482.30 L419.50,482.30 L419.50,484.19 L420.00,484.19 L420.00,486.61 L420.50,486.61 L420.50,487.80 L421.00,487.80 L421.00,487.80 L421.50,487.80 L421.50,487.80 L422.00,487.80 L422.00,487.41 L422.50,487.41 L422.50,484.93 L423.00,484.93 L423.00,481.00 L423.50,481.00 L423.50,484.55 L424.00,484.55 L424.00,481.74 L424.50,481.74 L424.50,479.08 L425.00,479.08 L425.00,476.50 L425.50,476.50 L425.50,479.08 L426.00,479.08 L426.00,481.74 L426.50,481.74 L426.50,484.55 L427.00,484.55 L427.00,487.80 L427.50,487.80 L427.50,487.27 L428.00,487.27 L428.00,485.27 L428.50,485.27 L428.50,482.30 L429.00,482.30 L429.00,485.27 L429.50,485.27 L429.50,487.27 L430.00,487.27 L430.00,487.80 L430.50,487.80 L430.50,487.80 L431.00,487.80 L431.00,487.17 L431.50,487.17 L431.50,484.03 L432.00,484.03 L432.00,480.89 L432.50,480.89 L432.50,477.76 L432.70,477.76 L432.70,476.50 L433.00,476.50 L433.00,478.38 L433.50,478.38 L433.50,481.52 L434.00,481.52 L434.00,484.66 L434.50,484.66 L434.50,487.80 L435.00,487.80 L435.00,487.80 L435.50,487.80 L435.50,487.80 L436.00,487.80 L436.00,487.80 L436.50,487.80 L436.50,487.80 L437.00,487.80 L437.00,487.80 L437.50,487.80 L437.50,487.80 L438.00,487.80 L438.00,487.80 L438.50,487.80 L438.50,487.80 L439.00,487.80 L439.00,487.80 L439.50,487.80 L439.50,487.80 L440.00,487.80 L440.00,487.80 L440.50,487.80 L440.50,487.80 L441.00,487.80 L441.00,487.80 L441.50,487.80 L441.50,487.80 L442.00,487.80 L442.00,487.80 L442.50,487.80 L442.50,487.80 L443.00,487.80 L443.00,487.80 L443.50,487.80 L443.50,487.80 L444.00,487.80 L444.00,487.80 L444.50,487.80 L444.50,487.80 L445.00,487.80 L445.00,487.80 L445.50,487.80 L445.50,487.80 L446.00,487.80 L446.00,487.80 L446.50,487.80 L446.50,487.80 L447.00,487.80 L447.00,487.80 L447.50,487.80 L447.50,487.80 L448.00,487.80 L448.00,487.80 L448.50,487.80 L448.50,487.80 L449.00,487.80 L449.00,487.80 L449.50,487.80 L449.50,487.80 L450.00,487.80 L450.00,487.80 L450.50,487.80 L450.50,487.80 L451.00,487.80 L451.00,487.80 L451.50,487.80 L451.50,487.80 L452.00,487.80 L452.00,487.80 L452.50,487.80 L452.50,487.80 L453.00,487.80 L453.00,487.80 L453.50,487.80 L453.50,487.80 L454.00,487.80 L454.00,487.80 L454.50,487.80 L454.50,487.80 L455.00,487.80 L455.00,487.80 L455.50,487.80 L455.50,487.80 L456.00,487.80 L456.00,487.80 L456.50,487.80 L456.50,487.80 L457.00,487.80 L457.00,487.80 L457.50,487.80 L457.50,487.80 L458.00,487.80 L458.00,487.80 L458.50,487.80 L458.50,487.80 L459.00,487.80 L459.00,487.80 L459.50,487.80 L459.50,487.80 L460.00,487.80 L460.00,487.80 L460.50,487.80 L460.50,487.80 L461.00,487.80 L461.00,487.80 L461.50,487.80 L461.50,487.80 L462.00,487.80 L462.00,487.80 L462.50,487.80 L462.50,487.80 L463.00,487.80 L463.00,487.80 L463.50,487.80 L463.50,487.80 L464.00,487.80 L464.00,487.80 L464.50,487.80 L464.50,487.80 L465.00,487.80 L465.00,487.80 L465.50,487.80 L465.50,487.80 L466.00,487.80 L466.00,487.80 L466.50,487.80 L466.50,487.80 L467.00,487.80 L467.00,487.80 L467.50,487.80 L467.50,487.80 L468.00,487.80 L468.00,487.80 L468.50,487.80 L468.50,487.80 L469.00,487.80 L469.00,487.80 L469.50,487.80 L469.50,487.80 L470.00,487.80 L470.00,487.80 L470.50,487.80 L470.50,487.80 L471.00,487.80 L471.00,487.80 L471.50,487.80 L471.50,487.80 L472.00,487.80 L472.00,487.80 L472.50,487.80 L472.50,487.80 L473.00,487.80 L473.00,487.80 L473.50,487.80 L473.50,487.80 L474.00,487.80 L474.00,487.80 L474.50,487.80 L474.50,487.80 L475.00,487.80 L475.00,487.80 L475.50,487.80 L475.50,487.80 L476.00,487.80 L476.00,487.80 L476.50,487.80 L476.50,487.80 L477.00,487.80 L477.00,487.80 L477.50,487.80 L477.50,487.80 L478.00,487.80 L478.00,487.80 L478.50,487.80 L478.50,487.80 L479.00,487.80 L479.00,487.80 L479.50,487.80 L479.50,487.80 L480.00,487.80 L480.00,487.80 L480.50,487.80 L480.50,487.80 L481.00,487.80 L481.00,487.80 L481.50,487.80 L481.50,487.80 L482.00,487.80 L482.00,487.80 L482.50,487.80 L482.50,487.80 L483.00,487.80 L483.00,487.80 L483.50,487.80 L483.50,487.80 L484.00,487.80 L484.00,487.80 L484.50,487.80 L484.50,487.80 L485.00,487.80 L485.00,487.80 L485.50,487.80 L485.50,487.80 L486.00,487.80 L486.00,487.80 L486.50,487.80 L486.50,487.80 L487.00,487.80 L487.00,487.80 L487.50,487.80 L487.50,487.80 L488.00,487.80 L488.00,487.80 L488.50,487.80 L488.50,487.80 L489.00,487.80 L489.00,487.80 L489.50,487.80 L489.50,487.80 L490.00,487.80 L490.00,487.80 L490.50,487.80 L490.50,487.80 L491.00,487.80 L491.00,464.71 L491.40,464.71 L491.40,447.80 L491.50,447.80 L491.50,448.25 L492.00,448.25 L492.00,456.80 L492.50,456.80 L492.50,456.20 L493.00,456.20 L493.00,455.67 L493.50,455.67 L493.50,455.58 L494.00,455.58 L494.00,456.40 L494.50,456.40 L494.50,457.11 L495.00,457.11 L495.00,456.84 L495.50,456.84 L495.50,454.77 L496.00,454.77 L496.00,452.91 L496.50,452.91 L496.50,452.31 L497.00,452.31 L497.00,452.49 L497.50,452.49 L497.50,451.87 L498.00,451.87 L498.00,451.75 L498.50,451.75 L498.50,451.09 L499.00,451.09 L499.00,450.09 L499.50,450.09 L499.50,448.98 L500.00,448.98 L500.00,449.19 L500.50,449.19 L500.50,449.16 L501.00,449.16 L501.00,449.64 L501.50,449.64 L501.50,449.73 L502.00,449.73 L502.00,449.93 L502.50,449.93 L502.50,449.70 L503.00,449.70 L503.00,450.24 L503.50,450.24 L503.50,450.86 L504.00,450.86 L504.00,450.93 L504.50,450.93 L504.50,450.69 L505.00,450.69 L505.00,450.66 L505.50,450.66 L505.50,450.87 L506.00,450.87 L506.00,450.72 L506.50,450.72 L506.50,451.06 L507.00,451.06 L507.00,451.44 L507.50,451.44 L507.50,451.84 L508.00,451.84 L508.00,451.52 L508.50,451.52 L508.50,450.88 L509.00,450.88 L509.00,450.03 L509.50,450.03 L509.50,449.84 L510.00,449.84 L510.00,450.19 L510.50,450.19 L510.50,451.21 L511.00,451.21 L511.00,451.65 L511.50,451.65 L511.50,452.20 L512.00,452.20 L512.00,452.29 L512.50,452.29 L512.50,452.44 L513.00,452.44 L513.00,487.80 L513.00,487.80 L513.00,487.80 Z" fill="#afb0b4"/>
<path d="M42.00,616.80 L42.00,571.93 L42.50,571.93 L42.50,572.30 L43.00,572.30 L43.00,572.39 L43.50,572.39 L43.50,572.23 L44.00,572.23 L44.00,571.68 L44.50,571.68 L44.50,571.64 L45.00,571.64 L45.00,571.15 L45.50,571.15 L45.50,571.25 L46.00,571.25 L46.00,571.06 L46.50,571.06 L46.50,571.49 L47.00,571.49 L47.00,571.27 L47.50,571.27 L47.50,570.78 L48.00,570.78 L48.00,570.12 L48.50,570.12 L48.50,569.66 L49.00,569.66 L49.00,569.80 L49.50,569.80 L49.50,569.43 L50.00,569.43 L50.00,570.06 L50.50,570.06 L50.50,569.14 L51.00,569.14 L51.00,568.61 L51.50,568.61 L51.50,567.47 L52.00,567.47 L52.00,567.71 L52.50,567.71 L52.50,567.73 L53.00,567.73 L53.00,567.59 L53.50,567.59 L53.50,566.49 L54.00,566.49 L54.00,567.25 L54.50,567.25 L54.50,567.31 L55.00,567.31 L55.00,568.46 L55.50,568.46 L55.50,569.10 L56.00,569.10 L56.00,570.02 L56.50,570.02 L56.50,570.15 L57.00,570.15 L57.00,568.96 L57.50,568.96 L57.50,567.99 L58.00,567.99 L58.00,566.47 L58.50,566.47 L58.50,566.47 L59.00,566.47 L59.00,568.34 L59.50,568.34 L59.50,569.61 L60.00,569.61 L60.00,570.26 L60.50,570.26 L60.50,570.17 L61.00,570.17 L61.00,570.04 L61.50,570.04 L61.50,570.88 L62.00,570.88 L62.00,571.42 L62.50,571.42 L62.50,571.97 L63.00,571.97 L63.00,572.33 L63.50,572.33 L63.50,572.31 L64.00,572.31 L64.00,571.35 L64.50,571.35 L64.50,571.56 L65.00,571.56 L65.00,604.32 L65.50,604.32 L65.50,607.95 L66.00,607.95 L66.00,606.68 L66.50,606.68 L66.50,601.49 L67.00,601.49 L67.00,604.27 L67.50,604.27 L67.50,599.53 L68.00,599.53 L68.00,609.16 L68.50,609.16 L68.50,602.32 L69.00,602.32 L69.00,600.02 L69.50,600.02 L69.50,606.87 L70.00,606.87 L70.00,607.30 L70.50,607.30 L70.50,606.34 L71.00,606.34 L71.00,608.94 L71.50,608.94 L71.50,605.72 L72.00,605.72 L72.00,604.18 L72.50,604.18 L72.50,606.81 L73.00,606.81 L73.00,607.76 L73.50,607.76 L73.50,599.67 L74.00,599.67 L74.00,609.22 L74.50,609.22 L74.50,597.17 L75.00,597.17 L75.00,601.36 L75.50,601.36 L75.50,599.59 L76.00,599.59 L76.00,606.00 L76.50,606.00 L76.50,604.81 L77.00,604.81 L77.00,608.01 L77.50,608.01 L77.50,609.82 L78.00,609.82 L78.00,611.85 L78.50,611.85 L78.50,608.27 L79.00,608.27 L79.00,608.15 L79.50,608.15 L79.50,601.25 L80.00,601.25 L80.00,605.54 L80.50,605.54 L80.50,606.74 L81.00,606.74 L81.00,608.15 L81.50,608.15 L81.50,606.55 L82.00,606.55 L82.00,608.68 L82.50,608.68 L82.50,606.57 L83.00,606.57 L83.00,604.52 L83.50,604.52 L83.50,602.91 L84.00,602.91 L84.00,604.36 L84.50,604.36 L84.50,607.98 L85.00,607.98 L85.00,605.54 L85.50,605.54 L85.50,609.25 L86.00,609.25 L86.00,609.83 L86.50,609.83 L86.50,610.53 L87.00,610.53 L87.00,611.61 L87.50,611.61 L87.50,609.32 L88.00,609.32 L88.00,605.77 L88.50,605.77 L88.50,608.08 L89.00,608.08 L89.00,608.76 L89.50,608.76 L89.50,608.60 L90.00,608.60 L90.00,609.17 L90.50,609.17 L90.50,610.88 L91.00,610.88 L91.00,610.54 L91.50,610.54 L91.50,612.61 L92.00,612.61 L92.00,610.56 L92.50,610.56 L92.50,609.21 L93.00,609.21 L93.00,607.07 L93.50,607.07 L93.50,611.35 L94.00,611.35 L94.00,610.50 L94.50,610.50 L94.50,612.48 L95.00,612.48 L95.00,610.87 L95.50,610.87 L95.50,612.09 L96.00,612.09 L96.00,610.36 L96.50,610.36 L96.50,608.30 L97.00,608.30 L97.00,607.06 L97.50,607.06 L97.50,606.97 L98.00,606.97 L98.00,606.02 L98.50,606.02 L98.50,608.20 L99.00,608.20 L99.00,609.67 L99.50,609.67 L99.50,610.11 L100.00,610.11 L100.00,609.00 L100.50,609.00 L100.50,610.15 L101.00,610.15 L101.00,611.30 L101.50,611.30 L101.50,612.37 L102.00,612.37 L102.00,611.24 L102.50,611.24 L102.50,612.05 L103.00,612.05 L103.00,612.13 L103.50,612.13 L103.50,610.18 L104.00,610.18 L104.00,609.09 L104.50,609.09 L104.50,608.37 L105.00,608.37 L105.00,606.62 L105.50,606.62 L105.50,609.36 L106.00,609.36 L106.00,611.07 L106.50,611.07 L106.50,612.99 L107.00,612.99 L107.00,613.24 L107.50,613.24 L107.50,612.31 L108.00,612.31 L108.00,613.35 L108.50,613.35 L108.50,611.94 L109.00,611.94 L109.00,612.47 L109.50,612.47 L109.50,611.15 L110.00,611.15 L110.00,609.45 L110.50,609.45 L110.50,608.56 L111.00,608.56 L111.00,613.11 L111.50,613.11 L111.50,607.27 L112.00,607.27 L112.00,611.08 L112.50,611.08 L112.50,610.99 L113.00,610.99 L113.00,607.42 L113.50,607.42 L113.50,608.00 L114.00,608.00 L114.00,611.81 L114.50,611.81 L114.50,609.91 L115.00,609.91 L115.00,612.95 L115.50,612.95 L115.50,613.63 L116.00,613.63 L116.00,612.75 L116.50,612.75 L116.50,613.64 L117.00,613.64 L117.00,612.95 L117.50,612.95 L117.50,613.42 L118.00,613.42 L118.00,613.62 L118.50,613.62 L118.50,613.12 L119.00,613.12 L119.00,614.00 L119.50,614.00 L119.50,612.83 L120.00,612.83 L120.00,610.93 L120.50,610.93 L120.50,613.91 L121.00,613.91 L121.00,611.55 L121.50,611.55 L121.50,610.04 L122.00,610.04 L122.00,610.41 L122.50,610.41 L122.50,611.22 L123.00,611.22 L123.00,613.91 L123.50,613.91 L123.50,613.96 L124.00,613.96 L124.00,611.38 L124.50,611.38 L124.50,611.95 L125.00,611.95 L125.00,611.91 L125.50,611.91 L125.50,611.41 L126.00,611.41 L126.00,611.13 L126.50,611.13 L126.50,612.93 L127.00,612.93 L127.00,611.45 L127.50,611.45 L127.50,613.21 L128.00,613.21 L128.00,612.18 L128.50,612.18 L128.50,614.13 L129.00,614.13 L129.00,614.37 L129.50,614.37 L129.50,613.26 L130.00,613.26 L130.00,613.30 L130.50,613.30 L130.50,613.65 L131.00,613.65 L131.00,614.34 L131.50,614.34 L131.50,611.93 L132.00,611.93 L132.00,611.25 L132.50,611.25 L132.50,610.95 L133.00,610.95 L133.00,611.19 L133.50,611.19 L133.50,614.63 L134.00,614.63 L134.00,611.93 L134.50,611.93 L134.50,613.17 L135.00,613.17 L135.00,612.98 L135.50,612.98 L135.50,611.98 L136.00,611.98 L136.00,610.86 L136.50,610.86 L136.50,611.60 L137.00,611.60 L137.00,610.79 L137.50,610.79 L137.50,612.83 L138.00,612.83 L138.00,614.11 L138.50,614.11 L138.50,611.86 L139.00,611.86 L139.00,611.97 L139.50,611.97 L139.50,613.09 L140.00,613.09 L140.00,613.98 L140.50,613.98 L140.50,613.20 L141.00,613.20 L141.00,614.17 L141.50,614.17 L141.50,614.19 L142.00,614.19 L142.00,614.33 L142.50,614.33 L142.50,614.67 L143.00,614.67 L143.00,613.91 L143.50,613.91 L143.50,614.67 L144.00,614.67 L144.00,613.33 L144.50,613.33 L144.50,613.61 L145.00,613.61 L145.00,614.50 L145.50,614.50 L145.50,615.21 L146.00,615.21 L146.00,614.56 L146.50,614.56 L146.50,613.69 L147.00,613.69 L147.00,612.57 L147.50,612.57 L147.50,611.85 L148.00,611.85 L148.00,614.13 L148.50,614.13 L148.50,590.47 L149.00,590.47 L149.00,590.73 L149.50,590.73 L149.50,590.59 L150.00,590.59 L150.00,590.21 L150.50,590.21 L150.50,589.83 L151.00,589.83 L151.00,590.03 L151.50,590.03 L151.50,590.27 L152.00,590.27 L152.00,591.22 L152.50,591.22 L152.50,591.48 L153.00,591.48 L153.00,590.78 L153.50,590.78 L153.50,590.60 L154.00,590.60 L154.00,589.77 L154.50,589.77 L154.50,590.29 L155.00,590.29 L155.00,591.23 L155.50,591.23 L155.50,592.00 L156.00,592.00 L156.00,615.20 L156.50,615.20 L156.50,616.47 L157.00,616.47 L157.00,616.48 L157.50,616.48 L157.50,615.29 L158.00,615.29 L158.00,614.87 L158.50,614.87 L158.50,615.63 L159.00,615.63 L159.00,615.13 L159.50,615.13 L159.50,616.18 L160.00,616.18 L160.00,616.25 L160.50,616.25 L160.50,615.78 L161.00,615.78 L161.00,615.18 L161.50,615.18 L161.50,616.25 L162.00,616.25 L162.00,615.70 L162.50,615.70 L162.50,615.15 L163.00,615.15 L163.00,614.60 L163.50,614.60 L163.50,614.05 L164.00,614.05 L164.00,613.50 L164.50,613.50 L164.50,614.05 L165.00,614.05 L165.00,614.60 L165.50,614.60 L165.50,615.15 L166.00,615.15 L166.00,615.70 L166.50,615.70 L166.50,615.88 L167.00,615.88 L167.00,616.41 L167.50,616.41 L167.50,615.14 L168.00,615.14 L168.00,615.71 L168.50,615.71 L168.50,615.85 L169.00,615.85 L169.00,614.90 L169.50,614.90 L169.50,613.95 L170.00,613.95 L170.00,613.00 L170.50,613.00 L170.50,613.95 L171.00,613.95 L171.00,614.90 L171.50,614.90 L171.50,615.85 L172.00,615.85 L172.00,616.15 L172.50,616.15 L172.50,615.81 L173.00,615.81 L173.00,616.27 L173.50,616.27 L173.50,616.45 L174.00,616.45 L174.00,614.87 L174.50,614.87 L174.50,614.93 L175.00,614.93 L175.00,616.44 L175.50,616.44 L175.50,615.10 L176.00,615.10 L176.00,613.40 L176.50,613.40 L176.50,611.70 L177.00,611.70 L177.00,610.00 L177.50,610.00 L177.50,611.70 L178.00,611.70 L178.00,612.67 L178.50,612.67 L178.50,611.93 L179.00,611.93 L179.00,611.21 L179.50,611.21 L179.50,610.49 L180.00,610.49 L180.00,609.79 L180.50,609.79 L180.50,609.09 L181.00,609.09 L181.00,608.40 L181.50,608.40 L181.50,609.09 L182.00,609.09 L182.00,609.79 L182.50,609.79 L182.50,610.49 L183.00,610.49 L183.00,611.21 L183.50,611.21 L183.50,611.93 L184.00,611.93 L184.00,611.33 L184.50,611.33 L184.50,609.50 L185.00,609.50 L185.00,611.33 L185.50,611.33 L185.50,613.15 L186.00,613.15 L186.00,614.85 L186.50,614.85 L186.50,615.04 L187.00,615.04 L187.00,615.19 L187.50,615.19 L187.50,615.88 L188.00,615.88 L188.00,615.60 L188.50,615.60 L188.50,615.94 L189.00,615.94 L189.00,614.40 L189.50,614.40 L189.50,612.33 L190.00,612.33 L190.00,610.36 L190.50,610.36 L190.50,608.46 L191.00,608.46 L191.00,606.60 L191.50,606.60 L191.50,608.46 L192.00,608.46 L192.00,610.36 L192.50,610.36 L192.50,612.33 L193.00,612.33 L193.00,614.40 L193.50,614.40 L193.50,615.86 L194.00,615.86 L194.00,615.30 L194.50,615.30 L194.50,614.01 L195.00,614.01 L195.00,612.78 L195.50,612.78 L195.50,611.59 L196.00,611.59 L196.00,610.44 L196.50,610.44 L196.50,609.30 L197.00,609.30 L197.00,610.44 L197.50,610.44 L197.50,611.59 L198.00,611.59 L198.00,612.78 L198.50,612.78 L198.50,612.89 L199.00,612.89 L199.00,611.17 L199.50,611.17 L199.50,609.50 L200.00,609.50 L200.00,611.17 L200.50,611.17 L200.50,612.89 L201.00,612.89 L201.00,614.70 L201.50,614.70 L201.50,615.64 L202.00,615.64 L202.00,615.51 L202.50,615.51 L202.50,615.88 L203.00,615.88 L203.00,613.96 L203.50,613.96 L203.50,612.18 L204.00,612.18 L204.00,610.48 L204.50,610.48 L204.50,608.83 L205.00,608.83 L205.00,607.22 L205.50,607.22 L205.50,605.64 L205.80,605.64 L205.80,604.70 L206.00,604.70 L206.00,605.32 L206.50,605.32 L206.50,606.90 L207.00,606.90 L207.00,608.51 L207.50,608.51 L207.50,610.15 L208.00,610.15 L208.00,611.55 L208.50,611.55 L208.50,609.24 L209.00,609.24 L209.00,607.00 L209.50,607.00 L209.50,609.24 L210.00,609.24 L210.00,611.55 L210.50,611.55 L210.50,613.99 L211.00,613.99 L211.00,612.62 L211.50,612.62 L211.50,610.78 L212.00,610.78 L212.00,609.00 L212.50,609.00 L212.50,610.78 L213.00,610.78 L213.00,612.62 L213.50,612.62 L213.50,614.56 L214.00,614.56 L214.00,606.59 L214.50,606.59 L214.50,607.53 L215.00,607.53 L215.00,607.13 L215.50,607.13 L215.50,606.63 L216.00,606.63 L216.00,604.00 L216.50,604.00 L216.50,602.64 L217.00,602.64 L217.00,598.40 L217.50,598.40 L217.50,594.54 L217.60,594.54 L217.60,593.80 L218.00,593.80 L218.00,596.81 L218.50,596.81 L218.50,600.89 L219.00,600.89 L219.00,605.47 L219.50,605.47 L219.50,601.51 L220.00,601.51 L220.00,597.60 L220.40,597.60 L220.40,594.70 L220.50,594.70 L220.50,595.41 L221.00,595.41 L221.00,599.12 L221.50,599.12 L221.50,603.20 L222.00,603.20 L222.00,604.15 L222.50,604.15 L222.50,600.00 L223.00,600.00 L223.00,601.39 L223.50,601.39 L223.50,594.85 L224.00,594.85 L224.00,588.78 L224.50,588.78 L224.50,583.02 L224.60,583.02 L224.60,581.90 L225.00,581.90 L225.00,586.44 L225.50,586.44 L225.50,592.38 L226.00,592.38 L226.00,598.00 L226.50,598.00 L226.50,600.72 L227.00,600.72 L227.00,598.52 L227.50,598.52 L227.50,594.44 L227.70,594.44 L227.70,592.90 L228.00,592.90 L228.00,595.23 L228.50,595.23 L228.50,599.38 L229.00,599.38 L229.00,604.02 L229.50,604.02 L229.50,603.88 L230.00,603.88 L230.00,600.00 L230.50,600.00 L230.50,603.88 L231.00,603.88 L231.00,605.66 L231.50,605.66 L231.50,608.63 L232.00,608.63 L232.00,604.31 L232.50,604.31 L232.50,601.27 L233.00,601.27 L233.00,597.81 L233.20,597.81 L233.20,596.50 L233.50,596.50 L233.50,598.48 L234.00,598.48 L234.00,602.01 L234.50,602.01 L234.50,605.94 L235.00,605.94 L235.00,605.30 L235.50,605.30 L235.50,603.58 L236.00,603.58 L236.00,600.20 L236.50,600.20 L236.50,603.58 L237.00,603.58 L237.00,605.88 L237.50,605.88 L237.50,608.78 L238.00,608.78 L238.00,604.69 L238.50,604.69 L238.50,604.08 L239.00,604.08 L239.00,608.19 L239.50,608.19 L239.50,550.27 L240.00,550.27 L240.00,549.40 L240.50,549.40 L240.50,548.64 L241.00,548.64 L241.00,549.06 L241.50,549.06 L241.50,549.43 L242.00,549.43 L242.00,550.15 L242.50,550.15 L242.50,549.47 L243.00,549.47 L243.00,548.99 L243.50,548.99 L243.50,548.64 L244.00,548.64 L244.00,548.75 L244.50,548.75 L244.50,549.46 L245.00,549.46 L245.00,549.79 L245.50,549.79 L245.50,549.14 L246.00,549.14 L246.00,548.72 L246.50,548.72 L246.50,547.91 L247.00,547.91 L247.00,547.64 L247.50,547.64 L247.50,548.09 L248.00,548.09 L248.00,548.61 L248.50,548.61 L248.50,549.67 L249.00,549.67 L249.00,549.51 L249.50,549.51 L249.50,549.55 L250.00,549.55 L250.00,549.29 L250.50,549.29 L250.50,550.16 L251.00,550.16 L251.00,550.66 L251.50,550.66 L251.50,551.87 L252.00,551.87 L252.00,551.31 L252.50,551.31 L252.50,551.32 L253.00,551.32 L253.00,550.93 L253.50,550.93 L253.50,551.05 L254.00,551.05 L254.00,551.72 L254.50,551.72 L254.50,552.01 L255.00,552.01 L255.00,552.54 L255.50,552.54 L255.50,551.75 L256.00,551.75 L256.00,551.32 L256.50,551.32 L256.50,551.09 L257.00,551.09 L257.00,552.49 L257.50,552.49 L257.50,553.42 L258.00,553.42 L258.00,554.20 L258.50,554.20 L258.50,553.02 L259.00,553.02 L259.00,552.14 L259.50,552.14 L259.50,551.60 L260.00,551.60 L260.00,551.80 L260.50,551.80 L260.50,552.17 L261.00,552.17 L261.00,553.15 L261.50,553.15 L261.50,552.57 L262.00,552.57 L262.00,551.25 L262.50,551.25 L262.50,550.84 L263.00,550.84 L263.00,550.15 L263.50,550.15 L263.50,550.95 L264.00,550.95 L264.00,551.94 L264.50,551.94 L264.50,553.18 L265.00,553.18 L265.00,552.67 L265.50,552.67 L265.50,552.94 L266.00,552.94 L266.00,552.45 L266.50,552.45 L266.50,553.43 L267.00,553.43 L267.00,554.59 L267.50,554.59 L267.50,555.77 L268.00,555.77 L268.00,556.07 L268.50,556.07 L268.50,555.68 L269.00,555.68 L269.00,555.81 L269.50,555.81 L269.50,556.02 L270.00,556.02 L270.00,556.76 L270.50,556.76 L270.50,558.05 L271.00,558.05 L271.00,558.35 L271.50,558.35 L271.50,558.12 L272.00,558.12 L272.00,558.48 L272.50,558.48 L272.50,558.05 L273.00,558.05 L273.00,558.57 L273.50,558.57 L273.50,559.16 L274.00,559.16 L274.00,559.58 L274.50,559.58 L274.50,559.11 L275.00,559.11 L275.00,558.60 L275.50,558.60 L275.50,558.57 L276.00,558.57 L276.00,559.65 L276.50,559.65 L276.50,560.54 L277.00,560.54 L277.00,561.79 L277.50,561.79 L277.50,562.25 L278.00,562.25 L278.00,562.42 L278.50,562.42 L278.50,562.44 L279.00,562.44 L279.00,563.05 L279.50,563.05 L279.50,564.05 L280.00,564.05 L280.00,565.16 L280.50,565.16 L280.50,566.29 L281.00,566.29 L281.00,566.26 L281.50,566.26 L281.50,566.54 L282.00,566.54 L282.00,566.36 L282.50,566.36 L282.50,567.29 L283.00,567.29 L283.00,568.33 L283.50,568.33 L283.50,569.60 L284.00,569.60 L284.00,569.98 L284.50,569.98 L284.50,570.32 L285.00,570.32 L285.00,570.28 L285.50,570.28 L285.50,571.27 L286.00,571.27 L286.00,572.65 L286.50,572.65 L286.50,573.97 L287.00,573.97 L287.00,574.36 L287.50,574.36 L287.50,574.92 L288.00,574.92 L288.00,574.74 L288.50,574.74 L288.50,575.32 L289.00,575.32 L289.00,576.87 L289.50,576.87 L289.50,578.26 L290.00,578.26 L290.00,579.64 L290.50,579.64 L290.50,579.62 L291.00,579.62 L291.00,579.80 L291.50,579.80 L291.50,611.25 L292.00,611.25 L292.00,612.71 L292.50,612.71 L292.50,604.40 L293.00,604.40 L293.00,612.71 L293.50,612.71 L293.50,612.83 L294.00,612.83 L294.00,614.04 L294.50,614.04 L294.50,606.00 L295.00,606.00 L295.00,614.49 L295.50,614.49 L295.50,614.82 L296.00,614.82 L296.00,615.35 L296.50,615.35 L296.50,613.37 L297.00,613.37 L297.00,613.79 L297.50,613.79 L297.50,613.75 L298.00,613.75 L298.00,612.96 L298.50,612.96 L298.50,613.36 L299.00,613.36 L299.00,613.31 L299.50,613.31 L299.50,615.57 L300.00,615.57 L300.00,611.69 L300.50,611.69 L300.50,613.31 L301.00,613.31 L301.00,610.85 L301.50,610.85 L301.50,608.70 L302.00,608.70 L302.00,609.63 L302.50,609.63 L302.50,609.81 L303.00,609.81 L303.00,614.66 L303.50,614.66 L303.50,610.95 L304.00,610.95 L304.00,610.10 L304.50,610.10 L304.50,612.18 L305.00,612.18 L305.00,611.83 L305.50,611.83 L305.50,613.76 L306.00,613.76 L306.00,611.57 L306.50,611.57 L306.50,613.70 L307.00,613.70 L307.00,611.91 L307.50,611.91 L307.50,610.40 L308.00,610.40 L308.00,611.45 L308.50,611.45 L308.50,610.64 L309.00,610.64 L309.00,613.81 L309.50,613.81 L309.50,611.81 L310.00,611.81 L310.00,612.19 L310.50,612.19 L310.50,612.79 L311.00,612.79 L311.00,615.18 L311.50,615.18 L311.50,614.71 L312.00,614.71 L312.00,615.39 L312.50,615.39 L312.50,615.94 L313.00,615.94 L313.00,616.49 L313.50,616.49 L313.50,616.60 L314.00,616.60 L314.00,616.60 L314.50,616.60 L314.50,616.60 L315.00,616.60 L315.00,616.60 L315.50,616.60 L315.50,616.60 L316.00,616.60 L316.00,616.60 L316.50,616.60 L316.50,616.60 L317.00,616.60 L317.00,616.60 L317.50,616.60 L317.50,616.60 L318.00,616.60 L318.00,616.60 L318.50,616.60 L318.50,616.60 L319.00,616.60 L319.00,616.60 L319.50,616.60 L319.50,616.28 L320.00,616.28 L320.00,615.67 L320.50,615.67 L320.50,614.94 L321.00,614.94 L321.00,614.15 L321.50,614.15 L321.50,611.11 L322.00,611.11 L322.00,609.97 L322.50,609.97 L322.50,612.89 L323.00,612.89 L323.00,609.83 L323.50,609.83 L323.50,609.65 L324.00,609.65 L324.00,611.40 L324.50,611.40 L324.50,613.81 L325.00,613.81 L325.00,614.01 L325.50,614.01 L325.50,615.98 L326.00,615.98 L326.00,616.46 L326.50,616.46 L326.50,616.60 L327.00,616.60 L327.00,616.60 L327.50,616.60 L327.50,616.60 L328.00,616.60 L328.00,616.60 L328.50,616.60 L328.50,616.60 L329.00,616.60 L329.00,616.60 L329.50,616.60 L329.50,616.60 L330.00,616.60 L330.00,616.60 L330.50,616.60 L330.50,616.60 L331.00,616.60 L331.00,616.60 L331.50,616.60 L331.50,616.60 L332.00,616.60 L332.00,616.60 L332.50,616.60 L332.50,616.60 L333.00,616.60 L333.00,616.60 L333.50,616.60 L333.50,616.60 L334.00,616.60 L334.00,616.60 L334.50,616.60 L334.50,615.80 L335.00,615.80 L335.00,614.12 L335.50,614.12 L335.50,613.77 L336.00,613.77 L336.00,616.12 L336.50,616.12 L336.50,611.36 L337.00,611.36 L337.00,608.19 L337.50,608.19 L337.50,613.05 L338.00,613.05 L338.00,613.63 L338.50,613.63 L338.50,614.08 L339.00,614.08 L339.00,613.82 L339.50,613.82 L339.50,615.79 L340.00,615.79 L340.00,616.60 L340.50,616.60 L340.50,616.60 L341.00,616.60 L341.00,616.60 L341.50,616.60 L341.50,616.60 L342.00,616.60 L342.00,616.60 L342.50,616.60 L342.50,616.60 L343.00,616.60 L343.00,616.60 L343.50,616.60 L343.50,616.60 L344.00,616.60 L344.00,616.60 L344.50,616.60 L344.50,616.60 L345.00,616.60 L345.00,616.60 L345.50,616.60 L345.50,616.60 L346.00,616.60 L346.00,616.60 L346.50,616.60 L346.50,616.51 L347.00,616.51 L347.00,616.24 L347.50,616.24 L347.50,615.83 L348.00,615.83 L348.00,616.47 L348.50,616.47 L348.50,616.60 L349.00,616.60 L349.00,616.60 L349.50,616.60 L349.50,616.60 L350.00,616.60 L350.00,616.60 L350.50,616.60 L350.50,616.60 L351.00,616.60 L351.00,616.60 L351.50,616.60 L351.50,616.60 L352.00,616.60 L352.00,616.60 L352.50,616.60 L352.50,615.44 L353.00,615.44 L353.00,614.04 L353.50,614.04 L353.50,612.75 L354.00,612.75 L354.00,612.05 L354.50,612.05 L354.50,611.92 L355.00,611.92 L355.00,611.13 L355.50,611.13 L355.50,612.23 L356.00,612.23 L356.00,610.63 L356.50,610.63 L356.50,613.71 L357.00,613.71 L357.00,615.71 L357.50,615.71 L357.50,611.69 L358.00,611.69 L358.00,612.82 L358.50,612.82 L358.50,611.90 L359.00,611.90 L359.00,613.80 L359.50,613.80 L359.50,613.75 L360.00,613.75 L360.00,615.52 L360.50,615.52 L360.50,614.90 L361.00,614.90 L361.00,615.81 L361.50,615.81 L361.50,616.44 L362.00,616.44 L362.00,615.88 L362.50,615.88 L362.50,613.83 L363.00,613.83 L363.00,612.84 L363.50,612.84 L363.50,615.73 L364.00,615.73 L364.00,611.93 L364.50,611.93 L364.50,612.53 L365.00,612.53 L365.00,613.04 L365.50,613.04 L365.50,615.99 L366.00,615.99 L366.00,613.81 L366.50,613.81 L366.50,615.55 L367.00,615.55 L367.00,616.60 L367.50,616.60 L367.50,616.60 L368.00,616.60 L368.00,616.60 L368.50,616.60 L368.50,616.60 L369.00,616.60 L369.00,616.60 L369.50,616.60 L369.50,616.60 L370.00,616.60 L370.00,615.62 L370.50,615.62 L370.50,615.69 L371.00,615.69 L371.00,614.72 L371.50,614.72 L371.50,613.27 L372.00,613.27 L372.00,609.50 L372.50,609.50 L372.50,611.71 L373.00,611.71 L373.00,612.84 L373.50,612.84 L373.50,610.97 L374.00,610.97 L374.00,616.21 L374.50,616.21 L374.50,612.25 L375.00,612.25 L375.00,615.77 L375.50,615.77 L375.50,581.51 L376.00,581.51 L376.00,581.93 L376.50,581.93 L376.50,582.03 L377.00,582.03 L377.00,580.88 L377.50,580.88 L377.50,579.26 L378.00,579.26 L378.00,578.09 L378.50,578.09 L378.50,577.99 L379.00,577.99 L379.00,577.55 L379.50,577.55 L379.50,577.95 L380.00,577.95 L380.00,577.24 L380.50,577.24 L380.50,576.33 L381.00,576.33 L381.00,575.11 L381.50,575.11 L381.50,575.15 L382.00,575.15 L382.00,575.55 L382.50,575.55 L382.50,576.23 L383.00,576.23 L383.00,576.20 L383.50,576.20 L383.50,575.44 L384.00,575.44 L384.00,575.14 L384.50,575.14 L384.50,574.44 L385.00,574.44 L385.00,574.75 L385.50,574.75 L385.50,574.68 L386.00,574.68 L386.00,574.75 L386.50,574.75 L386.50,574.07 L387.00,574.07 L387.00,573.68 L387.50,573.68 L387.50,572.75 L388.00,572.75 L388.00,572.65 L388.50,572.65 L388.50,573.05 L389.00,573.05 L389.00,573.28 L389.50,573.28 L389.50,572.83 L390.00,572.83 L390.00,572.09 L390.50,572.09 L390.50,571.02 L391.00,571.02 L391.00,570.24 L391.50,570.24 L391.50,570.11 L392.00,570.11 L392.00,570.30 L392.50,570.30 L392.50,570.43 L393.00,570.43 L393.00,570.81 L393.50,570.81 L393.50,570.81 L394.00,570.81 L394.00,571.11 L394.50,571.11 L394.50,571.36 L395.00,571.36 L395.00,571.75 L395.50,571.75 L395.50,572.32 L396.00,572.32 L396.00,571.08 L396.50,571.08 L396.50,570.13 L397.00,570.13 L397.00,569.03 L397.50,569.03 L397.50,568.17 L398.00,568.17 L398.00,568.62 L398.50,568.62 L398.50,568.32 L399.00,568.32 L399.00,569.34 L399.50,569.34 L399.50,569.75 L400.00,569.75 L400.00,569.98 L400.50,569.98 L400.50,570.28 L401.00,570.28 L401.00,571.31 L401.50,571.31 L401.50,572.55 L402.00,572.55 L402.00,573.63 L402.50,573.63 L402.50,581.60 L403.00,581.60 L403.00,585.02 L403.50,585.02 L403.50,584.38 L404.00,584.38 L404.00,585.19 L404.50,585.19 L404.50,585.83 L405.00,585.83 L405.00,586.72 L405.50,586.72 L405.50,586.52 L406.00,586.52 L406.00,585.88 L406.50,585.88 L406.50,585.19 L407.00,585.19 L407.00,585.31 L407.50,585.31 L407.50,585.70 L408.00,585.70 L408.00,613.04 L408.50,613.04 L408.50,611.70 L409.00,611.70 L409.00,609.11 L409.50,609.11 L409.50,608.63 L410.00,608.63 L410.00,608.36 L410.50,608.36 L410.50,612.95 L411.00,612.95 L411.00,611.72 L411.50,611.72 L411.50,612.49 L412.00,612.49 L412.00,611.04 L412.50,611.04 L412.50,610.03 L413.00,610.03 L413.00,609.69 L413.50,609.69 L413.50,608.70 L414.00,608.70 L414.00,613.99 L414.50,613.99 L414.50,612.34 L415.00,612.34 L415.00,608.43 L415.50,608.43 L415.50,610.74 L416.00,610.74 L416.00,612.53 L416.50,612.53 L416.50,608.54 L417.00,608.54 L417.00,608.83 L417.50,608.83 L417.50,609.45 L418.00,609.45 L418.00,606.26 L418.50,606.26 L418.50,610.52 L419.00,610.52 L419.00,609.18 L419.50,609.18 L419.50,611.43 L420.00,611.43 L420.00,606.44 L420.50,606.44 L420.50,612.17 L421.00,612.17 L421.00,609.17 L421.50,609.17 L421.50,608.40 L422.00,608.40 L422.00,607.20 L422.50,607.20 L422.50,609.75 L423.00,609.75 L423.00,611.16 L423.50,611.16 L423.50,611.90 L424.00,611.90 L424.00,610.36 L424.50,610.36 L424.50,612.75 L425.00,612.75 L425.00,603.52 L425.50,603.52 L425.50,611.87 L426.00,611.87 L426.00,603.15 L426.50,603.15 L426.50,609.24 L427.00,609.24 L427.00,612.87 L427.50,612.87 L427.50,605.26 L428.00,605.26 L428.00,605.48 L428.50,605.48 L428.50,612.98 L429.00,612.98 L429.00,607.51 L429.50,607.51 L429.50,612.75 L430.00,612.75 L430.00,609.94 L430.50,609.94 L430.50,610.36 L431.00,610.36 L431.00,612.21 L431.50,612.21 L431.50,611.04 L432.00,611.04 L432.00,604.01 L432.50,604.01 L432.50,607.36 L433.00,607.36 L433.00,608.27 L433.50,608.27 L433.50,611.87 L434.00,611.87 L434.00,607.79 L434.50,607.79 L434.50,610.65 L435.00,610.65 L435.00,611.17 L435.50,611.17 L435.50,612.61 L436.00,612.61 L436.00,611.46 L436.50,611.46 L436.50,611.33 L437.00,611.33 L437.00,610.48 L437.50,610.48 L437.50,611.69 L438.00,611.69 L438.00,612.81 L438.50,612.81 L438.50,608.26 L439.00,608.26 L439.00,612.14 L439.50,612.14 L439.50,609.60 L440.00,609.60 L440.00,610.31 L440.50,610.31 L440.50,613.39 L441.00,613.39 L441.00,609.93 L441.50,609.93 L441.50,612.79 L442.00,612.79 L442.00,611.94 L442.50,611.94 L442.50,612.94 L443.00,612.94 L443.00,611.72 L443.50,611.72 L443.50,609.82 L444.00,609.82 L444.00,610.87 L444.50,610.87 L444.50,607.65 L445.00,607.65 L445.00,606.45 L445.50,606.45 L445.50,610.46 L446.00,610.46 L446.00,606.15 L446.50,606.15 L446.50,609.11 L447.00,609.11 L447.00,605.16 L447.50,605.16 L447.50,607.22 L448.00,607.22 L448.00,613.01 L448.50,613.01 L448.50,609.67 L449.00,609.67 L449.00,613.53 L449.50,613.53 L449.50,610.87 L450.00,610.87 L450.00,613.68 L450.50,613.68 L450.50,613.39 L451.00,613.39 L451.00,611.62 L451.50,611.62 L451.50,612.76 L452.00,612.76 L452.00,612.02 L452.50,612.02 L452.50,613.97 L453.00,613.97 L453.00,612.51 L453.50,612.51 L453.50,613.80 L454.00,613.80 L454.00,611.18 L454.50,611.18 L454.50,612.20 L455.00,612.20 L455.00,612.50 L455.50,612.50 L455.50,611.52 L456.00,611.52 L456.00,613.32 L456.50,613.32 L456.50,610.09 L457.00,610.09 L457.00,608.89 L457.50,608.89 L457.50,607.92 L458.00,607.92 L458.00,609.21 L458.50,609.21 L458.50,611.20 L459.00,611.20 L459.00,607.29 L459.50,607.29 L459.50,607.36 L460.00,607.36 L460.00,608.94 L460.50,608.94 L460.50,608.15 L461.00,608.15 L461.00,612.29 L461.50,612.29 L461.50,609.01 L462.00,609.01 L462.00,609.76 L462.50,609.76 L462.50,613.52 L463.00,613.52 L463.00,610.89 L463.50,610.89 L463.50,609.11 L464.00,609.11 L464.00,607.27 L464.50,607.27 L464.50,608.25 L465.00,608.25 L465.00,608.47 L465.50,608.47 L465.50,609.20 L466.00,609.20 L466.00,612.40 L466.50,612.40 L466.50,606.58 L467.00,606.58 L467.00,608.50 L467.50,608.50 L467.50,604.92 L468.00,604.92 L468.00,607.87 L468.50,607.87 L468.50,609.63 L469.00,609.63 L469.00,612.50 L469.50,612.50 L469.50,610.06 L470.00,610.06 L470.00,610.40 L470.50,610.40 L470.50,612.10 L471.00,612.10 L471.00,611.61 L471.50,611.61 L471.50,609.36 L472.00,609.36 L472.00,611.16 L472.50,611.16 L472.50,612.14 L473.00,612.14 L473.00,612.37 L473.50,612.37 L473.50,611.97 L474.00,611.97 L474.00,607.12 L474.50,607.12 L474.50,607.71 L475.00,607.71 L475.00,605.51 L475.50,605.51 L475.50,608.27 L476.00,608.27 L476.00,606.47 L476.50,606.47 L476.50,609.99 L477.00,609.99 L477.00,607.89 L477.50,607.89 L477.50,609.81 L478.00,609.81 L478.00,609.40 L478.50,609.40 L478.50,607.68 L479.00,607.68 L479.00,610.84 L479.50,610.84 L479.50,606.00 L480.00,606.00 L480.00,609.38 L480.50,609.38 L480.50,613.42 L481.00,613.42 L481.00,608.94 L481.50,608.94 L481.50,613.88 L482.00,613.88 L482.00,611.25 L482.50,611.25 L482.50,611.53 L483.00,611.53 L483.00,612.85 L483.50,612.85 L483.50,613.91 L484.00,613.91 L484.00,613.93 L484.50,613.93 L484.50,610.22 L485.00,610.22 L485.00,608.00 L485.50,608.00 L485.50,603.30 L486.00,603.30 L486.00,604.44 L486.50,604.44 L486.50,610.24 L487.00,610.24 L487.00,609.58 L487.50,609.58 L487.50,612.72 L488.00,612.72 L488.00,612.54 L488.50,612.54 L488.50,611.11 L489.00,611.11 L489.00,612.74 L489.50,612.74 L489.50,609.17 L490.00,609.17 L490.00,608.54 L490.50,608.54 L490.50,612.90 L491.00,612.90 L491.00,613.62 L491.50,613.62 L491.50,565.93 L492.00,565.93 L492.00,565.53 L492.50,565.53 L492.50,564.55 L493.00,564.55 L493.00,563.64 L493.50,563.64 L493.50,564.28 L494.00,564.28 L494.00,565.81 L494.50,565.81 L494.50,567.26 L495.00,567.26 L495.00,568.10 L495.50,568.10 L495.50,566.70 L496.00,566.70 L496.00,565.28 L496.50,565.28 L496.50,564.34 L497.00,564.34 L497.00,564.00 L497.50,564.00 L497.50,564.26 L498.00,564.26 L498.00,566.11 L498.50,566.11 L498.50,566.38 L499.00,566.38 L499.00,566.49 L499.50,566.49 L499.50,564.77 L500.00,564.77 L500.00,563.88 L500.50,563.88 L500.50,563.52 L501.00,563.52 L501.00,562.79 L501.50,562.79 L501.50,563.59 L502.00,563.59 L502.00,564.13 L502.50,564.13 L502.50,564.47 L503.00,564.47 L503.00,565.80 L503.50,565.80 L503.50,565.01 L504.00,565.01 L504.00,564.59 L504.50,564.59 L504.50,564.10 L505.00,564.10 L505.00,562.14 L505.50,562.14 L505.50,560.87 L506.00,560.87 L506.00,559.92 L506.50,559.92 L506.50,560.10 L507.00,560.10 L507.00,560.47 L507.50,560.47 L507.50,560.67 L508.00,560.67 L508.00,560.07 L508.50,560.07 L508.50,559.16 L509.00,559.16 L509.00,558.59 L509.50,558.59 L509.50,556.87 L510.00,556.87 L510.00,555.49 L510.50,555.49 L510.50,553.85 L511.00,553.85 L511.00,553.39 L511.50,553.39 L511.50,552.81 L512.00,552.81 L512.00,551.86 L512.50,551.86 L512.50,552.10 L513.00,552.10 L513.00,616.80 L513.00,616.80 L513.00,616.80 Z" fill="#afb0b4"/>
<polyline points="64.50,38.50 152.00,45.00 239.50,93.00" fill="none" stroke="#e9f4fc" stroke-width="3.2" stroke-linejoin="round"/>
<polyline points="64.50,38.50 121.00,61.00 149.00,88.80" fill="none" stroke="#e9f4fc" stroke-width="3.2" stroke-linejoin="round"/>
<polyline points="155.60,89.50 197.50,83.00 239.50,93.00" fill="none" stroke="#e9f4fc" stroke-width="3.2" stroke-linejoin="round"/>
<polyline points="291.50,88.50 333.80,76.30 376.00,84.60" fill="none" stroke="#e9f4fc" stroke-width="3.2" stroke-linejoin="round"/>
<polyline points="407.70,78.00 449.20,63.70 492.30,79.40" fill="none" stroke="#e9f4fc" stroke-width="3.2" stroke-linejoin="round"/>
<polyline points="64.50,176.30 222.00,165.40 375.60,205.60" fill="none" stroke="#f1eef6" stroke-width="3.2" stroke-linejoin="round"/>
<polyline points="155.80,212.30 268.00,189.30 375.60,205.60" fill="none" stroke="#fdf2e6" stroke-width="3.2" stroke-linejoin="round"/>
<polyline points="64.50,176.30 120.80,188.20 148.25,212.30" fill="none" stroke="#e9f4fc" stroke-width="3.2" stroke-linejoin="round"/>
<polyline points="155.80,212.30 204.20,213.80 239.50,224.10" fill="none" stroke="#e9f4fc" stroke-width="3.2" stroke-linejoin="round"/>
<polyline points="291.50,224.40 322.50,209.70 375.60,205.60" fill="none" stroke="#e9f4fc" stroke-width="3.2" stroke-linejoin="round"/>
<polyline points="407.70,200.60 449.20,188.30 491.70,202.50" fill="none" stroke="#e9f4fc" stroke-width="3.2" stroke-linejoin="round"/>
<polyline points="64.40,336.20 152.50,311.30 237.50,329.00" fill="none" stroke="#e9f4fc" stroke-width="3.2" stroke-linejoin="round"/>
<polyline points="64.40,336.20 121.30,332.50 148.25,344.50" fill="none" stroke="#e9f4fc" stroke-width="3.2" stroke-linejoin="round"/>
<polyline points="155.80,345.00 179.50,330.00 237.50,329.00" fill="none" stroke="#e9f4fc" stroke-width="3.2" stroke-linejoin="round"/>
<polyline points="291.50,328.80 333.80,314.30 378.50,329.40" fill="none" stroke="#fdf2e6" stroke-width="3.2" stroke-linejoin="round"/>
<polyline points="291.50,328.80 333.00,326.30 375.40,345.40" fill="none" stroke="#e9f4fc" stroke-width="3.2" stroke-linejoin="round"/>
<polyline points="407.70,303.20 449.80,294.60 491.70,303.20" fill="none" stroke="#e9f4fc" stroke-width="3.2" stroke-linejoin="round"/>
<polyline points="64.50,474.50 154.30,440.00 239.50,454.30" fill="none" stroke="#e9f4fc" stroke-width="3.2" stroke-linejoin="round"/>
<polyline points="64.50,474.50 107.20,471.50 148.25,480.50" fill="none" stroke="#e9f4fc" stroke-width="3.2" stroke-linejoin="round"/>
<polyline points="155.80,479.50 197.50,455.50 239.50,454.30" fill="none" stroke="#e9f4fc" stroke-width="3.2" stroke-linejoin="round"/>
<polyline points="291.50,448.00 333.80,430.80 375.40,450.80" fill="none" stroke="#e9f4fc" stroke-width="3.2" stroke-linejoin="round"/>
<polyline points="400.50,421.00 464.60,416.90 490.80,445.50" fill="none" stroke="#fdf2e6" stroke-width="3.2" stroke-linejoin="round"/>
<polyline points="407.70,425.20 447.70,429.20 490.80,445.50" fill="none" stroke="#e9f4fc" stroke-width="3.2" stroke-linejoin="round"/>
<polyline points="64.50,570.40 150.00,556.80 238.80,554.30" fill="none" stroke="#e9f4fc" stroke-width="3.2" stroke-linejoin="round"/>
<polyline points="64.50,570.40 117.50,577.00 148.25,592.50" fill="none" stroke="#e9f4fc" stroke-width="3.2" stroke-linejoin="round"/>
<polyline points="155.80,592.00 192.50,569.30 238.80,554.30" fill="none" stroke="#e9f4fc" stroke-width="3.2" stroke-linejoin="round"/>
<polyline points="291.50,577.80 333.60,561.20 375.40,583.20" fill="none" stroke="#e9f4fc" stroke-width="3.2" stroke-linejoin="round"/>
<polyline points="401.50,571.30 447.70,553.70 491.70,568.50" fill="none" stroke="#fdf2e6" stroke-width="3.2" stroke-linejoin="round"/>
<polyline points="407.70,587.60 447.70,571.00 491.70,569.00" fill="none" stroke="#e9f4fc" stroke-width="3.2" stroke-linejoin="round"/>
<line x1="42" y1="106.8" x2="513" y2="106.8" stroke="#9c9da1" stroke-width="1.2"/>
<line x1="38.0" y1="24.40" x2="38.0" y2="108.00" stroke="#3a3a3a" stroke-width="1.5"/>
<line x1="35.2" y1="26.80" x2="38.0" y2="26.80" stroke="#3a3a3a" stroke-width="1.1"/>
<text transform="translate(32.30,29.20) scale(1.120,1)" text-anchor="end" font-size="7.70" font-weight="normal" fill="#2e2e2e" stroke="#2e2e2e" stroke-width="0.22">350</text>
<line x1="35.2" y1="38.30" x2="38.0" y2="38.30" stroke="#3a3a3a" stroke-width="1.1"/>
<text transform="translate(32.30,40.70) scale(1.120,1)" text-anchor="end" font-size="7.70" font-weight="normal" fill="#2e2e2e" stroke="#2e2e2e" stroke-width="0.22">300</text>
<line x1="35.2" y1="49.80" x2="38.0" y2="49.80" stroke="#3a3a3a" stroke-width="1.1"/>
<text transform="translate(32.30,52.20) scale(1.120,1)" text-anchor="end" font-size="7.70" font-weight="normal" fill="#2e2e2e" stroke="#2e2e2e" stroke-width="0.22">250</text>
<line x1="35.2" y1="61.30" x2="38.0" y2="61.30" stroke="#3a3a3a" stroke-width="1.1"/>
<text transform="translate(32.30,63.70) scale(1.120,1)" text-anchor="end" font-size="7.70" font-weight="normal" fill="#2e2e2e" stroke="#2e2e2e" stroke-width="0.22">200</text>
<line x1="35.2" y1="72.90" x2="38.0" y2="72.90" stroke="#3a3a3a" stroke-width="1.1"/>
<text transform="translate(32.30,75.30) scale(1.120,1)" text-anchor="end" font-size="7.70" font-weight="normal" fill="#2e2e2e" stroke="#2e2e2e" stroke-width="0.22">150</text>
<line x1="35.2" y1="84.40" x2="38.0" y2="84.40" stroke="#3a3a3a" stroke-width="1.1"/>
<text transform="translate(32.30,86.80) scale(1.120,1)" text-anchor="end" font-size="7.70" font-weight="normal" fill="#2e2e2e" stroke="#2e2e2e" stroke-width="0.22">100</text>
<line x1="35.2" y1="95.90" x2="38.0" y2="95.90" stroke="#3a3a3a" stroke-width="1.1"/>
<text transform="translate(32.30,98.30) scale(1.120,1)" text-anchor="end" font-size="7.70" font-weight="normal" fill="#2e2e2e" stroke="#2e2e2e" stroke-width="0.22">50</text>
<line x1="35.2" y1="107.40" x2="38.0" y2="107.40" stroke="#3a3a3a" stroke-width="1.1"/>
<text transform="translate(32.30,109.80) scale(1.120,1)" text-anchor="end" font-size="7.70" font-weight="normal" fill="#2e2e2e" stroke="#2e2e2e" stroke-width="0.22">0</text>
<text transform="translate(7.60,16.20) scale(1.000,1)" text-anchor="start" font-size="10.80" font-weight="bold" fill="#000">A</text>
<text transform="translate(65.50,30.00) scale(1.000,1)" text-anchor="start" font-size="7.90" font-weight="normal" fill="#1e1e1e" stroke="#1e1e1e" stroke-width="0.12">HD_1 | WT</text>
<polyline points="64.50,38.50 152.00,45.00 239.50,93.00" fill="none" stroke="#3b6797" stroke-width="1.25" stroke-linejoin="miter"/>
<polyline points="64.50,38.50 121.00,61.00 149.00,88.80" fill="none" stroke="#3b6797" stroke-width="1.25" stroke-linejoin="miter"/>
<polyline points="155.60,89.50 197.50,83.00 239.50,93.00" fill="none" stroke="#3b6797" stroke-width="1.25" stroke-linejoin="miter"/>
<polyline points="291.50,88.50 333.80,76.30 376.00,84.60" fill="none" stroke="#3b6797" stroke-width="1.25" stroke-linejoin="miter"/>
<polyline points="407.70,78.00 449.20,63.70 492.30,79.40" fill="none" stroke="#3b6797" stroke-width="1.25" stroke-linejoin="miter"/>
<text transform="translate(152.50,43.40) scale(1.070,1)" text-anchor="middle" font-size="8.00" font-weight="normal" fill="#1e1e1e" stroke="#1e1e1e" stroke-width="0.18">20</text>
<text transform="translate(125.50,57.90) scale(1.070,1)" text-anchor="middle" font-size="8.00" font-weight="normal" fill="#1e1e1e" stroke="#1e1e1e" stroke-width="0.18">79</text>
<text transform="translate(198.00,81.60) scale(1.070,1)" text-anchor="middle" font-size="8.00" font-weight="normal" fill="#1e1e1e" stroke="#1e1e1e" stroke-width="0.18">35</text>
<text transform="translate(333.50,74.90) scale(1.070,1)" text-anchor="middle" font-size="8.00" font-weight="normal" fill="#1e1e1e" stroke="#1e1e1e" stroke-width="0.18">68</text>
<text transform="translate(449.00,61.40) scale(1.070,1)" text-anchor="middle" font-size="8.00" font-weight="normal" fill="#1e1e1e" stroke="#1e1e1e" stroke-width="0.18">56</text>
<line x1="42" y1="225.6" x2="513" y2="225.6" stroke="#9c9da1" stroke-width="1.2"/>
<path d="M239,225 Q265,226.6 291.5,225" fill="none" stroke="#b9babd" stroke-width="1.0"/>
<line x1="38.0" y1="145.00" x2="38.0" y2="227.00" stroke="#3a3a3a" stroke-width="1.5"/>
<line x1="35.2" y1="146.80" x2="38.0" y2="146.80" stroke="#3a3a3a" stroke-width="1.1"/>
<text transform="translate(32.30,149.20) scale(1.120,1)" text-anchor="end" font-size="7.70" font-weight="normal" fill="#2e2e2e" stroke="#2e2e2e" stroke-width="0.22">600</text>
<line x1="35.2" y1="173.20" x2="38.0" y2="173.20" stroke="#3a3a3a" stroke-width="1.1"/>
<text transform="translate(32.30,175.60) scale(1.120,1)" text-anchor="end" font-size="7.70" font-weight="normal" fill="#2e2e2e" stroke="#2e2e2e" stroke-width="0.22">400</text>
<line x1="35.2" y1="199.60" x2="38.0" y2="199.60" stroke="#3a3a3a" stroke-width="1.1"/>
<text transform="translate(32.30,202.00) scale(1.120,1)" text-anchor="end" font-size="7.70" font-weight="normal" fill="#2e2e2e" stroke="#2e2e2e" stroke-width="0.22">200</text>
<line x1="35.2" y1="226.00" x2="38.0" y2="226.00" stroke="#3a3a3a" stroke-width="1.1"/>
<text transform="translate(32.30,228.40) scale(1.120,1)" text-anchor="end" font-size="7.70" font-weight="normal" fill="#2e2e2e" stroke="#2e2e2e" stroke-width="0.22">0</text>
<text transform="translate(7.60,136.40) scale(1.000,1)" text-anchor="start" font-size="10.80" font-weight="bold" fill="#000">B</text>
<text transform="translate(65.50,150.50) scale(1.000,1)" text-anchor="start" font-size="7.90" font-weight="normal" fill="#1e1e1e" stroke="#1e1e1e" stroke-width="0.12">FPD_9.1_BM1 | c.351+1G&gt;A</text>
<polyline points="64.50,176.30 222.00,165.40 375.60,205.60" fill="none" stroke="#7c6a99" stroke-width="1.25" stroke-linejoin="miter"/>
<polyline points="155.80,212.30 268.00,189.30 375.60,205.60" fill="none" stroke="#e0903e" stroke-width="1.25" stroke-linejoin="miter"/>
<polyline points="64.50,176.30 120.80,188.20 148.25,212.30" fill="none" stroke="#3b6797" stroke-width="1.25" stroke-linejoin="miter"/>
<polyline points="155.80,212.30 204.20,213.80 239.50,224.10" fill="none" stroke="#3b6797" stroke-width="1.25" stroke-linejoin="miter"/>
<polyline points="291.50,224.40 322.50,209.70 375.60,205.60" fill="none" stroke="#3b6797" stroke-width="1.25" stroke-linejoin="miter"/>
<polyline points="407.70,200.60 449.20,188.30 491.70,202.50" fill="none" stroke="#3b6797" stroke-width="1.25" stroke-linejoin="miter"/>
<text transform="translate(224.60,162.90) scale(1.070,1)" text-anchor="middle" font-size="8.00" font-weight="normal" fill="#1e1e1e" stroke="#1e1e1e" stroke-width="0.18">38</text>
<text transform="translate(126.50,185.60) scale(1.070,1)" text-anchor="middle" font-size="8.00" font-weight="normal" fill="#1e1e1e" stroke="#1e1e1e" stroke-width="0.18">108</text>
<text transform="translate(262.30,188.30) scale(1.070,1)" text-anchor="start" font-size="8.00" font-weight="normal" fill="#1e1e1e" stroke="#1e1e1e" stroke-width="0.18">52</text>
<text transform="translate(207.80,211.50) scale(1.070,1)" text-anchor="middle" font-size="8.00" font-weight="normal" fill="#1e1e1e" stroke="#1e1e1e" stroke-width="0.18">17</text>
<text transform="translate(318.60,208.10) scale(1.070,1)" text-anchor="middle" font-size="8.00" font-weight="normal" fill="#1e1e1e" stroke="#1e1e1e" stroke-width="0.18">18</text>
<text transform="translate(449.00,186.80) scale(1.070,1)" text-anchor="middle" font-size="8.00" font-weight="normal" fill="#1e1e1e" stroke="#1e1e1e" stroke-width="0.18">105</text>
<line x1="247.00" y1="160.40" x2="236.30" y2="160.40" stroke="#b5362e" stroke-width="1.0"/><polygon points="231.80,160.40 236.30,158.10 236.30,162.70" fill="#b5362e"/>
<circle cx="253.00" cy="160.50" r="5.50" fill="#111"/><text transform="translate(253.00,163.30) scale(1.000,1)" text-anchor="middle" font-size="8.00" font-weight="bold" fill="#fff">1</text>
<line x1="247.20" y1="186.20" x2="256.50" y2="186.20" stroke="#b5362e" stroke-width="1.0"/><polygon points="261.00,186.20 256.50,183.90 256.50,188.50" fill="#b5362e"/>
<circle cx="240.00" cy="186.20" r="5.50" fill="#111"/><text transform="translate(240.00,189.00) scale(1.000,1)" text-anchor="middle" font-size="8.00" font-weight="bold" fill="#fff">2</text>
<circle cx="291.50" cy="231.10" r="1.15" fill="#1a1a1a"/>
<line x1="42" y1="356.9" x2="513" y2="356.9" stroke="#9c9da1" stroke-width="1.2"/>
<line x1="38.0" y1="272.00" x2="38.0" y2="359.00" stroke="#3a3a3a" stroke-width="1.5"/>
<line x1="35.2" y1="274.30" x2="38.0" y2="274.30" stroke="#3a3a3a" stroke-width="1.1"/>
<text transform="translate(32.30,276.70) scale(1.120,1)" text-anchor="end" font-size="7.70" font-weight="normal" fill="#2e2e2e" stroke="#2e2e2e" stroke-width="0.22">160</text>
<line x1="35.2" y1="295.20" x2="38.0" y2="295.20" stroke="#3a3a3a" stroke-width="1.1"/>
<text transform="translate(32.30,297.60) scale(1.120,1)" text-anchor="end" font-size="7.70" font-weight="normal" fill="#2e2e2e" stroke="#2e2e2e" stroke-width="0.22">120</text>
<line x1="35.2" y1="316.10" x2="38.0" y2="316.10" stroke="#3a3a3a" stroke-width="1.1"/>
<text transform="translate(32.30,318.50) scale(1.120,1)" text-anchor="end" font-size="7.70" font-weight="normal" fill="#2e2e2e" stroke="#2e2e2e" stroke-width="0.22">80</text>
<line x1="35.2" y1="337.00" x2="38.0" y2="337.00" stroke="#3a3a3a" stroke-width="1.1"/>
<text transform="translate(32.30,339.40) scale(1.120,1)" text-anchor="end" font-size="7.70" font-weight="normal" fill="#2e2e2e" stroke="#2e2e2e" stroke-width="0.22">40</text>
<line x1="35.2" y1="357.90" x2="38.0" y2="357.90" stroke="#3a3a3a" stroke-width="1.1"/>
<text transform="translate(32.30,360.30) scale(1.120,1)" text-anchor="end" font-size="7.70" font-weight="normal" fill="#2e2e2e" stroke="#2e2e2e" stroke-width="0.22">0</text>
<text transform="translate(7.60,264.20) scale(1.000,1)" text-anchor="start" font-size="10.80" font-weight="bold" fill="#000">C</text>
<text transform="translate(65.50,283.20) scale(1.000,1)" text-anchor="start" font-size="7.90" font-weight="normal" fill="#1e1e1e" stroke="#1e1e1e" stroke-width="0.12">FPD_7.3_BM1m | c.352<tspan dx="0.9">-</tspan><tspan dx="0.9">1G&gt;C</tspan></text>
<polyline points="64.40,336.20 152.50,311.30 237.50,329.00" fill="none" stroke="#3b6797" stroke-width="1.25" stroke-linejoin="miter"/>
<polyline points="64.40,336.20 121.30,332.50 148.25,344.50" fill="none" stroke="#3b6797" stroke-width="1.25" stroke-linejoin="miter"/>
<polyline points="155.80,345.00 179.50,330.00 237.50,329.00" fill="none" stroke="#3b6797" stroke-width="1.25" stroke-linejoin="miter"/>
<polyline points="291.50,328.80 333.80,314.30 378.50,329.40" fill="none" stroke="#e0903e" stroke-width="1.25" stroke-linejoin="miter"/>
<polyline points="291.50,328.80 333.00,326.30 375.40,345.40" fill="none" stroke="#3b6797" stroke-width="1.25" stroke-linejoin="miter"/>
<polyline points="407.70,303.20 449.80,294.60 491.70,303.20" fill="none" stroke="#3b6797" stroke-width="1.25" stroke-linejoin="miter"/>
<text transform="translate(153.80,309.10) scale(1.070,1)" text-anchor="middle" font-size="8.00" font-weight="normal" fill="#1e1e1e" stroke="#1e1e1e" stroke-width="0.18">7</text>
<text transform="translate(128.80,331.60) scale(1.070,1)" text-anchor="middle" font-size="8.00" font-weight="normal" fill="#1e1e1e" stroke="#1e1e1e" stroke-width="0.18">26</text>
<text transform="translate(176.30,327.90) scale(1.070,1)" text-anchor="middle" font-size="8.00" font-weight="normal" fill="#1e1e1e" stroke="#1e1e1e" stroke-width="0.18">22</text>
<text transform="translate(334.50,312.10) scale(1.070,1)" text-anchor="middle" font-size="8.00" font-weight="normal" fill="#1e1e1e" stroke="#1e1e1e" stroke-width="0.18">27</text>
<text transform="translate(334.80,324.20) scale(1.070,1)" text-anchor="middle" font-size="8.00" font-weight="normal" fill="#1e1e1e" stroke="#1e1e1e" stroke-width="0.18">25</text>
<text transform="translate(448.50,291.40) scale(1.070,1)" text-anchor="middle" font-size="8.00" font-weight="normal" fill="#1e1e1e" stroke="#1e1e1e" stroke-width="0.18">99</text>
<line x1="315.00" y1="309.50" x2="324.30" y2="309.50" stroke="#b5362e" stroke-width="1.0"/><polygon points="328.80,309.50 324.30,307.20 324.30,311.80" fill="#b5362e"/>
<circle cx="307.00" cy="309.50" r="5.50" fill="#111"/><text transform="translate(307.00,312.30) scale(1.000,1)" text-anchor="middle" font-size="8.00" font-weight="bold" fill="#fff">3</text>
<circle cx="375.20" cy="362.80" r="1.15" fill="#1a1a1a"/>
<line x1="42" y1="487.2" x2="513" y2="487.2" stroke="#9c9da1" stroke-width="1.2"/>
<line x1="38.0" y1="404.30" x2="38.0" y2="489.00" stroke="#3a3a3a" stroke-width="1.5"/>
<line x1="35.2" y1="405.50" x2="38.0" y2="405.50" stroke="#3a3a3a" stroke-width="1.1"/>
<text transform="translate(32.30,407.90) scale(1.120,1)" text-anchor="end" font-size="7.70" font-weight="normal" fill="#2e2e2e" stroke="#2e2e2e" stroke-width="0.22">200</text>
<line x1="35.2" y1="426.30" x2="38.0" y2="426.30" stroke="#3a3a3a" stroke-width="1.1"/>
<text transform="translate(32.30,428.70) scale(1.120,1)" text-anchor="end" font-size="7.70" font-weight="normal" fill="#2e2e2e" stroke="#2e2e2e" stroke-width="0.22">150</text>
<line x1="35.2" y1="447.00" x2="38.0" y2="447.00" stroke="#3a3a3a" stroke-width="1.1"/>
<text transform="translate(32.30,449.40) scale(1.120,1)" text-anchor="end" font-size="7.70" font-weight="normal" fill="#2e2e2e" stroke="#2e2e2e" stroke-width="0.22">100</text>
<line x1="35.2" y1="467.50" x2="38.0" y2="467.50" stroke="#3a3a3a" stroke-width="1.1"/>
<text transform="translate(32.30,469.90) scale(1.120,1)" text-anchor="end" font-size="7.70" font-weight="normal" fill="#2e2e2e" stroke="#2e2e2e" stroke-width="0.22">50</text>
<line x1="35.2" y1="488.10" x2="38.0" y2="488.10" stroke="#3a3a3a" stroke-width="1.1"/>
<text transform="translate(32.30,490.50) scale(1.120,1)" text-anchor="end" font-size="7.70" font-weight="normal" fill="#2e2e2e" stroke="#2e2e2e" stroke-width="0.22">0</text>
<text transform="translate(7.60,395.60) scale(1.000,1)" text-anchor="start" font-size="10.80" font-weight="bold" fill="#000">D</text>
<text transform="translate(65.50,411.00) scale(1.000,1)" text-anchor="start" font-size="7.90" font-weight="normal" fill="#1e1e1e" stroke="#1e1e1e" stroke-width="0.12">FPD_12.1_BM1m | c.508+3delA</text>
<polyline points="64.50,474.50 154.30,440.00 239.50,454.30" fill="none" stroke="#3b6797" stroke-width="1.25" stroke-linejoin="miter"/>
<polyline points="64.50,474.50 107.20,471.50 148.25,480.50" fill="none" stroke="#3b6797" stroke-width="1.25" stroke-linejoin="miter"/>
<polyline points="155.80,479.50 197.50,455.50 239.50,454.30" fill="none" stroke="#3b6797" stroke-width="1.25" stroke-linejoin="miter"/>
<polyline points="291.50,448.00 333.80,430.80 375.40,450.80" fill="none" stroke="#3b6797" stroke-width="1.25" stroke-linejoin="miter"/>
<polyline points="400.50,421.00 464.60,416.90 490.80,445.50" fill="none" stroke="#e0903e" stroke-width="1.25" stroke-linejoin="miter"/>
<polyline points="407.70,425.20 447.70,429.20 490.80,445.50" fill="none" stroke="#3b6797" stroke-width="1.25" stroke-linejoin="miter"/>
<text transform="translate(153.80,436.60) scale(1.070,1)" text-anchor="middle" font-size="8.00" font-weight="normal" fill="#1e1e1e" stroke="#1e1e1e" stroke-width="0.18">6</text>
<text transform="translate(108.60,470.40) scale(1.070,1)" text-anchor="middle" font-size="8.00" font-weight="normal" fill="#1e1e1e" stroke="#1e1e1e" stroke-width="0.18">19</text>
<text transform="translate(188.80,454.10) scale(1.070,1)" text-anchor="middle" font-size="8.00" font-weight="normal" fill="#1e1e1e" stroke="#1e1e1e" stroke-width="0.18">10</text>
<text transform="translate(334.50,429.10) scale(1.070,1)" text-anchor="middle" font-size="8.00" font-weight="normal" fill="#1e1e1e" stroke="#1e1e1e" stroke-width="0.18">90</text>
<text transform="translate(471.40,416.10) scale(1.070,1)" text-anchor="middle" font-size="8.00" font-weight="normal" fill="#1e1e1e" stroke="#1e1e1e" stroke-width="0.18">18</text>
<text transform="translate(454.60,428.90) scale(1.070,1)" text-anchor="middle" font-size="8.00" font-weight="normal" fill="#1e1e1e" stroke="#1e1e1e" stroke-width="0.18">81</text>
<line x1="492.30" y1="413.60" x2="482.10" y2="413.60" stroke="#b5362e" stroke-width="1.0"/><polygon points="477.60,413.60 482.10,411.30 482.10,415.90" fill="#b5362e"/>
<circle cx="500.00" cy="413.60" r="5.50" fill="#111"/><text transform="translate(500.00,416.40) scale(1.000,1)" text-anchor="middle" font-size="8.00" font-weight="bold" fill="#fff">4</text>
<circle cx="410.40" cy="492.90" r="1.15" fill="#1a1a1a"/>
<line x1="42" y1="616.2" x2="513" y2="616.2" stroke="#9c9da1" stroke-width="1.2"/>
<line x1="38.0" y1="532.50" x2="38.0" y2="618.00" stroke="#3a3a3a" stroke-width="1.5"/>
<line x1="35.2" y1="557.00" x2="38.0" y2="557.00" stroke="#3a3a3a" stroke-width="1.1"/>
<text transform="translate(32.30,559.40) scale(1.120,1)" text-anchor="end" font-size="7.70" font-weight="normal" fill="#2e2e2e" stroke="#2e2e2e" stroke-width="0.22">800</text>
<line x1="35.2" y1="587.00" x2="38.0" y2="587.00" stroke="#3a3a3a" stroke-width="1.1"/>
<text transform="translate(32.30,589.40) scale(1.120,1)" text-anchor="end" font-size="7.70" font-weight="normal" fill="#2e2e2e" stroke="#2e2e2e" stroke-width="0.22">400</text>
<line x1="35.2" y1="617.00" x2="38.0" y2="617.00" stroke="#3a3a3a" stroke-width="1.1"/>
<text transform="translate(32.30,619.40) scale(1.120,1)" text-anchor="end" font-size="7.70" font-weight="normal" fill="#2e2e2e" stroke="#2e2e2e" stroke-width="0.22">0</text>
<text transform="translate(7.60,526.00) scale(1.000,1)" text-anchor="start" font-size="10.80" font-weight="bold" fill="#000">E</text>
<text transform="translate(65.50,543.20) scale(1.000,1)" text-anchor="start" font-size="7.90" font-weight="normal" fill="#1e1e1e" stroke="#1e1e1e" stroke-width="0.12">FPD_4.2_BM2 | c.508G&gt;C</text>
<polyline points="64.50,570.40 150.00,556.80 238.80,554.30" fill="none" stroke="#3b6797" stroke-width="1.25" stroke-linejoin="miter"/>
<polyline points="64.50,570.40 117.50,577.00 148.25,592.50" fill="none" stroke="#3b6797" stroke-width="1.25" stroke-linejoin="miter"/>
<polyline points="155.80,592.00 192.50,569.30 238.80,554.30" fill="none" stroke="#3b6797" stroke-width="1.25" stroke-linejoin="miter"/>
<polyline points="291.50,577.80 333.60,561.20 375.40,583.20" fill="none" stroke="#3b6797" stroke-width="1.25" stroke-linejoin="miter"/>
<polyline points="401.50,571.30 447.70,553.70 491.70,568.50" fill="none" stroke="#e0903e" stroke-width="1.25" stroke-linejoin="miter"/>
<polyline points="407.70,587.60 447.70,571.00 491.70,569.00" fill="none" stroke="#3b6797" stroke-width="1.25" stroke-linejoin="miter"/>
<text transform="translate(153.30,554.90) scale(1.070,1)" text-anchor="middle" font-size="8.00" font-weight="normal" fill="#1e1e1e" stroke="#1e1e1e" stroke-width="0.18">83</text>
<text transform="translate(124.40,574.10) scale(1.070,1)" text-anchor="middle" font-size="8.00" font-weight="normal" fill="#1e1e1e" stroke="#1e1e1e" stroke-width="0.18">306</text>
<text transform="translate(182.50,569.10) scale(1.070,1)" text-anchor="middle" font-size="8.00" font-weight="normal" fill="#1e1e1e" stroke="#1e1e1e" stroke-width="0.18">291</text>
<text transform="translate(333.30,560.30) scale(1.070,1)" text-anchor="middle" font-size="8.00" font-weight="normal" fill="#1e1e1e" stroke="#1e1e1e" stroke-width="0.18">452</text>
<text transform="translate(447.70,551.90) scale(1.070,1)" text-anchor="middle" font-size="8.00" font-weight="normal" fill="#1e1e1e" stroke="#1e1e1e" stroke-width="0.18">201</text>
<text transform="translate(445.70,569.20) scale(1.070,1)" text-anchor="middle" font-size="8.00" font-weight="normal" fill="#1e1e1e" stroke="#1e1e1e" stroke-width="0.18">264</text>
<line x1="472.30" y1="549.40" x2="463.30" y2="549.40" stroke="#b5362e" stroke-width="1.0"/><polygon points="458.80,549.40 463.30,547.10 463.30,551.70" fill="#b5362e"/>
<circle cx="480.20" cy="549.40" r="5.50" fill="#111"/><text transform="translate(480.20,552.20) scale(1.000,1)" text-anchor="middle" font-size="8.00" font-weight="bold" fill="#fff">4</text>
<circle cx="407.40" cy="621.50" r="1.15" fill="#1a1a1a"/>
<line x1="64" y1="637.5" x2="491" y2="637.5" stroke="#111" stroke-width="1.1"/>
<rect x="42.10" y="629.8" width="22.90" height="15.4" fill="#111"/>
<text x="53.55" y="640.3" text-anchor="middle" font-size="7.8" fill="#fff">E2</text>
<rect x="148.00" y="629.8" width="8.00" height="15.4" fill="#111"/>
<text x="152.00" y="640.3" text-anchor="middle" font-size="7.8" fill="#fff">E3</text>
<rect x="239.10" y="629.8" width="53.20" height="15.4" fill="#111"/>
<text x="265.70" y="640.3" text-anchor="middle" font-size="7.8" fill="#fff">E4</text>
<rect x="374.80" y="629.8" width="32.90" height="15.4" fill="#111"/>
<text x="391.25" y="640.3" text-anchor="middle" font-size="7.8" fill="#fff">E5</text>
<rect x="490.80" y="629.8" width="21.50" height="15.4" fill="#111"/>
<text x="501.55" y="640.3" text-anchor="middle" font-size="7.8" fill="#fff">E6</text>
</svg>
<div class="frame"></div>
</body></html>
